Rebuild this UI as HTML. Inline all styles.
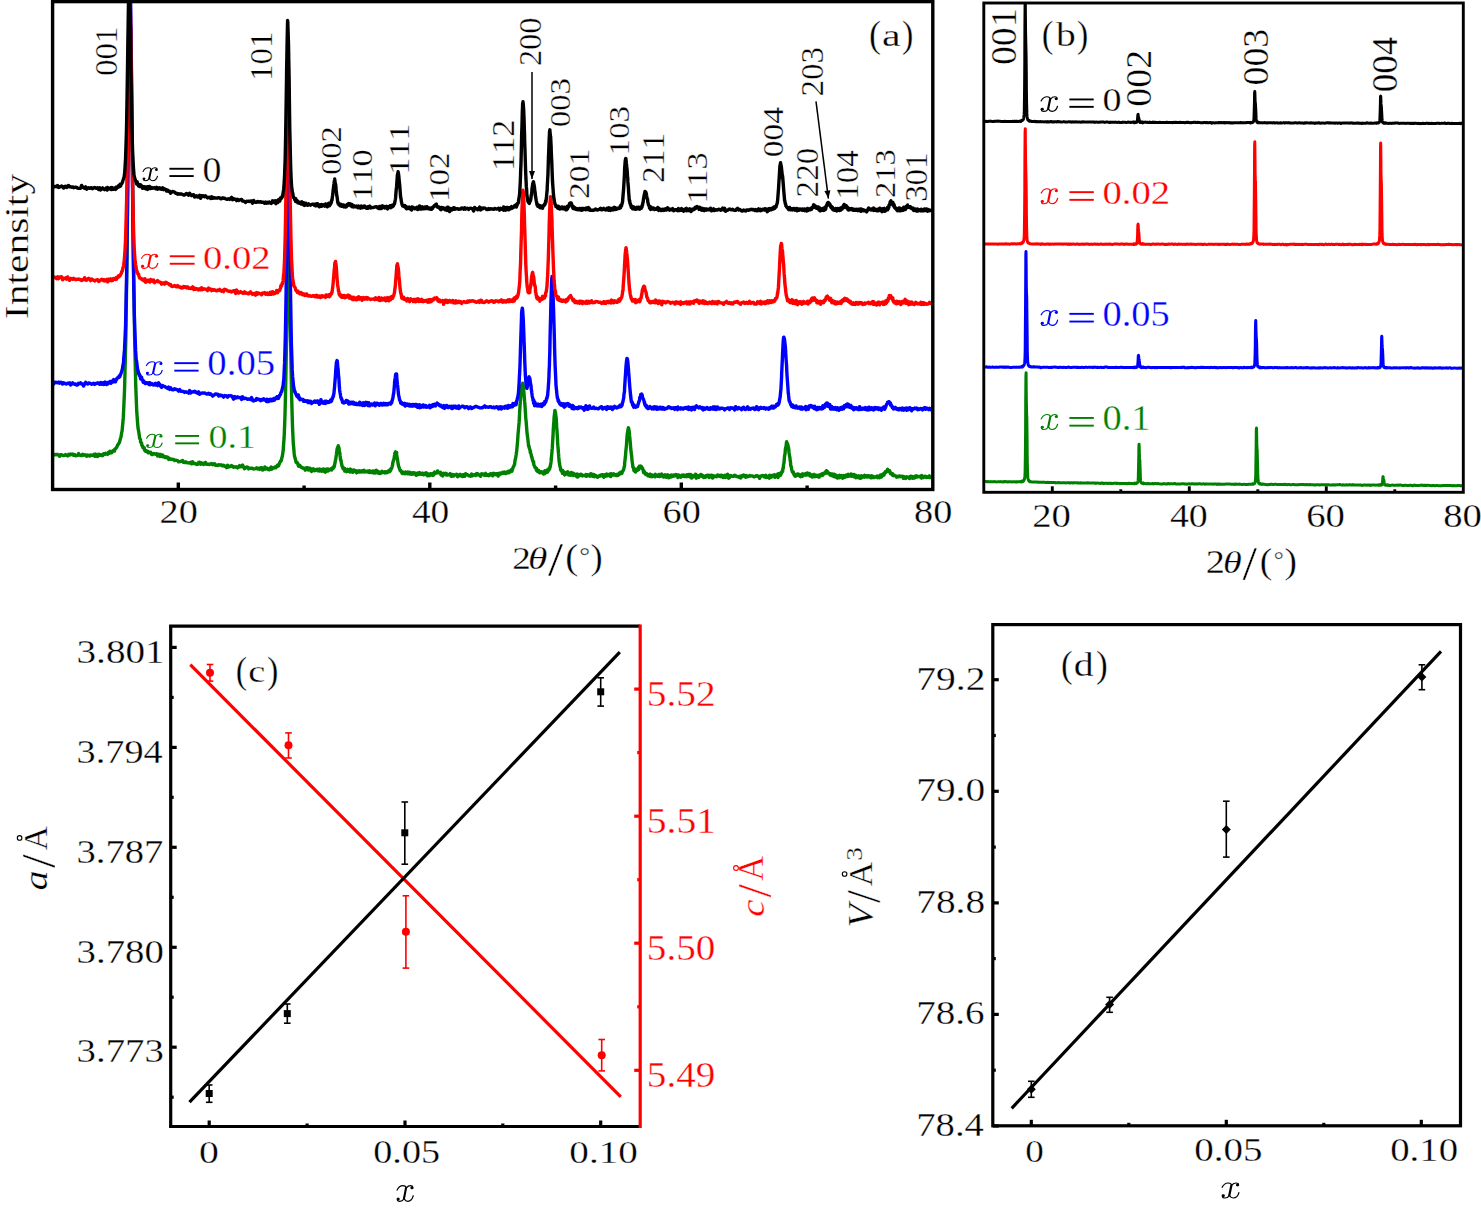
<!DOCTYPE html><html><head><meta charset="utf-8"><style>html,body{margin:0;padding:0;background:#fff;}svg{display:block;font-family:"Liberation Serif",serif;font-kerning:none;}</style></head><body>
<svg width="1481" height="1210" viewBox="0 0 1481 1210">
<rect width="1481" height="1210" fill="#fff"/>
<defs><clipPath id="ca"><rect x="52.6" y="1.6" width="880.2" height="487.9"/></clipPath>
<clipPath id="cb"><rect x="983.8" y="3.0" width="479.5" height="489.3"/></clipPath></defs>
<g clip-path="url(#ca)" fill="none" stroke-width="3.4" stroke-linejoin="round">
<path stroke="#008000" d="M52.6 455L53.6 455.2L54.6 454.8L55.6 454.4L56.6 454.7L57.6 454.4L58.6 455.2L59.6 456.2L60.6 454.8L61.6 454.7L62.6 455.6L63.6 455.5L64.6 455.4L65.6 454.6L66.6 455.3L67.6 455.9L68.6 454.4L69.6 455L70.6 454L71.6 454.5L72.6 454.1L73.6 455.3L74.6 454.5L75.6 455.7L76.6 455.6L77.6 455.4L78.6 453.6L79.6 455.1L80.6 455.5L81.6 455.6L82.6 454.4L83.6 455.2L84.6 454.8L85.6 454.9L86.6 456.3L87.6 454.9L88.6 455.5L89.6 456.1L90.6 455L91.6 455.3L92.6 455.5L93.6 455.4L93.8 454.4L94.6 455.4L95.1 456.3L95.6 454.1L96.3 455.9L96.6 455.3L97.5 454.7L97.6 456.6L98.6 455.6L98.8 454.1L99.6 455L100 455.3L100.6 454.7L101.2 455.3L101.6 454.7L102.4 455.1L102.6 455.7L103.6 453.9L103.7 454.6L104.6 453.9L104.9 454.3L105.6 453.2L106.1 453.5L106.6 453.7L107.3 454.3L107.6 454.4L108.6 452.2L108.6 452.6L109.6 453.3L109.8 451.3L110.6 452.1L111 452.1L111.6 452.8L112.3 452L112.6 451L113.5 450.4L113.6 450.4L114.6 450.9L114.7 449.3L115.6 448.5L115.9 448.5L116.6 447.3L117.2 446.4L117.6 445L118.4 444.3L118.6 443.6L119.6 442.3L119.6 441.8L120.6 438L120.9 437.5L121.6 432.9L122.1 430.8L122.6 425.5L123.3 417.4L123.6 411.3L124.5 391L124.6 387.5L125.6 347.2L125.8 340.1L126.6 285.9L127 256.3L127.6 204.1L128.2 143.4L128.6 107.8L129.4 43.8L129.6 35.9L130.6 25.8L130.7 28.1L131.6 86.9L131.9 113.1L132.6 178.2L133.1 227.5L133.6 267.6L134.4 320.3L134.6 335.9L135.6 379.7L135.6 381.7L136.6 408.3L136.8 412.2L137.6 423.1L138 427.9L138.6 430.9L139.3 435.4L139.6 438.1L140.5 439.6L140.6 442.2L141.6 443L141.7 445.2L142.6 445.8L142.9 447.6L143.6 448.1L144.2 447.7L144.6 450.3L145.4 451.3L145.6 450.3L146.6 451L146.6 451.1L147.6 451.1L147.9 452.8L148.6 452L149.1 452.6L149.6 452.2L150.3 452.6L150.6 452.2L151.5 454.4L151.6 453.4L152.6 454.5L152.8 453.8L153.6 453.4L154 453.8L154.6 453.8L155.2 454.3L155.6 454.1L156.5 454.3L156.6 453.6L157.6 454.2L157.7 456.1L158.6 454.6L158.9 454.4L159.6 455.6L160.1 456.6L160.6 454.5L161.4 455.7L161.6 455.5L162.6 455L162.6 456.8L163.6 456.6L163.8 456.7L164.6 456.4L165 457.5L165.6 456.9L166.3 457.5L166.6 456.9L167.6 457.1L168.6 459.4L169.6 458.4L170.6 459.3L171.6 459.3L172.6 459.3L173.6 459.5L174.6 460.6L175.6 460.1L176.6 460.4L177.6 460.7L178.6 461.8L179.6 461.6L180.6 461.5L181.6 461L182.6 460.5L183.6 462.4L184.6 462.5L185.6 461.8L186.6 462.5L187.6 462.8L188.6 462.9L189.6 463.1L190.6 462.2L191.6 463.8L192.6 461.8L193.6 463.5L194.6 463.3L195.6 463.7L196.6 464.6L197.6 464.4L198.6 462.5L199.6 462.2L200.6 464.2L201.6 462.9L202.6 463.8L203.6 464.5L204.6 462.8L205.6 462.5L206.6 464.4L207.6 464.3L208.6 464.2L209.6 464.5L210.6 463.9L211.6 463.5L212.6 464.7L213.6 464.1L214.6 463.7L215.6 465.4L216.6 465.1L217.6 465.6L218.6 464.6L219.6 465L220.6 464.8L221.6 465L222.6 465.9L223.6 465.2L224.6 466.2L225.6 466.3L226.6 467.6L227.6 465.2L228.6 467L229.6 466.3L230.6 466.5L231.6 465.5L232.6 466.3L233.6 467.3L234.6 466.8L235.6 467L236.6 466.8L237.6 468L238.6 467.2L239.6 465.6L240.6 466.8L241.6 466L242.6 465.1L243.6 467.2L244.6 468.7L245.6 467.8L246.6 467L247.6 467.2L248.6 468.9L249.6 468.2L250.6 468.2L251.6 468.2L252.6 468.3L253.6 469L254.6 468.9L255.6 468.7L256.6 467.8L257.6 469L258.6 468.2L259.6 469.5L260.6 467.8L261.1 468.7L261.6 468.8L262 467.8L262.6 470.1L262.9 469.9L263.6 468.5L263.8 469.4L264.6 469.2L264.8 466.9L265.6 469.1L265.7 468.8L266.6 468.9L266.6 468.1L267.5 468.6L267.6 468.6L268.4 469.6L268.6 468.9L269.4 468.5L269.6 469.7L270.3 468L270.6 468.1L271.2 466.9L271.6 469.3L272.1 468.8L272.6 468.6L273.1 468.3L273.6 467.7L274 467.7L274.6 467.1L274.9 467L275.6 466.9L275.8 467.9L276.6 466.7L276.7 466.1L277.6 465.1L277.7 465L278.6 465.9L278.6 465L279.5 463.6L279.6 463.1L280.4 461.2L280.6 461.6L281.3 460.5L281.6 458.8L282.3 456.3L282.6 454.4L283.2 450.3L283.6 444.4L284.1 437.7L284.6 426.1L285 414.7L285.6 390.2L285.9 374.3L286.6 336.4L286.9 318.5L287.6 274.3L287.8 266.3L288.6 249L288.7 249L289.6 281.8L289.6 284.2L290.5 338.6L290.6 342.1L291.5 388.7L291.6 395.8L292.4 422.8L292.6 428.5L293.3 444L293.6 446.3L294.2 453.7L294.6 456.5L295.1 458.2L295.6 460L296.1 462.4L296.6 462L297 462.4L297.6 462.8L297.9 464.3L298.6 466.2L298.8 466L299.6 465.3L299.8 465.5L300.6 466.4L300.7 467L301.6 467.2L301.6 467.5L302.5 468L302.6 467.6L303.4 468.1L303.6 468.3L304.4 468.3L304.6 468.9L305.3 470.1L305.6 469.2L306.2 468.9L306.6 467.7L307.1 469.4L307.6 467.7L308 468.2L308.6 470L309 469.9L309.6 469.4L309.9 468.2L310.6 469.3L310.6 469.1L310.8 470.1L311.5 471.4L311.6 469.9L311.7 469.1L312.5 468.9L312.6 469.8L312.6 469.7L313.4 469L313.6 470L313.6 469L314.3 470.8L314.5 470.8L314.6 470.8L315.2 469.7L315.4 470.4L315.6 469.9L316.1 469.8L316.6 469.8L317.1 469.1L317.6 469.1L318 470.8L318.6 470.1L318.9 470.4L319.6 471L319.7 468.9L319.8 469.7L320.6 470.4L320.6 470.6L320.8 470L321.5 471.1L321.6 470.4L321.7 469.4L322.4 469.6L322.6 470.9L322.6 470.7L323.4 468.9L323.5 471.3L323.6 470.8L324.3 471.3L324.4 470L324.6 470.1L325.2 469.5L325.4 472.2L325.6 470.2L326.1 471.5L326.3 469.8L326.6 470.4L327 469L327.2 469.9L327.6 470.9L328 469.2L328.1 471L328.6 470.4L328.9 469.3L329 469.7L329.6 469.7L329.8 469.9L330 469.5L330.6 469.2L330.7 469.5L330.9 469L331.6 468.5L331.6 469.4L331.8 470L332.6 467.7L332.6 468.8L332.7 468.2L333.5 466.9L333.6 468.1L333.6 467L334.4 466.5L334.6 464.2L334.6 464.9L335.3 461.1L335.5 459.8L335.6 460.1L336.3 455.3L336.4 454.8L336.6 452.9L337.2 448.5L337.3 448.4L337.6 447.4L338.1 447.2L338.2 445.8L338.6 447.2L339 447.8L339.2 450.4L339.6 451.9L339.9 453.6L340.1 456L340.6 460.2L340.9 459.8L341 460.9L341.6 464L341.8 464.3L341.9 466L342.6 466.9L342.7 467.2L342.8 468.4L343.6 468.4L343.6 469.3L343.8 468.4L344.5 468.8L344.6 468.3L344.7 471.1L345.5 469.8L345.6 470.2L345.6 470L346.4 470.3L346.5 470.3L346.6 471.7L347.3 469.6L347.5 469.3L347.6 469.7L348.2 469.6L348.4 471.2L348.6 471.3L349.1 470.1L349.3 469.8L349.6 470.6L350.1 472L350.2 468.9L350.6 471.4L351 470.3L351.1 471.9L351.6 470.3L351.9 471L352.1 470.1L352.6 470.5L352.8 472.3L353 471.9L353.6 471L353.7 470.7L353.9 469.9L354.6 471.1L354.7 471.4L354.8 471.3L355.6 471.4L355.6 470.6L355.7 471.4L356.5 471.5L356.6 472.5L356.7 472.9L357.4 471.4L357.6 471L357.6 471.5L358.3 471.1L358.5 471L358.6 471.6L359.3 470.9L359.4 472.1L359.6 471.6L360.2 471.9L360.3 471.5L360.6 471.1L361.1 471L361.3 471.5L361.6 471.3L362 471.9L362.2 471.8L362.6 470.8L363 471.8L363.1 470.8L363.6 471.4L363.9 471.6L364 470.3L364.6 471.9L364.8 472L364.9 471.7L365.6 471.6L365.7 471.6L366.6 471.2L366.6 471.7L367.6 471.5L367.6 472L368.1 471.1L368.5 472.2L368.6 472.1L369 471.9L369.4 471.7L369.6 472.4L369.9 470.8L370.3 472.4L370.6 472.2L370.9 472.3L371.2 472.3L371.6 471.6L371.8 471.9L372.2 472.6L372.6 472.4L372.7 472.3L373.1 471L373.6 472.5L373.6 473L374 472.9L374.5 472.3L374.6 471L375.5 472.9L375.6 472.1L376.4 470.3L376.6 472.5L377.3 471.1L377.6 471.2L378.2 471.7L378.6 473.2L379.1 471.9L379.6 472.4L380.1 473.5L380.6 473.4L381 472.1L381.6 472L381.9 471.3L382.6 471.7L382.8 472.5L383.6 472.5L383.7 472.3L384.6 472.9L384.7 471.6L385.6 472.1L385.6 472.6L386.5 472.5L386.6 472.8L387.4 472.2L387.6 471.6L388.3 472L388.6 470.9L389.3 470.2L389.6 471.7L390.2 470.8L390.6 470.7L391.1 468.5L391.6 468.5L392 467.1L392.6 464.8L392.9 462.2L393.6 460.1L393.9 459.4L394.6 454.9L394.8 453.3L395.6 451.9L395.7 452.5L396.6 452.4L396.6 454.5L397.6 460.1L397.6 460.5L398.5 465.9L398.6 466.1L399.4 468.4L399.6 469L400.3 470.8L400.6 470.3L401.2 471.3L401.6 472.3L402.2 473.4L402.6 472L403.1 472.2L403.6 472.6L404 473.5L404.6 472.6L404.9 473.8L405.6 472.1L405.8 472.7L406.6 472.8L406.8 473.5L407.6 473.8L407.7 471.9L408.6 472.4L408.6 473.4L409.5 472.7L409.6 472.1L409.7 474L410.4 473.6L410.6 473.6L410.6 472.9L411.4 474.1L411.6 473.2L411.6 474.2L412.3 472.7L412.5 472.8L412.6 473.6L413.2 472.9L413.4 474L413.6 473.7L414.1 472.8L414.3 473.5L414.6 473.2L415 474.2L415.2 473.1L415.6 473.2L416 474.5L416.2 475.3L416.6 475.1L416.9 473.7L417.1 473.8L417.6 474.8L417.8 473.6L418 472.9L418.6 473.8L418.7 474L418.9 473.1L419.6 472.5L419.6 472.7L419.8 474.3L420.6 473.2L420.6 473.7L420.8 474L421.5 474.3L421.6 473.6L421.7 474.2L422.4 473.2L422.6 473.6L422.6 473.1L423.5 474.7L423.6 473.9L424.4 473.4L424.6 473.7L425.4 473.8L425.6 474.5L426.3 472.8L426.6 473.2L427.2 473.7L427.6 475.9L428.1 474.8L428.6 474L429 474.6L429.6 475.6L430 473.9L430.6 473.8L430.9 475L431.6 474.4L431.8 474.6L432.6 473.6L432.7 475.4L433.6 475.1L433.6 474.2L434.6 473.9L434.6 471.9L435.5 473.4L435.6 472.7L436.4 472.8L436.6 472.9L437.3 472L437.6 471L438.3 472.8L438.6 472.2L439.2 472.9L439.6 472.9L440.1 473.4L440.6 472.2L441 475L441.6 474.4L441.9 475.1L442.6 475.9L442.9 474.5L443.6 473.2L443.8 473.9L444.6 473.7L444.7 474.2L445.6 474.7L445.6 473.2L446.5 475L446.6 473.6L447.5 475L447.6 474.7L448.4 474.6L448.6 474.8L449.3 474.4L449.6 474.4L450.2 473.6L450.6 474.9L451.1 476.3L451.6 476.4L452.1 475.9L452.6 475.5L453 474.5L453.6 476.1L453.9 475L454.6 475L454.8 474.8L455.6 475.1L455.7 474.7L456.6 475L456.7 474.3L457.6 474.9L457.6 476.8L458.5 475.1L458.6 475L459.4 475.6L459.6 475.7L460.3 474.4L460.6 475.1L461.3 475.9L461.6 475.4L462.2 475.3L462.6 476.4L463.1 474.7L463.6 475.3L464 474.8L464.6 476.3L465.6 473.7L466.6 474.7L467.6 474.8L468.6 475.7L469.6 475.6L470.6 476.2L471.6 474L472.6 475.7L473.6 474.9L474.6 474.6L475.6 475.5L476.6 474.4L476.6 473.5L477.6 474.8L478.1 473.9L478.6 474.5L479.6 475.3L479.7 475.3L480.6 476.2L481.2 474.8L481.6 473.8L482.6 474.4L482.7 474.3L483.6 474L484.3 475.2L484.6 474.4L485.6 473.4L485.8 475.4L486.6 474.8L487.3 475.1L487.5 474.9L487.6 475.3L488.6 474.8L488.9 475.7L489 475.1L489.6 475L490.4 475L490.4 473.6L490.6 474.6L491.6 474.5L491.8 474.8L491.9 473.6L492.6 475.8L493.3 474.6L493.5 473.6L493.6 473.3L494.6 474.3L494.7 474.4L495 473.9L495.6 474.5L496.1 473.9L496.6 474.8L496.6 473.8L497.6 474.2L497.6 475L498.1 476.1L498.6 473.4L499 473.8L499.6 473.4L499.6 474.6L500.4 473.1L500.6 473.6L501.2 473.8L501.6 473.1L501.9 473L502.6 473.3L502.7 472.1L503.3 472.4L503.6 473.2L504.2 473.4L504.6 473.1L504.7 471.9L505.6 472.7L505.8 473.6L506.2 473.3L506.6 472.7L507.3 471.8L507.6 472.8L507.6 471.9L508.6 471.1L508.8 471.2L509 472.8L509.6 471.6L510.4 471.8L510.5 470.5L510.6 471.4L511.6 469.4L511.9 469.4L511.9 471.3L512.6 469.1L513.3 466.8L513.4 466.8L513.6 466.7L514.6 464.2L514.8 462.3L515 460.5L515.6 458.2L516.2 454.5L516.5 452L516.6 452.1L517.6 441.1L517.6 441.2L518 434.6L518.6 428.2L519.1 422.4L519.6 413.3L519.6 412.4L520.5 398.9L520.6 398.5L521.1 390.1L521.6 386.2L521.9 384.7L522.6 384L522.6 383.2L523.3 387.4L523.6 389.1L524.2 395.8L524.6 401.2L524.8 402.9L525.6 415.1L525.7 417.3L526.2 422.4L526.6 427.5L527.2 434.8L527.4 435L527.6 437.5L527.6 437L528.3 443.4L528.6 445.8L528.8 446.6L529.1 446.3L529.2 447.8L529.6 448.8L530.2 451L530.3 452.6L530.5 451.2L530.6 453.3L531.1 454.3L531.6 457.2L531.8 457.2L531.9 456.9L532 457.9L532.6 460.4L532.9 461L533.4 462.8L533.4 462.1L533.6 461.5L533.8 464.6L534.6 466.4L534.8 466.4L534.8 466.4L534.9 467.4L535.6 467.7L535.7 467.7L536.2 468.9L536.4 470.3L536.6 468.5L536.6 470.5L537.5 470.1L537.6 469.8L537.7 471.6L538 470.9L538.5 470.3L538.6 471.1L539.1 472.3L539.4 472.6L539.5 471.4L539.6 472.1L540.3 472.6L540.5 471.6L540.6 472.4L541 472.2L541.1 471.8L541.2 471.9L541.6 472.3L541.9 472.4L542 471.9L542.1 472L542.6 473.2L542.6 472.6L542.8 473.1L543.1 473.3L543.4 472.9L543.6 474.1L543.7 471.8L544 473L544.1 472.1L544.6 473.7L544.7 473.6L544.8 470.8L544.9 471.6L545.6 472.7L545.6 472.7L545.7 472.7L545.8 472L546.3 472.3L546.5 472.4L546.6 471.8L546.7 472.5L547.2 469.9L547.4 471.9L547.6 470.5L547.7 472L547.7 471.1L548.4 470L548.6 470.6L548.6 469.7L548.7 469.5L549.1 468.3L549.3 469.2L549.5 469L549.6 469.2L550.2 466.2L550.3 466.8L550.4 465.2L550.6 464.4L550.6 464.7L551.1 461.4L551.3 458.4L551.6 455.8L551.8 453.6L552 451.3L552 450L552.3 448.2L552.6 441.9L553 436.5L553.2 431.4L553.3 429.7L553.4 428L553.6 424.3L553.9 421.7L554.1 417.1L554.6 413.3L554.8 411.8L554.9 410.4L554.9 410.6L555 411L555.6 413.2L555.7 414.2L555.9 416.3L556.3 419.5L556.4 422.3L556.6 423.9L556.6 426.5L556.9 429.4L557.6 440.9L557.6 442L557.7 444.2L557.8 444L557.9 445.9L558.5 453.5L558.6 454.2L558.7 456.2L559.2 462.2L559.4 462.1L559.5 463.8L559.6 463.1L559.6 464.6L560.3 467.5L560.5 468.4L560.6 469L560.6 470L561 469.9L561.2 470.3L561.5 469.9L561.6 471.3L562 471.3L562.2 472.2L562.4 471.8L562.5 473.3L562.6 470.5L563.1 472.2L563.3 473.2L563.5 472.4L563.6 472.1L564 472.7L564.1 471.9L564.2 473.1L564.6 475L564.9 474.1L564.9 472.4L565.2 472.6L565.6 473.1L565.6 474.1L565.8 472.8L566.1 472.9L566.3 474.1L566.6 474.1L566.8 473.2L567 472.6L567.1 472.3L567.6 472.9L567.7 471.8L567.7 474L567.9 473L568.6 473.9L568.6 475L568.8 474.5L569.2 472.8L569.5 474.4L569.6 474.7L569.8 473.3L570.4 473.3L570.6 474L570.6 472.9L570.7 475.2L571.4 472.5L571.6 473.6L571.6 474.2L572 474.3L572.3 474.7L572.5 474.8L572.6 474.4L573.2 475.6L573.4 473.1L573.6 474.8L574.1 474.3L574.4 474.9L574.6 475L575.1 474.2L575.3 474.4L575.6 475.5L576 475.2L576.2 474.5L576.6 476.5L576.9 476.8L577.1 473.9L577.6 475.3L577.8 477L578 475.7L578.6 475.3L578.7 475L579 474.7L579.6 475L579.7 474.7L579.9 475.7L580.6 474.9L580.6 474.9L580.8 474.3L581.5 475.2L581.6 474.5L581.7 475.1L582.4 476L582.6 475.5L583.3 475.6L583.6 475.5L584.3 475.3L584.6 475.2L585.2 475.1L585.6 475.9L586.1 474.5L586.6 476.3L587 475.4L587.6 474.8L587.9 475L588.6 474.9L588.9 475.5L589.6 474.8L589.8 476.2L590.6 474.8L590.7 473.7L591.6 474.9L591.6 473.9L592.5 475.4L592.6 476.2L593.5 475.9L593.6 474.4L594.4 474.8L594.6 476.8L595.3 475.7L595.6 475.4L596.6 476.2L597.6 477.3L598.6 476.4L599.6 475.5L600.6 475.7L600.7 475.9L601.6 475L601.6 474.6L602.6 475.5L602.6 474.7L603.5 475.4L603.6 475.5L603.7 477.2L604.4 474.8L604.6 475.3L605 475.3L605.3 475.7L605.6 476.2L606.2 475L606.2 474.8L606.6 474.1L607.2 474.7L607.4 475.8L607.6 475.4L608.1 474.6L608.6 475.1L608.6 475.4L609 475.7L609.6 474.9L609.9 475.1L609.9 473.9L610.6 474.4L610.8 476.5L611.1 473.6L611.6 475L611.8 475.4L612.3 474.9L612.6 474.6L612.7 475.1L613.6 475.1L613.6 475L613.6 473.7L614.5 474.9L614.6 474.4L614.8 474.6L615.4 475.1L615.6 475.4L616 475.5L616.4 474.4L616.6 475.5L617.2 475.5L617.3 475.5L617.6 475.6L618.2 474.3L618.5 474.3L618.6 475L619.1 473.2L619.6 474.2L619.7 473.6L620 473.6L620.6 472.3L620.9 472.8L621 473.4L621.6 473.6L621.9 473.4L622.1 472.3L622.6 471.6L622.8 470.7L623.4 470.2L623.6 469L623.7 469.2L624.6 465.4L624.6 464.1L624.7 462.6L625.6 454.8L625.6 454L625.8 451.6L626.5 445L626.6 442.8L627.1 435.6L627.4 433.3L627.6 432.1L628.3 428L628.3 427.7L628.6 428.3L629.3 432.1L629.5 434.4L629.6 435.7L630.2 441.7L630.6 446.7L630.7 448.5L631.1 452.1L631.6 455.7L632 460.1L632 460.8L632.6 464.3L632.9 467.1L633.2 467.2L633.6 468.2L633.9 470.6L634.4 471L634.6 470.9L634.8 471.6L635.6 472L635.6 471.4L635.7 469.3L636.6 470.2L636.6 470.3L636.9 469.7L637.5 469.8L637.6 470.4L638.1 468.4L638.5 467.4L638.6 469.6L639.3 466.8L639.4 466.1L639.6 467L640.3 466.8L640.6 466L640.6 467.1L641.2 466.6L641.6 466.6L641.8 467.7L642.1 468.7L642.6 468.4L643 469.9L643.1 469.6L643.6 472.8L644 470.8L644.2 472.8L644.6 472.2L644.9 472.5L645.5 473.8L645.6 474.1L645.8 474.6L646.6 474.4L646.7 473.8L646.7 473.9L647.6 475.1L647.7 475.1L647.9 475.8L648.6 475.3L648.6 475.8L649.2 476.2L649.5 475.3L649.6 474.1L650.4 474.4L650.4 474.2L650.6 476.5L651.4 474.7L651.6 476.3L651.6 475.8L652.3 476.7L652.6 476.2L652.8 475.4L653.2 475.4L653.6 475.6L654.1 475.7L654.1 475.2L654.6 475.6L655 476.8L655.3 474.3L655.6 475.8L656.5 475L656.6 475.8L657.6 476.3L657.7 475.7L658.6 476.3L659 474.5L659.6 476.6L660.2 475.3L660.6 476.2L661.4 475.9L661.6 473.9L662.6 475.3L662.7 476L663.6 477L663.9 476.1L664.6 476.1L665.1 474.8L665.6 476.9L666.3 477.2L666.6 475.9L667.6 475.7L667.6 474.7L668.6 476.6L668.8 477.9L669.6 476.5L670 476.9L670.5 476.3L670.6 475.2L671.2 476.9L671.4 475L671.6 475.8L672.3 476.2L672.5 476.6L672.6 476.3L673.3 476.3L673.6 475.4L673.7 475L674.2 476L674.6 475.4L674.9 475L675.1 475L675.6 475.6L676 474.6L676.2 475L676.6 474.8L676.9 476.1L677.6 476.3L677.9 477.5L678.6 474.9L678.8 475.5L679.6 476.7L679.7 475.9L680.6 475.8L680.6 477.3L681.5 475.8L681.6 475.2L682.5 475.1L682.6 476.3L683.4 476.3L683.6 475L684.3 475.3L684.6 476.5L685.2 476.5L685.6 475.6L686.2 476.5L686.6 476.5L687.1 474.7L687.6 475.8L688 476.4L688.6 475.6L688.9 474.5L689.6 475.9L689.8 476.6L690.6 477.3L690.8 474.4L691.6 478.1L691.7 475.3L692.6 476.8L692.6 477L693.5 476.8L693.6 476.2L694.4 475.2L694.6 476.6L695.4 475.6L695.6 474.2L696.3 478.2L696.6 476.7L697.2 477.5L697.6 475.4L698.1 477.2L698.6 477.3L699 477.3L699.6 476.1L700 475.2L700.6 476L700.9 474.5L701.6 474.9L701.8 476.2L702.6 475.4L702.7 476L703.6 476.1L703.6 477.6L704.6 477.1L704.6 476.1L705.5 477.1L705.6 475.6L706.4 475.9L706.6 476.9L707.3 475.2L707.6 476L708.2 475.2L708.6 476.3L709.2 477.4L709.6 475.6L710.1 476.4L710.6 475.5L711 475.3L711.6 475.3L711.9 477.3L712.6 478L712.9 476.6L713.6 475.7L713.8 476.7L714.6 476L714.7 476.8L715.6 476.4L715.6 476.4L716.5 476.7L716.6 475.8L717.5 475.9L717.6 474.9L718.4 475.9L718.6 475.2L719.3 476.1L719.6 475.5L720.2 476.3L720.6 476.6L721.1 475.2L721.6 475.6L722.1 475.5L722.6 476.8L723 477.5L723.6 476.9L723.9 476L724.6 477.3L724.8 475.1L725.6 477.4L726.6 475.8L727.6 474.2L728.6 478.2L729.6 477.4L730.6 475.5L731.6 476.4L732.6 476.1L733.6 476.3L734.6 475.2L735.6 475.8L736.6 476.6L737.6 476.4L738.6 477.2L739.6 476.3L740.6 478L741.6 475.8L742.6 476.5L743.6 474.9L744.6 475.4L745.6 477.3L746.6 475.6L747.6 476.7L748.6 476.3L749.6 475.5L750.6 476L751.6 475.9L752.6 475.9L753.6 476.9L754.6 476.8L755.6 475.9L756.6 475.6L757.6 476.5L758.6 476.2L759.3 477L759.6 478.3L760.2 476.9L760.6 476.2L761.1 476.1L761.6 475.6L762 475.6L762.6 475.5L763 475.9L763.6 475.9L763.9 476.8L764.6 475.9L764.8 476.1L765.6 475.3L765.7 477.4L766.6 476.6L766.6 477.5L767.6 476.8L767.6 477.3L768.5 476L768.6 476.7L769.4 478.1L769.6 475.2L770.3 477L770.6 477.3L770.6 476.4L771.2 476.6L771.6 477L771.8 475.5L772.2 476.3L772.6 475.3L773 475.4L773.1 475.5L773.6 475.8L774 476L774.3 476.2L774.6 474.7L774.9 477.3L775.5 476.6L775.6 476.3L775.8 475.4L776.6 475.5L776.7 476L776.8 475.8L777.6 474.1L777.7 475.9L778 477.5L778.6 473.7L778.6 475.9L779.2 475.2L779.5 474.7L779.6 475.8L780.4 473.3L780.5 474.3L780.6 475.2L781.4 473.1L781.6 472.5L781.6 472.9L782.3 470.9L782.6 471.5L782.9 468.5L783.2 468.3L783.6 464.4L784.1 462.3L784.1 461.4L784.6 455.6L785.1 453.3L785.3 449.9L785.6 447.9L786 446.6L786.6 441.8L786.6 441.7L786.9 443.4L787.6 443.8L787.8 445.6L787.8 444.8L788.6 448L788.7 449.5L789 452.3L789.6 456.6L789.7 456.3L790.1 459.6L790.2 460.6L790.6 462.7L790.6 464.7L791.3 467.3L791.5 467.2L791.5 467.9L791.6 469.2L792.4 472L792.5 471.7L792.6 471.4L792.7 472.1L793.3 472L793.6 472.6L793.8 474.4L793.9 473.6L794.3 474.5L794.6 475.4L795 475.2L795.1 474.8L795.2 476.4L795.6 475.5L796.1 474.8L796.2 475.7L796.4 475.5L796.6 474.6L797 475.4L797.4 475.3L797.6 473.9L797.6 475.3L797.9 475.3L798.6 475.2L798.7 474.3L798.8 475.3L798.9 475.6L799.6 475.7L799.8 474.8L799.9 476.2L800.1 474.7L800.6 475.5L800.7 476.7L801.1 475.1L801.3 475.2L801.6 476.4L801.6 475.3L802.4 475.3L802.5 475.6L802.5 476.3L802.6 473.7L803.5 474.5L803.6 474.4L803.6 474.3L803.7 474.4L804.4 474.2L804.6 474.9L804.8 473.9L805 474.6L805.3 474.7L805.6 473.7L806 474.1L806.2 475.2L806.2 474.2L806.6 473.4L807.2 473.7L807.3 473L807.4 474L807.6 474.4L808.1 473.2L808.5 473.8L808.6 474.8L808.6 473.6L809 474.2L809.6 473.6L809.7 473.8L809.9 474.1L809.9 476.1L810.6 474.5L810.8 474.6L811 474.6L811.1 475L811.6 475.8L811.8 475.5L812.2 477.1L812.3 475.7L812.6 476.7L812.7 475.9L812.8 476.2L813.4 474.8L813.6 475.8L813.6 475.8L813.6 475.7L814.1 474.4L814.6 476.7L814.6 475.8L814.8 475.7L815.3 475.9L815.6 475.9L815.9 476.4L816 475.2L816.5 475.5L816.6 476.4L817.1 476.3L817.2 475.9L817.6 475.7L817.8 475.5L818.3 476.1L818.5 477L818.6 475.3L819 477.2L819.5 476.7L819.6 475.7L819.7 476.6L820.2 474.8L820.6 474.6L820.8 474.9L820.9 475.5L821.4 475.4L821.6 475.2L822 475.4L822.2 473.7L822.6 475.4L822.7 473.9L823.2 474.1L823.4 474.2L823.6 473.4L823.9 473L824.5 472.8L824.6 473.4L824.6 473.9L825.1 473.4L825.6 471.8L825.7 471.9L825.8 471.7L826.3 472.5L826.6 470.6L826.9 473L827.1 471.7L827.6 471.6L827.6 472.5L828.1 473.2L828.3 472.8L828.6 473.5L828.8 473L829.4 474.2L829.5 474.3L829.6 473.4L830 474.9L830.6 474.4L830.6 474.4L830.7 473.7L831.3 474.6L831.6 475.6L831.8 474.2L832 475.8L832.5 475.8L832.6 475.8L833 474.1L833.2 475.7L833.6 476.4L833.7 475.4L834.3 476.2L834.4 474.3L834.6 476.7L834.9 475.7L835.5 476.9L835.6 474.9L835.7 476.8L836.2 476.2L836.6 477L836.7 475.7L836.9 475.9L837.4 478.1L837.6 475.8L838 475.9L838.1 476.2L838.6 475.7L838.6 477.3L839.2 477.7L839.3 475.9L839.6 475.2L839.8 477.3L840.4 477.3L840.6 477.1L840.6 477.3L841.1 475.8L841.6 476.3L841.6 475.4L841.8 475.4L841.9 477.2L842.3 476L842.6 478.2L842.9 476.5L843 476L843.4 477L843.5 477.8L843.6 476.8L844.1 475.5L844.6 476.6L844.8 477.3L845 475.9L845.3 475.6L845.6 476.9L846 476.2L846.5 475.1L846.6 475.7L846.6 475.4L847.2 476L847.6 475.8L847.8 476.5L848 476.1L848.4 474.3L848.6 475.8L849 476.1L849.6 475.7L849.6 476.1L849.7 475L850.2 474.7L850.6 476.1L850.9 474.7L851.1 473.9L851.5 476.3L851.6 475.1L852.1 475.5L852.6 474.8L852.6 474.8L852.7 475L853.4 475.7L853.6 476.4L853.9 474.4L854.2 476.8L854.6 475.4L854.6 475.5L855.1 476.9L855.6 476.4L855.7 475.3L855.8 477.8L856.4 475.9L856.6 476.7L857 476.7L857.2 477.6L857.6 476.2L857.6 477.3L858.3 476L858.6 477.5L858.8 476L858.8 476.4L859.5 478.1L859.6 476.9L860.1 476.7L860.3 478.3L860.6 476.9L860.7 476L861.3 477.2L861.6 475.8L861.8 477.5L861.9 477.6L862.5 476.2L862.6 476.2L863.2 476.8L863.4 476.7L863.6 475.9L864.4 477.1L864.6 475.1L864.9 476.4L865.6 476.4L865.6 476.5L866.4 476.9L866.6 475.8L866.9 477.1L867.6 476.5L868 476.2L868.1 475.7L868.6 475.8L869.3 476.9L869.5 475.9L869.6 476.7L870.5 477.5L870.6 477.4L871 477.8L871.6 476.4L871.8 475.8L872.6 477.4L872.6 476.9L873 477.5L873.6 476.6L874.1 477.5L874.2 477.2L874.6 477.1L875.4 476.9L875.6 476.9L875.6 476.7L876.6 476.7L876.7 477.2L877.2 476.1L877.6 477.7L877.9 476.3L878.6 477.1L878.7 476.3L879.1 476.1L879.6 477.7L880.3 475.8L880.4 475L880.6 475.4L881.6 475.3L881.6 477.1L881.8 475.6L882.6 475.6L882.8 474L883.3 474.7L883.6 474.7L884 475.1L884.6 472.7L884.9 473.4L885.3 472.8L885.6 471.5L886.4 471.6L886.6 471.3L887.6 469.3L887.9 471.5L888.6 471.6L889.5 471.3L889.6 470.7L890.6 473.6L891 473L891.6 474.1L892.5 475.2L892.6 473.8L893.6 475.6L894.1 475.1L894.6 475.5L895.6 475.9L895.6 475.9L896.6 477.1L897.1 476.4L897.6 476.3L898.6 476.3L898.7 476.8L899.6 475.9L900.2 476.3L900.6 476.6L901.6 476.3L901.7 476.6L902.6 476.3L903.3 478.3L903.6 477.8L904.6 477.1L904.8 476.8L905.6 478.5L906.3 477.1L906.6 476.8L907.6 477.1L907.9 477.1L908.6 477.9L909.4 476.9L909.6 478.5L910.6 476.2L910.9 477.4L911.6 476.2L912.5 478.3L912.6 476.7L913.6 476.9L914 477.6L914.6 477.9L915.5 476.1L915.6 476.7L916.6 475.9L917.1 477.1L917.6 476.9L918.6 476.7L918.6 476.5L919.6 476.7L920.1 476.4L920.6 477.4L921.6 478.1L921.7 475.5L922.6 476.9L923.2 476.7L923.6 477.4L924.6 476.3L924.8 476.9L925.6 476.2L926.3 477.5L926.6 477.1L927.6 476.9L927.8 477.3L928.6 476.8L929.4 475.9L929.6 477.5L930.6 477.3L930.9 476.9L931.6 477.8L932.4 478L932.6 476.2L932.8 476.5"/>
<path stroke="#0000ff" d="M52.6 384.2L53.6 384.1L54.6 382.5L55.6 382.2L56.6 382.6L57.6 382.8L58.6 382L59.6 383.2L60.6 382.3L61.6 382.4L62.6 384L63.6 382.8L64.6 383.3L65.6 383.9L66.6 384L67.6 383.2L68.6 383.5L69.6 382.9L70.6 384.9L71.6 384.1L72.6 382.8L73.6 383.6L74.6 384.2L75.6 384L76.6 385.1L77.6 384.8L78.6 383.3L79.6 383.7L80.6 382.8L81.6 384L82.6 383.9L83.6 385.9L84.6 383.9L85.6 382.3L86.6 383.4L87.6 384L88.6 382.9L89.6 383.2L90.6 383.6L91.6 384.2L92.6 383.8L93.6 383.2L94.6 384.5L95.6 383.5L96.6 383.5L97.6 382.8L98.6 383.2L99.6 384.2L100.6 382.5L101.3 383.6L101.6 384.2L102.2 383.3L102.6 383.8L103.2 382.7L103.6 384.5L104.2 384.3L104.6 383.6L105.1 382L105.6 382.5L106.1 384L106.6 384.5L107.1 383.3L107.6 384L108.1 382.5L108.6 382.7L109 382.8L109.6 383L110 381.4L110.6 383.1L111 383.3L111.6 381.2L112 381L112.6 382L112.9 381.1L113.6 379.6L113.9 381.8L114.6 381L114.9 380.3L115.6 381.8L115.8 380.2L116.6 378.9L116.8 379.4L117.6 377.7L117.8 377.7L118.6 377.6L118.8 376.7L119.6 375.5L119.7 376.9L120.6 374.5L120.7 374.2L121.6 371.5L121.7 371.3L122.6 368.3L122.6 367L123.6 362.2L123.6 359.9L124.6 348.7L124.6 347.7L125.6 325.1L125.6 324.3L126.5 280.9L126.6 274.9L127.5 203.6L127.6 194L128.5 100.8L128.6 86.6L129.4 8.3L129.6 -2.5L130.4 -9.2L130.6 -1L131.4 64.8L131.6 87L132.4 169.5L132.6 195.9L133.3 256.5L133.6 277L134.3 313.7L134.6 324.3L135.3 342.5L135.6 350.4L136.2 359.7L136.6 361.1L137.2 366.1L137.6 369.2L138.2 371.3L138.6 374L139.2 373.8L139.6 375.8L140.1 375.6L140.6 379L141.1 377.8L141.6 377.4L142.1 379.6L142.6 380.2L143.1 382.2L143.6 380.9L144 381.5L144.6 382.4L145 383.4L145.6 382.5L146 383.5L146.6 383.3L146.9 382.8L147.6 383.3L147.9 383.4L148.6 382.9L148.9 384.5L149.6 382.7L149.9 384.7L150.6 384.6L150.8 383.9L151.6 383.5L151.8 383.9L152.6 384.5L152.8 384.7L153.6 384.5L153.7 385L154.6 383.9L154.7 384.5L155.6 383.3L155.7 385L156.6 384.7L156.7 384.3L157.6 385.6L157.6 385.3L158.6 382.8L158.6 385L159.6 384L160.6 386.2L161.6 387.5L162.6 385.5L163.6 386.3L164.6 386.4L165.6 387.2L166.6 387.7L167.6 388.5L168.6 387.1L169.6 389.4L170.6 387.8L171.6 389L172.6 389.9L173.6 389.8L174.6 388.8L175.6 389.2L176.6 389.6L177.6 390.1L178.6 391.1L179.6 389.5L180.6 391L181.6 391.3L182.6 391.4L183.6 391.5L184.6 392.4L185.6 391.8L186.6 392.2L187.6 392.1L188.6 393.1L189.6 390.5L190.6 393L191.6 392L192.6 392.1L193.6 391.7L194.6 391.2L195.6 392.4L196.6 392.3L197.6 393.3L198.6 391.9L199.6 394.3L200.6 393.5L201.6 393.2L202.6 393L203.6 393.1L204.6 392.9L205.6 393.5L206.6 394L207.6 394L208.6 393.2L209.6 394.2L210.6 393.8L211.6 394.7L212.6 396.1L213.6 395.3L214.6 394.7L215.6 393.9L216.6 394.2L217.6 394.1L218.6 396L219.6 395L220.6 395.7L221.6 395.3L222.6 396L223.6 397.1L224.6 395.6L225.6 396L226.6 395.8L227.6 397.2L228.6 395.8L229.6 395.9L230.6 395.8L231.6 395.9L232.6 397.4L233.6 399.1L234.6 396.5L235.6 398.1L236.6 397.7L237.6 396.8L238.6 397.5L239.6 397.7L240.6 397.4L241.6 399.5L242.6 396.8L243.6 398.6L244.6 398.6L245.6 398.1L246.6 398.7L247.6 399.4L248.6 398.9L249.6 399.2L250.6 399.5L251.6 397.6L252.6 400.3L253.6 401L254.6 400.1L255.6 400.3L256.6 398.5L257.6 399.6L258.6 399.2L259.6 399.4L260.6 400.6L261.6 399.4L262.6 400L263.6 398.7L264.6 400L265.4 400.3L265.6 399.7L266.1 399.7L266.6 401.6L266.9 399.3L267.6 399.4L267.7 399.5L268.4 401L268.6 401.6L269.2 400.3L269.6 399.4L270 399.6L270.6 400.6L270.7 399.2L271.5 400.8L271.6 400.8L272.3 399.6L272.6 400L273 400L273.6 400.4L273.8 398.4L274.6 399.9L274.6 398.7L275.3 398.2L275.6 398.7L276.1 398.2L276.6 397.4L276.9 396.8L277.6 396.8L277.6 398.6L278.4 398.4L278.6 397.2L279.2 397L279.6 395.2L279.9 395.1L280.6 394.3L280.7 393.1L281.5 391.4L281.6 391.9L282.2 389.5L282.6 387.3L283 386.1L283.6 380.6L283.8 379.5L284.5 364.7L284.6 362.9L285.3 337.9L285.6 322.5L286.1 291.8L286.6 250.1L286.8 230.2L287.6 170L287.6 170L288.4 146.8L288.6 152.6L289.1 181.4L289.6 218.2L289.9 244L290.6 297.9L290.7 304L291.4 344.7L291.6 349.8L292.2 369.4L292.6 376.4L293 380.3L293.6 386.7L293.7 386.5L294.5 391.5L294.6 390.8L295.3 392.4L295.6 393.5L296 394.1L296.6 395.7L296.8 396L297.6 396.9L297.6 396.5L298.3 394.9L298.6 398L299.1 396.9L299.6 398.8L299.9 399.7L300.6 399.4L300.7 398.9L301.4 399.5L301.6 399.6L302.2 399.5L302.6 399.6L303 399.5L303.6 401.3L303.7 400.4L304.5 401.3L304.6 400.4L305.3 400.8L305.6 400.7L306 401.3L306.6 401.7L306.8 401.3L307.6 400.7L307.6 400.6L308.3 402.6L308.6 401.1L309.1 401.2L309.6 402.6L309.9 402.3L310.6 402L310.6 401.3L311.6 403.5L312.6 402.1L313.6 402.3L314 401.8L314.6 400.9L314.8 401L315.6 402.3L315.6 402.3L316.3 401.9L316.6 401.2L317.1 401L317.6 401.9L317.9 401L318.6 402.8L318.6 403L319.4 404.3L319.6 402.9L320.2 401.8L320.6 401.6L320.9 399.6L321.6 401.8L321.7 402.1L322.5 403L322.6 402.7L323.2 402.7L323.6 402.4L324 402.7L324.2 403.3L324.6 401.4L324.8 401.9L325 401.2L325.5 403.4L325.6 403.2L325.7 402.7L326.3 401.2L326.5 402.3L326.6 401.9L327.1 402.1L327.3 401.9L327.6 402.4L327.8 401.7L328 402.6L328.6 402L328.6 401.6L328.8 401.7L329.4 401.3L329.6 402.2L329.6 401.4L330.1 401.6L330.3 401L330.6 400.1L330.9 401.7L331.1 400.1L331.6 401L331.7 400.7L331.9 398.9L332.4 398.5L332.6 398.5L332.6 398.1L333.2 396.1L333.4 396.5L333.6 394.8L334 392.8L334.2 390.4L334.6 386.8L334.7 384.4L334.9 382.3L335.5 375L335.6 373.2L335.7 371.2L336.3 363.7L336.5 362.7L336.6 362L337 360.6L337.2 360.8L337.6 364.2L337.8 367.7L338 368.2L338.6 376.3L338.6 376.7L338.8 377L339.3 386.1L339.5 387.8L339.6 389.9L340.1 393L340.3 394L340.6 396L340.9 397.6L341.1 397.8L341.6 399.5L341.6 398.6L341.9 399.9L342.4 401.4L342.6 402.5L342.6 401.5L343.2 401.6L343.4 402.4L343.6 402.4L343.9 403L344.2 402.7L344.6 401.9L344.7 402.2L344.9 402.1L345.5 402.2L345.6 402.2L345.7 401.4L346.2 400.4L346.5 401.5L346.6 400.5L347 402.1L347.2 402.1L347.6 400.9L347.8 402.7L348 402.9L348.5 402.6L348.6 403.8L348.8 404L349.3 401.9L349.5 403.6L349.6 403.2L350.1 403.3L350.3 403.8L350.6 402.6L350.8 402.7L351.1 402.6L351.6 402.7L351.6 403.2L351.8 402.2L352.4 402.6L352.6 403.8L352.6 403.4L353.1 403.7L353.4 402.1L353.6 402.9L353.9 403.1L354.1 403.6L354.6 403.1L354.7 404.3L354.9 403.5L355.5 403.6L355.6 403.6L355.7 404.2L356.2 403.3L356.4 404.5L356.6 404L357 403.8L357.2 403.7L357.6 404.1L357.8 404.5L358 404.5L358.5 404.1L358.6 404.4L358.7 403.9L359.3 404.7L359.5 403.8L359.6 402.3L360.3 404.8L360.6 403.9L361 403L361.6 403.7L361.8 403.2L362.6 405.5L362.6 404.3L363.3 402.8L363.6 404.4L364.1 403.7L364.6 405.4L364.9 403.2L365.6 402.3L365.6 404.1L366.4 403.8L366.6 403.7L367.2 402.5L367.6 404.4L367.9 405.4L368.6 402.7L368.7 405L369.5 403.7L369.6 405.9L370.6 404.5L371.6 404L372.6 405L373 404.6L373.6 403.8L373.8 404.8L374.5 403.9L374.6 402.9L375.3 405.8L375.6 404L376.1 403.8L376.6 404.5L376.8 403.1L377.6 403.3L377.6 403.9L378.4 403.9L378.6 404.4L379.1 405.2L379.6 404L379.9 404.7L380.6 404.8L380.7 403.5L381.4 404.5L381.6 403.6L382.2 405.1L382.6 404.6L383 404.3L383.6 403.3L383.7 404.4L384.5 403.7L384.6 404.8L385.3 404.1L385.6 403.6L386 404.8L386.6 404.6L386.8 403.6L387.6 404.8L387.6 403.7L388.3 403.6L388.6 403.9L389.1 403.1L389.6 403.1L389.9 403.2L390.6 404.1L390.6 404L391.4 401.9L391.6 403L392.2 400.4L392.6 399.1L392.9 397.9L393.6 392.9L393.7 393.6L394.5 384.5L394.6 382.1L395.2 378L395.6 374.6L396 373.9L396.6 374L396.8 378.1L397.5 385L397.6 385.5L398.3 392.4L398.6 395.3L399.1 397.1L399.6 400.3L399.8 399.9L400.6 402L400.6 403.1L401.4 403.5L401.6 402.4L402.1 404L402.6 403.8L402.9 403.5L403.6 404.7L403.7 404L404.4 403.4L404.6 403.7L405.2 406L405.6 403.6L406 405L406.6 405.4L406.8 405.4L407.5 404.1L407.6 404.8L408.3 405.2L408.6 405.7L409.1 404.7L409.6 404.3L409.8 406L410.6 406.1L410.6 405.6L411.4 404.9L411.6 405.7L412.1 405.5L412.6 406.1L412.9 404.5L413.4 405.6L413.6 405.4L413.7 404.7L414.1 405.7L414.4 405.6L414.6 405.2L414.9 405.9L415.2 404.5L415.6 405.6L415.7 405.9L416 405.8L416.4 406.5L416.6 404.8L416.7 404.5L417.2 405.9L417.5 406L417.6 407.3L418 406.2L418.3 405.1L418.6 406.3L418.7 405.1L419.5 404.7L419.6 407.7L420.3 406.1L420.6 406.4L421 406.3L421.6 407.2L421.8 406.1L422.6 406.8L422.6 405.1L423.3 404.9L423.6 407L424.1 407.1L424.6 406.4L424.9 406.2L425.6 406.1L425.6 405.5L426.4 407.2L426.6 406.5L427.2 406.4L427.6 406.4L427.9 406.9L428.6 406.5L428.7 406.7L429.5 405.2L429.6 406.5L430.2 407.7L430.6 405.7L431 406L431.6 406.7L431.8 406.7L432.5 406.4L432.6 404.7L433.3 406L433.6 404.5L434.1 404.4L434.6 405L434.8 404.1L435.6 404.2L435.6 406L436.4 403.9L436.6 403.9L437.1 403L437.6 403.6L437.9 403.6L438.6 404.7L438.7 404.3L439.4 405.3L439.6 405.7L440.2 405.4L440.6 405.2L441 405.3L441.6 406.8L441.7 406.5L442.5 407.3L442.6 407.4L443.3 406.4L443.6 407.2L444 405.6L444.6 408.4L444.8 407.6L445.6 406.6L445.6 405.9L446.3 407.1L446.6 405.4L447.1 406.3L447.6 407.4L447.9 406.9L448.6 406.5L448.6 407.6L449.4 406.2L449.6 407.2L450.2 406.6L450.6 406.4L451 407.4L451.6 406.3L451.7 408.5L452.5 406.6L452.6 408.6L453.3 406.3L453.6 407.6L454 406.2L454.6 406.1L454.8 407.3L455.6 407.7L455.6 406.2L456.3 408.1L456.6 406.6L457.1 407.3L457.6 407.5L457.9 407.7L458.6 405.9L458.6 408.5L459.6 407.8L460.6 407L461.6 406.6L462.6 406.1L463.6 406.4L464.6 407.8L465.6 407.1L466.6 406.6L467.6 407L468.6 408.6L469.6 407.2L470.6 407L471.6 408.5L472.6 407.8L473.6 407.5L474.6 407L475.6 406.3L476.6 406.6L477.6 407.1L478.6 407.3L479.6 407.8L480.6 407.9L481.6 407.7L482.6 407.7L483.6 406.8L484.6 405.9L485.6 407.2L486.6 406.8L487.6 407.1L488.6 407.3L489.6 406.6L490.6 406.7L491.6 407.5L492.6 407.6L493.6 407L494.6 407.9L495.6 407.3L496.6 406.7L497.6 407.5L498.6 408.9L499.2 406.9L499.6 408.3L500 408.4L500.6 408.5L500.8 406.8L501.5 408.9L501.6 407.4L502.3 407.1L502.6 407.1L503.1 407.7L503.6 407.3L503.8 407.1L504.6 408.1L504.6 406.6L505.4 406.3L505.6 407.7L506.1 407.5L506.4 407.8L506.6 406.2L506.9 407.7L507.2 407.3L507.6 408.2L507.7 405.9L507.9 407L508.4 406.5L508.6 405.5L508.7 406.1L509.2 407.4L509.5 406.2L509.6 406L510 407.1L510.2 407.1L510.6 407L510.7 405.7L511 406.1L511.5 406.8L511.6 405.5L511.8 405.4L512.3 406.4L512.5 406.8L512.6 404.8L513 403.5L513.3 404.2L513.6 404.4L513.8 404.9L514.1 405.3L514.6 404.3L514.6 403.9L514.8 404.3L515.4 403L515.6 403.4L515.6 402.9L516.1 404.7L516.4 402.9L516.6 401.2L516.9 400.4L517.1 400L517.6 397.3L517.7 397.7L517.9 396.2L518.4 393.4L518.6 390.5L518.7 389.3L519.2 381.3L519.4 376.3L519.6 373.8L520 364.7L520.2 358.1L520.6 344.5L520.7 341.7L521 332.4L521.5 317.4L521.6 313.3L521.8 311L522.3 308.1L522.5 309.5L522.6 309.3L523 315.7L523.3 320.2L523.6 328.1L523.8 333.2L524.1 342.1L524.6 356.2L524.6 356.9L524.8 362.5L525.3 374.1L525.6 378.3L525.6 377.6L526.1 385.3L526.4 386L526.6 386.8L526.9 388.4L527.1 387.8L527.6 385.4L527.6 385.7L527.9 383.1L528.4 380.4L528.6 378.1L528.7 380.4L529 376.8L529.2 378.5L529.4 377.4L529.6 377.6L529.8 378.8L529.9 379.6L530.2 381.1L530.6 384.4L530.6 383.6L530.7 384.6L531 385.6L531.3 389.7L531.5 390.3L531.6 390.9L531.7 392.2L532.1 395L532.2 396L532.5 397.7L532.6 397.6L532.9 398.8L533 400.4L533.3 399.6L533.6 401.4L533.6 403.2L533.8 400.3L534 402.4L534.4 404L534.5 402.4L534.6 405.7L534.8 402L535.2 405.4L535.3 405.6L535.6 405.3L535.6 404.4L535.9 405L536.1 404.1L536.3 405.5L536.6 404.2L536.7 404.8L536.8 405.8L537.1 404.3L537.5 404.9L537.6 405.3L537.6 404.2L537.9 406.1L538.2 405.5L538.4 404.1L538.6 405.2L538.6 404.7L539 404.8L539.1 405.3L539.4 404.7L539.6 406L539.8 404.7L539.9 406L540.2 405.2L540.5 405.8L540.6 404.7L540.7 404.7L540.9 404.2L541.3 405.4L541.4 405.6L541.6 406.5L541.7 405.8L542.1 404.9L542.2 404.5L542.5 404.8L542.6 404.5L542.9 405.5L543 405L543.2 403.5L543.6 403.4L543.6 404.9L543.7 404L544 403.4L544.4 404.2L544.4 403L544.5 402.9L544.6 402.7L544.8 401.4L545.1 403.1L545.2 401.5L545.5 401.4L545.6 401.2L545.9 401.7L545.9 401.1L546.3 400.3L546.6 398.2L546.7 399.1L546.7 398L547.1 397.9L547.4 395.8L547.5 395.5L547.6 396L547.8 392.9L548.2 388.9L548.2 388.5L548.6 382.5L548.6 383.3L549 375.7L549 373.8L549.4 365.4L549.6 357.8L549.8 352.9L549.8 352.4L550.1 336.2L550.5 320.1L550.5 322.2L550.6 317.6L550.9 303.3L551.3 290.7L551.3 290L551.6 280.9L551.7 279.2L552.1 276.5L552.1 277.9L552.6 282.8L552.8 287.1L552.8 287.6L553.6 311.3L553.6 309.5L553.6 311.1L554.4 339.6L554.4 339.5L554.6 348.7L555.1 365.4L555.1 365.4L555.6 375.9L555.9 382.1L555.9 384.1L556.6 391.1L556.7 391.1L556.7 392.6L557.4 398.1L557.4 398.1L557.6 397.7L558.2 401.3L558.2 399.9L558.6 400.6L559 401.7L559 402.1L559.6 403.6L559.7 403.7L559.7 403.3L560.5 404.7L560.5 404.1L560.6 404.8L561.3 403.6L561.3 403.4L561.6 405.4L562 404L562 404.8L562.6 405.2L562.8 405L562.8 405L563.6 406.6L563.6 403.6L563.6 406.2L564.3 407.2L564.3 405.5L564.6 405.4L565.1 405.7L565.1 406.6L565.6 404L565.9 404.8L565.9 404.6L566.6 404.7L566.6 404.3L566.6 404.7L567.4 403.8L567.4 404.1L567.6 403.6L568.2 403.9L568.2 404.3L568.6 404.6L568.9 404.1L568.9 406.2L569.6 405.5L569.7 404.6L569.7 406.5L570.5 405.7L570.5 406.7L570.6 406.4L571.2 406.9L571.2 406.9L571.6 406.4L572 407L572 408.5L572.6 405.5L572.8 407.2L572.8 407.5L573.5 406.5L573.5 406.2L573.6 408.9L574.3 407.1L574.3 408.9L574.6 407.8L575.1 407.5L575.6 407.8L575.8 407.9L576.6 408.4L576.6 407.8L577.4 407.7L577.6 407.7L578.1 408.6L578.6 408.2L578.9 406.9L579.6 407.2L579.7 407.9L580.4 407.2L580.6 407.4L581.2 407L581.6 407.5L582 408L582.6 408.5L582.7 407.7L583.5 409.3L583.6 407.7L584.3 410.2L584.6 408.5L585 408.2L585.6 407.4L585.8 405.7L586.6 407.7L586.6 407.9L587.3 409.3L587.6 406.8L588.1 409.3L588.6 407.6L588.9 408.4L589.6 405.9L589.6 408L590.6 407.6L591.6 408.4L592.6 407.9L593.6 407L594.6 408.6L595.6 408.4L596.6 408.3L597.6 408.7L598.6 408.7L599.6 407.9L600.6 406.9L601.6 406.8L602.6 408.9L603.6 408.4L604 407.9L604.6 407.5L604.7 407.9L605.5 407.9L605.6 407.6L606.3 407.3L606.6 409.5L607.1 408L607.6 407.4L607.8 406.8L608.6 407.2L608.6 408.3L609.4 408.3L609.6 407.6L610.1 407.8L610.6 407.5L610.9 406.9L611.6 408.7L611.7 408L612.4 409.5L612.6 407.1L613.2 407.5L613.6 408.2L614 407.3L614.6 406.4L614.7 406.7L615.5 407.4L615.6 407.6L616.3 407.2L616.6 408L617 407.9L617.6 407.3L617.8 407L618.3 406.7L618.6 407.2L618.6 407.4L619.1 406.6L619.3 406.8L619.6 406.1L619.9 405.2L620.1 405.4L620.6 406.4L620.6 406.2L620.9 406.8L621.4 405.2L621.6 405.5L621.6 405.9L622.2 404.7L622.4 403L622.6 402.7L622.9 401.8L623.2 399.9L623.6 398.4L623.7 398.2L623.9 395L624.5 391.3L624.6 387.8L624.7 386.5L625.2 378.5L625.5 374.2L625.6 372.8L626 366.4L626.2 364.4L626.6 360.3L626.8 359.4L627 358.4L627.5 359.2L627.6 360.6L627.8 361.3L628.3 367.6L628.5 369.7L628.6 371.8L629.1 377.3L629.3 380.8L629.6 384.4L629.8 387.2L630.1 390.4L630.6 395.8L630.6 394.6L630.8 397.3L631.4 402.1L631.6 401.2L631.6 401.1L632.1 402.5L632.4 402.5L632.6 405L632.9 404.6L633.1 405.1L633.6 406.6L633.7 407.2L633.9 404.8L634.4 406.5L634.6 406.3L634.7 406.1L635.2 406.3L635.4 406L635.6 407.2L636 406.5L636.2 406.3L636.6 406.9L636.7 406.5L637 406.1L637.5 405.6L637.6 406.5L637.7 405.4L638.3 404L638.5 402.8L638.6 403L639 401.1L639.3 401.1L639.6 399.9L639.8 397.3L640 397.8L640.6 396.4L640.6 395.9L640.8 394.5L641.3 395.7L641.6 394.3L641.6 394L642.1 394.9L642.3 396.2L642.6 397.6L642.9 398.6L643.1 398.7L643.6 399.4L643.6 399.9L643.9 400.6L644.4 402.9L644.6 402.3L644.6 403.8L645.2 405.5L645.4 405.3L645.6 406.1L645.9 405.5L646.2 405.3L646.6 406.3L646.7 407.7L646.9 407.8L647.5 406.9L647.6 408.2L647.7 407.1L648.2 408.6L648.5 407.8L648.6 407.2L649 408.2L649.2 407L649.6 407L649.8 406.6L650.5 407.9L650.6 407.7L651.3 407.8L651.6 407.5L652.1 409L652.6 407.6L652.8 407.4L653.6 408.9L653.6 409L654.4 408.2L654.6 406.7L655.1 407.6L655.6 408.5L655.9 408.1L656.6 409.2L656.7 407L657.4 408.6L657.6 407.6L658.2 409.1L658.6 408L659 408.9L659.6 407.6L659.7 407.1L660.5 407.3L660.6 407.7L661.3 407.4L661.6 409.1L662.1 409.2L662.6 408.4L662.8 407.4L663.6 408.1L663.6 407.7L664.6 409.3L665.6 408.4L666.6 408.6L667.6 407.9L668.6 406.7L669.6 407.7L670.6 407.4L671.6 408.5L672.6 408.3L673.6 407.7L674 408L674.6 409.4L674.8 407.6L675.6 407.6L675.6 408.1L676.3 407.8L676.6 408L677.1 408.7L677.6 409.6L677.9 407L678.6 408.3L678.6 408.3L679.4 408.2L679.6 408.2L680.2 408L680.6 409.1L680.9 408L681.6 408.2L681.7 408.3L682.5 408.4L682.6 408.2L683.2 409.1L683.6 408.3L684 408.4L684.6 408.3L684.8 407.6L685.5 407.7L685.6 407.5L686.3 408.5L686.6 407.8L687.1 407.5L687.6 408.5L687.8 408.7L688.6 407L688.6 409.6L689.4 408.3L689.6 408.2L690.1 409.1L690.6 408.3L690.9 407.8L691.6 409.9L691.7 407.4L692.4 408.1L692.6 408.8L693.2 407.3L693.6 407.9L694 408.2L694.6 409.5L694.7 406.9L695.5 407.2L695.6 407.6L696.3 406.9L696.6 405.8L697 407L697.6 406.8L697.8 407.1L698.6 407.9L698.6 407.8L699.3 407.7L699.6 407.7L700.1 406.9L700.6 407.8L700.9 408.1L701.6 407.8L701.6 408.2L702.4 407.6L702.6 409.4L703.2 409.9L703.6 408L703.9 408.6L704.6 408.1L704.7 409.3L705.5 408.7L705.6 408.4L706.2 408.2L706.6 408.5L707 407.6L707.6 408.9L707.8 407.8L708.5 408.8L708.6 408.5L709.3 409.2L709.6 408.4L710.1 409.2L710.6 407.7L710.8 408.8L711.6 408.2L711.6 408.5L712.4 408.4L712.6 409.1L713.2 406.9L713.6 408.6L713.9 407.3L714.6 409.3L714.7 406.9L715.5 407.7L715.6 407.2L716.2 409.6L716.6 407.4L717 408.5L717.6 408L717.8 407.1L718.5 408.2L718.6 408.9L719.3 408.3L719.6 409.1L720.6 408.1L721.6 408.4L722.6 408.1L723.6 408.7L724.6 409.9L725.6 408.7L726.6 408.6L727.6 408L728.6 407.9L729.6 409.5L730.6 407.6L731.6 407.8L732.6 408.4L733.6 408.1L734.6 409.9L735.6 406.7L736.6 408.7L737.6 409L738.6 407.6L739.6 408L740.6 408.8L741.6 409.7L742.6 407.7L743.6 407.2L744.6 409.2L745.6 409.6L746.6 408.2L747.6 406.8L748.6 409.5L749.6 408.3L750.6 409.2L751.6 408.4L752.6 408.1L753.6 408L754.6 409.5L755.6 409.4L756.6 406.7L757.6 407.6L758.6 409.7L759.6 408L760.6 407.3L760.9 408.3L761.6 408.2L761.7 408.2L762.4 407.9L762.6 408L763.2 407.9L763.6 408.4L764 407.6L764.6 407.9L764.7 408L765.5 409.1L765.6 408.4L766.3 408L766.6 408.5L767 408.3L767.6 408.8L767.8 408.4L768.6 409.3L768.6 408.9L769.3 407.8L769.6 407.5L770.1 408.5L770.6 408.1L770.9 407.6L771.6 406.5L771.7 406.2L772.4 407.7L772.6 408L773.2 407.9L773.6 406.2L774 407.9L774.6 406.5L774.7 407.1L775.5 406.9L775.6 405.9L776.3 405.7L776.6 404.4L777 404.9L777.6 403.7L777.8 405.2L778.6 403.7L778.6 404.2L779.3 401.7L779.6 399.7L780.1 397.4L780.6 392.1L780.9 389.6L781.6 376.7L781.6 375.2L782.4 358.2L782.6 353.3L783.2 341.4L783.6 337.3L783.9 337.2L784.6 340L784.7 340.9L785.5 348.3L785.6 351.7L786.2 360.8L786.6 365.9L786.8 371.5L787 375L787.6 383.4L787.6 384L787.8 385.8L788.3 393.9L788.5 393.9L788.6 395.4L789.1 400.7L789.3 400.2L789.6 401.9L789.9 402.4L790.1 402.2L790.6 404.2L790.6 404.6L790.8 403.8L791.4 405.6L791.6 406.4L791.6 406.3L792.2 404.8L792.4 405.3L792.6 405L793 407.2L793.1 407L793.6 407.2L793.7 406.1L793.9 406L794.5 407.1L794.6 407.1L794.7 406.5L795.3 407.4L795.4 407.8L795.6 407.5L796 406.6L796.2 405.9L796.6 407.3L796.8 407.7L797 407.4L797.6 407.4L797.6 407.2L797.7 408.2L798.3 407.7L798.5 407.9L798.6 407.1L799.1 407.4L799.3 408L799.6 407.2L799.9 407L800 407.7L800.6 408.9L800.6 408.1L800.8 409.1L801.4 407.9L801.6 407.8L801.6 407L802.2 407.6L802.3 409.2L802.6 408.3L802.9 408.7L803.1 408.6L803.6 408.1L803.7 408L803.7 408.2L803.9 408.6L804.4 408.5L804.5 408.5L804.6 408.2L804.6 407.5L805.2 407.9L805.2 407.4L805.4 408.8L805.6 406.5L806 407.8L806 409.8L806.2 407.7L806.6 407L806.7 407.8L806.8 408.8L807.5 407.3L807.5 407.9L807.6 407.5L808.3 406.7L808.3 409.3L808.6 406.8L809 406.1L809.1 406.2L809.6 406.7L809.8 406.7L809.8 407L810.6 406.6L810.6 405.5L810.6 406.9L811.3 406.6L811.4 406.6L811.6 405.8L812.1 406.6L812.1 406.5L812.6 407.3L812.9 406.4L812.9 407.5L813.6 407.9L813.6 407L813.7 407.3L814.4 407.4L814.4 408.7L814.6 406.2L815.2 407.9L815.2 407L815.6 407.9L815.9 408.9L816 407.8L816.6 408.4L816.7 407.7L816.7 409.8L817.5 409L817.5 409.2L817.6 407.4L818.2 407.5L818.3 409.2L818.6 408.2L819 408.2L819 408.6L819.6 407.4L819.8 408.9L819.8 408.3L820.5 408.7L820.6 407.8L820.6 408.7L821.3 407.7L821.3 409L821.6 409L822.1 408.8L822.1 408.5L822.6 408.4L822.8 405.8L822.9 408.5L823.6 407.1L823.6 407.4L823.6 407.1L824 405.9L824.4 406.1L824.4 407L824.6 407.3L824.8 405.5L825.1 404.7L825.2 406.5L825.6 404.1L825.6 406.3L825.9 404.4L825.9 403.7L826.3 404.8L826.6 405.3L826.7 403L826.7 405.2L827.1 404L827.4 405.5L827.5 404.1L827.6 403.3L827.9 405.1L828.2 405.6L828.2 406.5L828.6 406.5L828.6 405.8L829 405.4L829 405.2L829.4 405.8L829.6 405.6L829.7 406.1L829.8 404.5L830.2 406.9L830.5 407.1L830.5 409.1L830.6 407.8L830.9 407.1L831.3 408.1L831.3 406.8L831.6 407.4L831.7 406.5L832.1 409.1L832.1 408.5L832.5 407.3L832.6 408.2L832.8 409L833.2 408.7L833.6 408.6L833.6 407.7L834 407.9L834.4 408.5L834.6 409.1L834.8 407.8L835.1 407.6L835.5 409.3L835.6 407.8L835.9 409.3L836.3 408.7L836.6 409.2L836.7 409.8L837.1 409L837.4 409.1L837.6 407.8L837.8 408L838.2 409L838.6 409.7L838.6 409.6L839 410.3L839.4 408.7L839.6 408.7L839.7 409.3L840.1 408.5L840.5 408.4L840.6 407.7L840.9 409.2L841.3 407.6L841.6 408.8L841.7 407.3L842 409.2L842.4 407.5L842.6 408.9L842.8 407L843.2 407.8L843.6 408.8L843.6 407.3L844 407.7L844.3 407.1L844.6 405.4L844.7 407.3L845.1 407L845.5 405.3L845.6 406.5L845.9 405.1L846.3 404.6L846.6 405.1L846.6 404.6L847 406.8L847.4 404L847.6 405.8L847.8 406.1L848.2 404.1L848.6 404.5L848.6 406.2L848.9 405.6L849.4 406.5L849.6 407.3L850.1 406.6L850.6 406.4L850.9 405.4L851.6 408.1L851.7 407.2L852.4 408.5L852.6 408.5L853.2 407.4L853.6 409.8L854 409.3L854.6 409.2L854.7 407.7L855.5 408.3L855.6 408.2L856.3 408.3L856.6 407.8L857 409L857.6 408.8L857.8 408.9L858.6 408.3L858.6 409.7L859.3 408.8L859.6 406.6L860.1 408.2L860.6 408.7L860.9 409.4L861.6 408.5L861.6 408.5L862.4 408.2L862.6 409.2L863.2 408.4L863.6 408.3L863.9 408.2L864.6 409.2L864.7 408.3L865.3 407.5L865.5 409.2L865.6 408.2L866 409L866.2 409L866.6 409.7L866.8 409.5L867 408.3L867.6 408.6L867.6 407.8L867.8 410L868.3 409.1L868.5 409.8L868.6 408.5L869.1 407.2L869.3 409.9L869.6 408.8L869.9 408.9L870.6 408.8L870.6 409.2L871.4 409.2L871.6 407.6L872.2 409.6L872.6 408.4L872.9 408.4L873.6 410L873.7 409.4L874.5 408.5L874.6 407.4L875.3 408.9L875.6 409.1L876 408.7L876.6 407.8L876.8 408.1L877.6 407.8L877.6 408.9L878.3 409.3L878.6 409.5L879.1 408.1L879.6 408.8L879.9 409.1L880.6 408.2L880.6 408.5L881.4 410.2L881.6 408.7L882.2 409.2L882.6 408.1L882.9 408.4L883.6 406.9L883.7 408.2L884.5 408.7L884.6 409.3L885.2 408L885.6 407.1L886 405.9L886.6 404.2L886.8 404.2L887.5 403.3L887.6 402.2L888.3 403.2L888.6 401.9L889.1 401.7L889.6 402.8L889.8 402.5L890.6 403.4L890.6 405.3L891.4 405.2L891.6 405.9L892.1 407.3L892.6 408L892.9 407L893.6 408.9L893.7 408.2L894.4 408.3L894.6 408.7L895.2 407.4L895.6 407.9L896 408.5L896.6 409.1L896.7 408.4L897.5 408.6L897.6 409.4L898.3 409.8L898.6 409.3L899 409.7L899.6 408.5L899.8 408.5L900.6 409L900.6 408.6L901.3 408.4L901.6 410L902.1 408.7L902.6 408.1L902.9 409.2L903.6 410.2L903.6 408.9L904.4 409.8L904.6 408.5L905.2 408.5L905.6 408.3L905.9 408.8L906.6 410.2L906.7 408L907.5 410.1L907.6 408.1L908.2 408.7L908.6 409.5L909 409.4L909.6 409.1L909.8 407.7L910.5 409.2L910.6 408.1L911.6 410.8L912.6 408.7L913.6 409.1L914.6 408.1L915.6 408.6L916.6 408L917.6 409.7L918.6 408.7L919.6 409.4L920.6 408.4L921.6 408.6L922.6 409.9L923.6 408.2L924.6 407.6L925.6 409.3L926.6 408.1L927.6 408.6L928.6 409.6L929.6 408.4L930.6 409.6L931.6 408.5L932.6 410.1L932.8 410"/>
<path stroke="#ff0000" d="M52.6 277.1L53.6 277.4L54.6 277L55.6 277.8L56.6 278.6L57.6 276.7L58.6 278.6L59.6 277L60.6 277.4L61.6 276.7L62.6 279.7L63.6 278.3L64.6 278.5L65.6 277.8L66.6 279.2L67.6 276.9L68.6 278.6L69.6 280.3L70.6 278.4L71.6 278.8L72.6 279.3L73.6 278.3L74.6 279L75.6 279.7L76.6 279.2L77.6 279.4L78.6 278.9L79.6 279.5L80.6 279.4L81.6 280.5L82.6 280L83.6 279.3L84.6 277.7L85.6 280.1L86.6 280.2L87.6 279L88.6 278.3L89.6 279L90.6 280.6L91.6 279.1L92.6 279.6L93.6 280.2L94.6 281L95.6 280.1L96.6 280L97.6 279.7L98.6 281.4L99.6 281L100.6 280.2L101.6 279.2L102.6 279.7L103.6 280.7L103.9 279.7L104.6 280.9L104.8 280.5L105.6 280.4L105.6 280.7L106.5 280.6L106.6 279.5L107.4 279.9L107.6 281.9L108.3 279.2L108.6 279.7L109.1 280.8L109.6 279.9L110 279.4L110.6 278.9L110.9 280.3L111.6 280.5L111.7 280.8L112.6 279.6L112.6 280.4L113.5 278.6L113.6 279.5L114.3 278.7L114.6 279.2L115.2 279.4L115.6 279.5L116.1 277.8L116.6 279.2L116.9 277.7L117.6 276.9L117.8 277.4L118.6 275.9L118.7 276.9L119.6 276.2L119.6 275.8L120.4 275.3L120.6 274.4L121.3 273.4L121.6 271.7L122.2 271.4L122.6 269.4L123 268.1L123.6 265.6L123.9 263.9L124.6 256.1L124.8 254L125.6 238.7L125.6 238.1L126.5 204.6L126.6 200.3L127.4 149.2L127.6 130.8L128.3 72.5L128.6 40.6L129.1 2.5L129.6 -14.5L130 -10.9L130.6 22L130.9 42.8L131.6 109.4L131.7 121.2L132.6 185.9L132.6 186.1L133.5 227.8L133.6 231.7L134.3 249.6L134.6 255L135.2 262.1L135.6 264.7L136.1 267.4L136.6 271.7L136.9 270.7L137.6 272.9L137.8 273.8L138.6 274.3L138.7 275.4L139.6 278L139.6 277.4L140.4 278.2L140.6 278.3L141.3 278.6L141.6 279.4L142.2 279L142.6 279.1L143 279.7L143.6 280.6L143.9 280.2L144.6 280.8L144.8 278.8L145.6 281.4L145.6 282.3L146.5 281.7L146.6 280.5L147.4 280.2L147.6 281.1L148.2 280.2L148.6 281.5L149.1 280.6L149.6 281.8L150 282.1L150.6 279.5L150.9 281.3L151.6 280.6L151.7 280L152.6 280.6L152.6 280.9L153.5 281.9L153.6 280L154.3 281.9L154.6 282.7L155.2 281.6L155.6 281.6L156.6 281.3L157.6 280.5L158.6 281.9L159.6 282L160.6 282.4L161.6 284.1L162.6 282.9L163.6 283L164.6 284.1L165.6 282.3L166.6 282.7L167.6 283.6L168.6 283.7L169.6 285L170.6 284.6L171.6 286.4L172.6 286.5L173.6 286.1L174.6 285.5L175.6 286.4L176.6 286.8L177.6 285.5L178.6 286.8L179.6 287.2L180.6 286.9L181.6 288.1L182.6 287.9L183.6 286.5L184.6 287.3L185.6 286.7L186.6 287.9L187.6 286.9L188.6 288.3L189.6 288L190.6 288.6L191.6 287.8L192.6 286.9L193.6 289.4L194.6 288.1L195.6 289.3L196.6 288.7L197.6 289L198.6 289.9L199.6 288.9L200.6 289.8L201.6 287.7L202.6 289.6L203.6 288.8L204.6 289L205.6 289.2L206.6 289.5L207.6 290.6L208.6 288.1L209.6 289.6L210.6 289.1L211.6 290.6L212.6 289.5L213.6 290.2L214.6 289.7L215.6 290.6L216.6 290.9L217.6 290L218.6 290.4L219.6 289.4L220.6 290.7L221.6 291.2L222.6 290.3L223.6 291.6L224.6 289.3L225.6 289.6L226.6 290L227.6 290.8L228.6 291.2L229.6 291.2L230.6 291.3L231.6 292L232.6 291.2L233.6 290.7L234.6 290.8L235.6 293.4L236.6 290.1L237.6 291.8L238.6 293.1L239.6 292.5L240.6 291.6L241.6 292.3L242.6 293L243.6 293.3L244.6 291.8L245.6 293.2L246.6 292.9L247.6 293.6L248.6 293.9L249.6 292.6L250.6 291.9L251.6 293.3L252.6 294.5L253.6 293.7L254.6 293.4L255.6 295.1L256.6 292.6L257.6 294.1L258.6 293.1L259.6 293.6L260.6 293.7L261.6 294.8L262.6 293L263.6 293.4L264.6 292.6L265.6 294.2L266.6 293.5L266.6 294.1L267.3 293L267.6 293.5L268 294.5L268.6 293.6L268.8 294.2L269.5 294.1L269.6 293.4L270.2 292.4L270.6 294.3L270.9 293.7L271.6 294.2L271.6 291.9L272.3 292.1L272.6 291.7L273.1 292.6L273.6 293.9L273.8 293.5L274.5 292.9L274.6 293L275.2 293.3L275.6 292.4L275.9 292.8L276.6 292.3L276.6 290.5L277.4 291.5L277.6 292.7L278.1 291.1L278.6 290.8L278.8 290.3L279.5 289.7L279.6 290.8L280.2 289L280.6 287.8L280.9 285.6L281.6 286.1L281.7 284.9L282.4 282.7L282.6 283.7L283.1 281L283.6 274.7L283.8 274.5L284.5 261.2L284.6 258L285.2 236.3L285.6 215.1L285.9 192.4L286.6 139.5L286.7 134.1L287.4 78.8L287.6 65.6L288.1 56.9L288.6 73.7L288.8 87.8L289.5 145.2L289.6 152L290.2 200.6L290.6 221.8L291 240L291.6 261.5L291.7 262.6L292.4 275.5L292.6 278.8L293.1 281L293.6 284L293.8 285.9L294.5 286.7L294.6 286.7L295.3 288L295.6 289.7L296 290.4L296.6 290.7L296.7 291L297.4 292.6L297.6 292.5L298.1 291.2L298.6 292.6L298.8 292.8L299.6 293.7L299.6 293L300.3 293L300.6 293.3L301 292.5L301.6 294L301.7 293.6L302.4 294.7L302.6 293.6L303.1 294.2L303.6 293.9L303.9 293.9L304.6 295.4L304.6 294.5L305.3 295.3L305.6 294.2L306 295.2L306.6 293.9L306.7 294.9L307.4 295L307.6 295.8L308.1 295.6L308.6 295.4L308.9 296.1L309.6 295.7L310.6 296.1L311.6 296.4L312.6 295.8L313.6 295.8L313.9 296.2L314.6 295.7L314.6 296.3L315.3 296.9L315.6 296.8L316 295.9L316.6 295.2L316.8 296.2L317.5 296.1L317.6 297.1L318.2 296L318.6 296.1L318.9 296.9L319.6 296L319.6 296.2L320.3 297.6L320.6 297.5L321.1 296.8L321.6 296.6L321.8 295.7L322.5 296.8L322.6 296.4L323.2 296.6L323.6 296L323.9 296.4L324.6 296.2L324.6 296.6L325.4 297.4L325.6 296.6L326.1 295.1L326.3 295.6L326.6 295.1L326.8 295.6L327.1 296.6L327.5 296.4L327.6 295.7L327.8 296.3L328.2 295.4L328.5 294.9L328.6 294.8L328.9 295.2L329.2 296.8L329.6 294.5L329.6 296.4L329.9 296.3L330.4 294.9L330.6 294.7L330.6 294.2L331.1 294L331.4 294L331.6 292.8L331.8 292.9L332.1 291.9L332.5 288.8L332.6 288.1L332.8 286.4L333.2 282.6L333.5 278.4L333.6 278.4L333.9 274L334.2 269.7L334.6 267.6L334.7 264.7L334.9 262.7L335.4 262.5L335.6 261.4L335.7 262.5L336.1 265.1L336.4 268.4L336.6 271.8L336.8 274.7L337.1 278.7L337.5 283.4L337.6 284.5L337.8 285.9L338.2 288.5L338.5 291.4L338.6 290.6L339 292L339.2 294.5L339.6 294.9L339.7 294.6L339.9 295.5L340.4 296.1L340.6 294.6L340.7 295.6L341.1 295.1L341.4 296.3L341.6 295.8L341.8 297.4L342.1 296.9L342.5 296L342.6 296.6L342.8 295.8L343.3 296.9L343.5 297.3L343.6 297.1L344 295.5L344.2 296.7L344.6 297.3L344.7 297.2L345 297.8L345.4 295.9L345.6 297.2L345.7 296.3L346.1 296.8L346.4 296.8L346.6 296.9L346.8 295.9L347.1 296.4L347.6 295.3L347.6 295.1L347.8 296.6L348.3 296.2L348.5 295.2L348.6 295.8L349 296.7L349.3 298L349.6 297.8L349.7 297.7L350 295.9L350.4 297.4L350.6 297.9L350.7 297.8L351.1 298L351.4 297.6L351.6 299.1L351.8 298.9L352.1 297.8L352.6 297.2L352.6 299.5L352.8 297.5L353.3 298.9L353.6 299.5L353.6 297.3L354 298.3L354.3 297.8L354.6 298.5L354.7 298.4L355 299.6L355.4 298.6L355.6 298.2L355.7 299L356.1 298L356.4 298L356.6 299.9L357.1 297.7L357.6 297.9L357.9 298.3L358.6 297.6L358.6 296.8L359.3 299.2L359.6 297.8L360 298L360.6 298.2L360.7 297.7L361.4 297.7L361.6 298.6L362.1 300.3L362.6 299.1L362.9 299.1L363.6 297.5L363.6 298.6L364.3 297.7L364.6 299.2L365 298.5L365.6 298.7L365.7 298.6L366.4 298.3L366.6 297.6L367.2 299.2L367.6 297.7L367.9 297.9L368.6 298.6L368.6 298.3L369.6 299L370.6 299.6L371.6 299.1L372.6 299.1L373.6 299L374.6 299.7L375.6 297.7L376 299.3L376.6 298.4L376.7 298.2L377.4 299.1L377.6 298.8L378.2 299.6L378.6 300L378.9 297.4L379.6 299.1L379.6 300.6L380.3 299.8L380.6 300.3L381 299.3L381.6 298.1L381.7 298.4L382.5 299.7L382.6 299.9L383.2 298.7L383.6 299L383.9 299.4L384.6 297.9L384.6 298.9L385.3 300.4L385.6 300.8L386 299.1L386.6 300.5L386.8 298.7L387.5 298.5L387.6 297.4L388.2 299.8L388.6 298.7L388.9 300.7L389.6 299.1L389.6 299L390.3 297.3L390.6 299.7L391 298.2L391.6 298.1L391.8 296.5L392.5 298.3L392.6 298.2L393.2 296.2L393.6 295.8L393.9 295L394.6 291.9L394.6 291.1L395.3 286.1L395.6 281.8L396.1 275.7L396.6 269.2L396.8 265.8L397.5 263.8L397.6 265.2L398.2 268L398.6 271.1L398.9 275.9L399.6 282.1L399.6 283.8L400.4 290.9L400.6 292.6L401.1 293.9L401.6 296.9L401.8 298.1L402.5 297.5L402.6 298.5L403.2 297.3L403.6 297.2L403.9 299.3L404.6 299.1L404.7 299.3L405.4 298.9L405.6 299.2L406.1 300.1L406.6 300.9L406.8 299.5L407.5 298.5L407.6 300.7L408.2 300.3L408.6 300.4L409 300.1L409.6 301.7L409.7 300L410.4 300.4L410.6 298.7L411.1 299.7L411.6 299.6L411.8 300.1L412.5 300.5L412.6 299.7L413.2 301.6L413.6 299.5L414 300L414.2 300.5L414.6 299.4L414.7 300.8L415 300.8L415.4 300.2L415.6 301.8L415.7 300.4L416.1 300.6L416.4 299.7L416.6 299.2L416.8 300L417.1 300.2L417.5 300.1L417.6 301L417.8 298.7L418.3 299.6L418.5 299.1L418.6 301.5L419.2 300.1L419.6 300.2L420 299.7L420.6 301.3L420.7 300.3L421.4 300.8L421.6 299.1L422.1 301.5L422.6 301L422.8 301.1L423.5 301.6L423.6 300.5L424.3 300.6L424.6 301.3L425 301.1L425.6 300.6L425.7 300.8L426.4 300.4L426.6 301.3L427.1 301.5L427.6 300.8L427.8 302.2L428.6 299.7L428.6 300.6L429.3 302.1L429.6 300.5L430 299.6L430.6 301.8L430.7 301.2L431.4 299.8L431.6 301.3L432.1 299.8L432.6 299.4L432.9 300.2L433.6 299.5L433.6 299L434.3 298.9L434.6 298.1L435 298.6L435.6 298.3L435.7 298.9L436.4 298.2L436.6 297.7L437.2 298.2L437.6 299.4L437.9 301L438.6 301L438.6 299.9L439.3 301.5L439.6 300L440 301.7L440.6 300.8L440.7 301.7L441.4 301.6L441.6 301L442.2 301.5L442.6 300.4L442.9 301.2L443.6 302.1L443.6 304.4L444.3 301.9L444.6 301.4L445 300.6L445.6 302.2L445.7 300.1L446.5 300.8L446.6 301.7L447.2 300.5L447.6 302.6L447.9 302.3L448.6 301.1L448.6 301.1L449.3 300.5L449.6 300.5L450 301.9L450.6 302L450.8 301.8L451.5 301.8L451.6 301.2L452.2 301.9L452.6 300.5L452.9 301.6L453.6 302.8L453.6 302.6L454.3 301.3L454.6 301.4L455.1 302.7L455.6 303L455.8 300.6L456.5 301.4L456.6 301.9L457.6 302.7L458.6 301.2L459.6 302.3L460.6 301.6L461.6 303.6L462.6 302.2L463.6 301.7L464.6 301.6L465.6 302.6L466.6 302.4L467.6 301L468.6 302L469.6 300.8L470.6 301.3L471.6 300.9L472.6 300.8L473.6 301.3L474.6 301.1L475.6 302.2L476.6 302.4L477.6 301.7L478.6 301L479.6 302.4L480.6 300.3L481.6 300.4L482.6 302.4L483.6 302.3L484.6 302.5L485.6 301.6L486.6 300.8L487.6 301.4L488.6 302.2L489.6 301.2L490.6 301.2L491.6 300.7L492.6 300.9L493.6 302.4L494.6 302.1L495.6 300.8L496.6 300.9L497.6 301.2L498.6 302L499.6 300.7L500.6 301.4L501.5 299.9L501.6 300.6L502.2 301.8L502.6 302.1L502.9 300.6L503.6 300.8L503.7 302L504.4 301.1L504.6 300.9L505.1 301.7L505.6 301.4L505.8 302.1L506.5 301.8L506.6 300.8L507.2 301L507.6 301.1L507.9 300L508.6 300.2L508.7 301.7L509.4 299.7L509.6 301.6L510.1 301L510.6 300.5L510.8 301L511.2 300.9L511.5 301.3L511.6 300.1L511.9 300.2L512.2 300L512.6 301.5L512.6 300.8L513 299.3L513.3 299.6L513.6 299.2L513.7 299.7L514 299.7L514.4 301L514.6 297.8L514.8 299.9L515.1 299.2L515.5 298L515.6 298.3L515.8 297.9L516.2 297.9L516.5 298.2L516.6 296.2L516.9 297.9L517.3 296L517.6 296.7L517.6 295.8L518 295.5L518.3 293.5L518.6 292.7L518.7 291.4L519.1 288L519.4 285.6L519.6 283.1L519.8 281.5L520.1 271.9L520.5 264.1L520.6 262L520.8 252.9L521.2 240.3L521.6 228.6L521.6 226.1L521.9 211.7L522.3 201.8L522.6 194L522.6 193L523 190.2L523.4 192.4L523.6 195.4L523.7 197.6L524.1 207.8L524.4 218L524.6 225.5L524.8 230.5L525.1 241L525.5 254.5L525.6 257.7L525.8 264.5L526.2 272.7L526.6 278.1L526.6 280.4L526.9 283.2L527.3 287.5L527.6 289L527.7 288.6L528 292.1L528.4 290.1L528.6 291.7L528.7 292.8L529 292.1L529.1 292.9L529.4 291.7L529.6 291L529.8 292.5L529.8 290.5L530.1 289L530.5 286.3L530.5 286.3L530.6 286.7L530.9 284.6L531.2 281.4L531.2 280.5L531.6 278.5L531.6 276.6L531.9 275.3L532 275L532.3 272.9L532.6 273.1L532.6 272.5L532.7 272.4L533 274.9L533.3 275.5L533.4 276L533.6 276.4L533.7 277.9L534.1 280.2L534.1 280.9L534.4 284.6L534.6 284L534.8 285.8L534.8 286L535.2 286.1L535.5 289.9L535.5 291.3L535.6 292.2L535.9 292.8L536.2 295.5L536.2 295.8L536.6 295.7L536.6 297.1L536.9 298.2L537 297.3L537.3 296.8L537.6 299.1L537.6 297.9L537.7 297.8L538 298.5L538.3 298.2L538.4 299.4L538.6 299.3L538.7 299.7L539.1 299.3L539.1 298.3L539.5 298.8L539.6 299.6L539.8 298.7L539.8 301.2L540.2 298.8L540.5 298.6L540.5 299.9L540.6 299.6L540.9 298.9L541.2 298.7L541.3 299.2L541.6 299.4L541.6 299.4L541.9 298.5L542 299L542.3 299.2L542.6 299L542.6 296.1L542.7 297.7L543 297.6L543.4 297.8L543.4 298L543.6 298.4L543.8 298.1L544.1 297.2L544.1 297.2L544.6 297.9L544.8 295.8L544.8 296.4L545.5 295.9L545.6 294.8L545.6 292.9L546.2 292L546.3 291.2L546.6 289.1L546.9 286.7L547 285.8L547.6 275.9L547.7 275.6L547.7 274.3L548.4 256.6L548.4 255.2L548.5 251.7L548.6 248.8L549.1 230.9L549.1 229.5L549.2 224.7L549.6 212L549.8 207.7L549.9 205.3L550 202.9L550.5 196.6L550.6 196.7L550.6 196.8L550.7 197.1L551.2 203.5L551.3 205.7L551.4 206.8L551.6 212.9L552 220.6L552 222.6L552.1 227.6L552.6 242.7L552.7 244.6L552.7 246.9L552.8 249.2L553.4 265.8L553.4 265.2L553.5 269.1L553.6 270.2L554.1 280.5L554.3 283.1L554.6 285.9L554.8 289.9L555 289.5L555.5 291.8L555.6 291.8L555.7 295.2L556.3 295.8L556.4 295.7L556.6 296L557 296.4L557.1 298.5L557.6 298L557.7 299.5L557.8 298.2L558.4 297.1L558.6 299.6L558.6 298.7L559.1 299.2L559.3 300.6L559.6 299.4L559.8 300.6L560 299.8L560.5 299.5L560.6 300.5L560.7 299.7L561.3 301.2L561.4 301.1L561.6 300.4L562 300.9L562.1 300.9L562.6 300.4L562.7 301.3L562.9 300.5L563.4 301.2L563.6 300.1L563.6 300.9L564.1 301.1L564.3 300.3L564.6 300.6L564.8 300.5L565 301.4L565.6 300.3L565.6 301.2L565.7 302L566.3 300.9L566.4 299.4L566.6 300.6L567 301L567.1 299.9L567.6 300.4L567.7 299.9L567.9 299.6L568.4 298.1L568.6 297.7L568.6 297.8L569.1 297.1L569.3 297.3L569.6 296.9L569.9 296.2L570 296.5L570.6 297L570.6 295.5L570.7 296.2L571.3 296.9L571.4 297.6L571.6 297.7L572.2 298.7L572.6 298.9L572.9 300.5L573.6 300.9L573.6 299.5L574.3 301.2L574.6 300.5L575 302.7L575.6 301.2L575.7 301.3L576.5 301.8L576.6 301.6L577.2 301.7L577.6 303L577.9 302L578.6 302.5L578.6 302.7L579.3 301.2L579.6 303.2L580 302.4L580.6 302.7L580.8 301.3L581.5 302.6L581.6 302.3L582.2 301.6L582.6 303.7L582.9 302.4L583.6 301.8L583.6 302.2L584.3 302.7L584.6 302.9L585.1 302.5L585.6 303L585.8 303.2L586.5 301.2L586.6 301.7L587.2 301.4L587.6 302.2L587.9 303.2L588.6 302.6L588.6 301.3L589.3 301.9L589.6 302.9L590.1 301.7L590.6 302.1L590.8 302.4L591.6 300.8L592.6 302.7L593.6 302.4L594.6 302.6L595.6 301.4L596.6 301.6L597.6 301.7L598.6 302.3L599.6 302.2L600.6 302.2L601.6 303.5L602.6 303.1L603.6 301.6L604.5 301.6L604.6 303.4L605.2 301.9L605.6 303.1L605.9 303.3L606.6 301.7L606.6 301.9L607.3 302.1L607.6 301.4L608.1 301.3L608.6 301.7L608.8 302.7L609.5 301.7L609.6 301.8L610.2 301.6L610.6 300.9L610.9 303L611.6 300.1L611.6 301.4L612.4 302.3L612.6 300.8L613.1 302.2L613.6 302.7L613.8 301.1L614.5 301.8L614.6 300.8L615.2 301.9L615.6 301.6L615.9 301.6L616.6 302.3L616.7 301.7L617.4 302.1L617.6 301.5L618.1 300L618.6 300.9L618.8 301L619.5 299.1L619.6 301.2L620.2 299.7L620.6 299.6L621 298.1L621.6 297.5L621.7 297.5L622.3 294.2L622.4 294.2L622.6 291.2L623.1 289.9L623.1 287.5L623.6 280.5L623.8 278.8L623.8 278.2L624.5 267.1L624.5 265.1L624.6 264.8L625.2 253.2L625.3 254.9L625.6 250L625.9 249.8L626 247.6L626.6 251.7L626.6 250.8L626.7 252.4L627.4 259.7L627.4 258.7L627.6 261.8L628.1 268.9L628.1 269.4L628.6 277.5L628.8 279.9L628.8 280.2L629.5 289L629.5 289.8L629.6 288.8L630.2 293.8L630.3 294.4L630.6 295.8L630.9 296.6L631 297.9L631.6 299.3L631.7 299.3L631.7 298.7L632.4 301.1L632.4 301L632.6 299.5L633.1 300L633.1 301.1L633.6 299.8L633.8 300.8L633.8 300.5L634.5 300.2L634.6 300.6L634.6 299.6L635.2 300.5L635.3 299.4L635.6 302.7L635.9 302.1L636 301.9L636.6 301.3L636.7 301.8L636.7 302L637.4 301.8L637.4 301.7L637.6 300.4L638.1 301.3L638.1 300.6L638.6 300L638.8 300L638.9 301.1L639.5 301.2L639.6 299.3L639.6 301.7L640.2 300.6L640.3 299.2L640.6 298.5L641 297.8L641 298.4L641.6 295.1L641.7 294.2L641.7 295.1L642.4 289.6L642.4 291L642.6 290.9L643.1 287.7L643.2 287.9L643.6 286.6L643.8 286.6L643.9 286.2L644.5 286.6L644.6 287.1L644.6 287.3L645.3 290.4L645.3 290.9L645.6 291.2L646 292L646 292.3L646.6 295.3L646.7 296.9L646.7 296.3L647.4 298.3L647.6 298.2L648.1 300.6L648.6 300.8L648.8 300.8L649.6 301.4L649.6 302.6L650.3 301.5L650.6 302.9L651 302.7L651.6 301.9L651.7 302.5L652.4 301.9L652.6 301.4L653.1 301.9L653.6 301.4L653.8 302.5L654.6 302.2L654.6 302.6L655.3 302.8L655.6 299.9L656 302.5L656.6 300.9L656.7 302.4L657.4 301.6L657.6 302.4L658.1 303.4L658.6 301.1L658.9 302.5L659.6 302.3L659.6 301L660.3 302.9L660.6 302.4L661 302L661.6 301.9L661.7 304.8L662.4 302.1L662.6 301.1L663.2 301.7L663.6 302.2L663.9 302.2L664.6 302.4L664.6 301.7L665.6 302.9L666.6 302.1L667.6 301.5L668.6 301.9L669.6 302.2L670.6 303.2L671.6 302.9L672.6 302.3L673.6 302.6L674.6 302.7L674.9 304.1L675.6 302.1L675.6 302.9L676.3 303.1L676.6 301.9L677 302.7L677.6 302.7L677.8 302.2L678.5 303L678.6 303.4L679.2 303.4L679.6 302.4L679.9 302.7L680.6 304.4L680.6 301.8L681.3 302.8L681.6 303.3L682.1 302.7L682.6 303.1L682.8 302.7L683.5 303.2L683.6 303.6L684.2 302.4L684.6 302.8L684.9 302.6L685.6 302.3L685.6 302.6L686.4 301.8L686.6 303.2L687.1 303.9L687.6 303.9L687.8 303.6L688.5 301.9L688.6 303.7L689.2 302.1L689.6 302.6L689.9 304L690.6 301.8L690.7 303.2L691.4 302.8L691.6 302.4L692.1 301.9L692.6 302.8L692.8 302.1L693.5 303.1L693.6 303.2L694.2 301L694.6 301.5L695 301.5L695.6 300.5L695.7 300.6L696.4 301.3L696.6 301.1L697.1 300.1L697.6 301.1L697.8 301.9L698.5 300.9L698.6 301.1L699.2 303.3L699.6 303.2L700 301.1L700.6 301.4L700.7 302.7L701.4 301.7L701.6 302.4L702.1 302.3L702.6 303L702.8 300.7L703.5 301L703.6 301.7L704.3 303.4L704.6 302.5L705 301.4L705.6 303L705.7 303.2L706.4 302.5L706.6 302.4L707.1 303L707.6 303.6L707.8 302.8L708.6 303.1L708.6 302.7L709.3 302.4L709.6 302L710 302.9L710.6 302.5L710.7 302.5L711.4 303.4L711.6 303.1L712.1 303.4L712.6 301.5L712.9 303.1L713.6 302.3L713.6 302.1L714.3 302.1L714.6 303.6L715 303.4L715.6 302.2L715.7 301.9L716.4 302.7L716.6 302.4L717.2 304L717.6 301.6L718.6 301.4L719.6 302.6L720.6 302.8L721.6 302.9L722.6 303.3L723.6 304.3L724.6 302.5L725.6 302.4L726.6 301.4L727.6 303L728.6 303.4L729.6 302.6L730.6 303.7L731.6 302.8L732.6 303.9L733.6 303L734.6 302L735.6 302.3L736.6 301.6L737.6 301.5L738.6 303L739.6 303.4L740.6 304.3L741.6 302.7L742.6 302.6L743.6 302L744.6 303.5L745.6 303.1L746.6 302.3L747.6 303.3L748.6 303.2L749.6 301.4L750.6 303.3L751.6 302.9L752.6 302.5L753.6 302.4L754.6 304.1L755.6 303.9L756.6 304.1L757.6 301.8L758.6 302.2L759.6 303.4L759.8 301.8L760.5 302.1L760.6 301.3L761.2 304L761.6 303.4L761.9 303L762.6 302.8L762.6 302.3L763.4 302.3L763.6 303L764.1 302L764.6 303.4L764.8 302.1L765.5 301.8L765.6 303.5L766.2 302.3L766.6 302.8L766.9 302.1L767.6 300.7L767.7 302.7L768.4 301.3L768.6 303.1L769.1 301L769.6 300.7L769.8 302.3L770.5 302.3L770.6 302.1L771.2 301L771.6 302.5L772 300.6L772.6 301.2L772.7 300.9L773.4 301L773.6 301.8L774.1 300.4L774.6 301L774.8 301L775.5 298.5L775.6 298.9L776.2 298.5L776.6 297.6L777 297.2L777.6 292.5L777.7 293.9L778.4 287.2L778.6 283.9L779.1 274.6L779.6 265.8L779.8 260.5L780.5 247.7L780.6 246.5L781.3 243.4L781.6 244.1L782 248.7L782.6 251.9L782.7 253.8L783.4 262.9L783.6 264L784.1 273.4L784.6 278.9L784.8 283L785.6 289.8L785.6 290.5L786.3 295.4L786.6 296.7L787 297.7L787.6 300.9L787.7 299.4L788.4 299.5L788.6 301.1L789.1 301.4L789.6 302L789.9 302.5L790.6 300.8L790.6 302.3L791.3 302.5L791.6 301.8L791.6 302L792 299.6L792.3 301.5L792.6 303.3L792.7 300.7L793 301.7L793.4 302.3L793.6 302.6L793.7 303.4L794.2 300.9L794.5 302.3L794.6 302.9L794.9 301.3L795.2 302.3L795.6 303.8L795.6 303.4L795.9 302.8L796.3 300.5L796.6 302.4L796.6 302.8L797 302.3L797.3 302.5L797.6 304.8L797.7 302.4L798 301.8L798.4 302.8L798.6 302.3L798.8 302.4L799.2 302.5L799.5 303.2L799.6 302.8L799.9 301.7L800.2 302.5L800.6 303L800.6 302.3L800.9 303.5L801.3 303.3L801.6 301.9L801.6 302.9L802 304.2L802.3 303.9L802.6 302.7L803 303.4L803.6 302.2L803.8 301.6L804.5 303.1L804.6 302.9L805.2 303.1L805.6 302.7L805.9 302.9L806.1 302.3L806.6 303L806.6 303.3L806.8 302.6L807.3 303.3L807.5 301.3L807.6 302L808.1 303.7L808.2 303.9L808.6 302.7L808.8 302.4L808.9 301.5L809.5 302.5L809.6 302.7L809.6 301L810.2 302.2L810.3 302L810.6 301.7L810.9 300.1L811.1 301.2L811.6 298.8L811.6 301L811.8 299.8L812.4 298.1L812.5 299.8L812.6 299.6L813.1 298.2L813.2 300.3L813.6 298.1L813.8 299.3L813.9 300L814.5 297.8L814.6 300.3L814.6 299.5L815.2 300L815.4 299.3L815.6 300.6L815.9 299.8L816.1 300.1L816.6 301L816.7 300.5L816.8 302.7L817.4 300.9L817.5 301.5L817.6 301.8L818.1 302.3L818.2 302.9L818.6 303.1L818.8 302.3L818.9 302.2L819.5 302.6L819.6 303.2L819.7 303.1L820.2 302.2L820.4 301.1L820.6 304.2L821 303.3L821.1 302.8L821.6 302.8L821.7 302.2L821.8 301.8L822.4 302.2L822.5 302.3L822.6 302L823.1 301.2L823.2 302.1L823.6 302.6L823.8 301.6L823.9 302L824 300.4L824.5 301.2L824.6 301.2L824.6 300.3L824.7 299.9L825.2 300.5L825.3 299.5L825.4 300.3L825.6 299.2L826 299.1L826.1 298.2L826.1 297.2L826.6 297.2L826.7 296.9L826.8 297.5L826.8 296.5L827.4 296.1L827.5 297.1L827.5 297.3L827.6 297L828.1 297.7L828.2 297.3L828.3 297.6L828.6 298.1L828.8 297.9L828.9 297.8L829 297.9L829.5 300.2L829.6 298.4L829.6 298.3L829.7 298.2L830.3 299.3L830.4 299.6L830.4 298.7L830.6 298.4L831 300.6L831.1 299.4L831.1 300.8L831.6 301.4L831.7 302.2L831.8 302.7L831.8 301.8L832.4 301.6L832.5 301.2L832.5 301.5L832.6 302.2L833.1 300.8L833.2 302.5L833.3 302.4L833.6 303L833.8 302.3L833.9 302.7L834 302.1L834.6 302.4L834.6 301.4L834.7 302.8L835.4 303.9L835.4 302.9L835.6 303.1L836.1 302.1L836.1 303.9L836.6 302.3L836.8 303.4L836.8 302.9L837.5 302.1L837.6 303.6L837.6 302.9L838.2 303L838.3 303.2L838.6 302.8L838.9 302.5L839 303.2L839.6 302.5L839.7 302.8L839.7 302.3L840.4 301.6L840.4 302.2L840.6 302.3L841.1 302.6L841.1 303.5L841.6 301.2L841.8 302.5L841.9 300.7L842.5 301.1L842.6 301.4L842.6 300.1L843.2 299.6L843.3 301.1L843.6 300.6L844 299.9L844 299.3L844.6 300.6L844.7 298.8L844.7 298.3L845.4 299.9L845.4 299.1L845.6 298.5L846.1 300L846.2 299.2L846.6 299.9L846.8 299.8L846.9 298.9L847.5 300.8L847.6 300.2L847.6 299.4L848.3 300.1L848.3 301.5L848.6 300.8L849 301.5L849.6 302.5L849.7 302.2L850.4 301.3L850.6 303.1L851.1 303.4L851.6 303.5L851.8 304.1L852.6 303.2L852.6 303.5L853.3 304.2L853.6 302.8L854 304.3L854.6 304.4L854.7 303.6L855.4 304.5L855.6 303.7L856.1 302.4L856.6 304L856.8 303.4L857.6 303.4L857.6 303.2L858.3 304.2L858.6 303.6L859 302.6L859.6 303.5L859.7 303.7L860.4 302.6L860.6 302.8L861.1 302.9L861.6 302.7L861.9 303.4L862.6 303.9L862.6 304.6L863.3 304.1L863.6 304L864 304L864.6 304.2L864.7 302.9L865.4 303.7L865.6 303.4L866.2 303.1L866.6 302.9L867.6 302.8L868.4 303L868.6 302.3L869.1 303.6L869.6 303.2L869.9 303.3L870.6 303.5L870.6 303.8L871.3 302.8L871.6 303.1L872 302L872.6 301.5L872.7 301.8L873.4 304.4L873.6 301.8L874.1 303.6L874.6 304.3L874.9 302.9L875.6 304.4L875.6 304.6L876.3 303.9L876.6 305L877 303.7L877.6 302.6L877.7 303.6L878.4 302.8L878.6 302.2L879.2 302.2L879.6 304.9L879.9 302.8L880.6 303.1L880.6 302.6L881.3 303.2L881.6 302.9L882 302.8L882.6 302.2L882.7 302L882.9 302.5L883.5 303.2L883.6 304.5L883.6 303.8L884.2 304.3L884.3 303.3L884.6 302.8L884.9 301.8L885 302.8L885.6 301L885.6 302.4L885.7 303.7L886.3 302.4L886.5 302.9L886.6 301.6L887 300.3L887.2 300.7L887.6 300L887.8 300.8L887.9 301.1L888.5 297.6L888.6 297.5L888.6 297.7L889.2 296.3L889.3 295.4L889.6 296.2L889.9 296.4L890 296.5L890.6 295.9L890.6 296.7L890.8 295.7L891.3 298.4L891.5 297L891.6 297.7L892.1 298L892.2 298L892.6 298.1L892.8 297.8L892.9 300.7L893.5 300.5L893.6 300.7L893.6 302.1L894.2 301.3L894.3 301.9L894.6 301.8L894.9 303L895.1 302.6L895.6 302.8L895.6 302.4L895.8 302.8L896.3 303.7L896.5 301.3L896.6 302.8L897.1 302.6L897.2 302.7L897.6 301.5L897.8 303.6L897.9 302.4L898.5 302.9L898.6 302.7L898.6 301.8L899.2 302.7L899.4 301.7L899.6 302.3L899.9 302.8L900.1 303L900.6 303L900.6 302.8L900.8 304.5L901.4 303.1L901.5 301.8L901.6 302.2L902.1 301.9L902.2 302.2L902.6 301.6L902.8 301.3L902.9 303.1L903.5 301.5L903.6 301.2L903.6 301.2L904.2 301.2L904.4 302.4L904.6 301.7L904.9 302.3L905.1 299.2L905.6 302L905.7 302.5L905.8 303.3L906.4 302L906.5 300.7L906.6 302.4L907.1 301.7L907.2 300.9L907.6 301.9L907.8 303.2L907.9 303.4L908.5 303.3L908.6 302L908.7 304.7L909.2 302.1L909.4 303L909.6 302L910 304.1L910.1 303.5L910.6 303.9L910.7 303.3L910.8 303.2L911.5 303.4L911.6 301.9L912.2 304.1L912.6 304L913 303.1L913.6 303.4L913.7 303.6L914.4 304.6L914.6 303.7L915.1 303.4L915.6 303L915.8 302.3L916.5 303L916.6 303.5L917.3 303.2L917.6 303.5L918 304L918.6 303.8L918.7 303.6L919.4 303.9L919.6 303.6L920.1 303.4L920.6 303.8L920.8 302.1L921.5 304.4L921.6 302.5L922.3 304.1L922.6 303.5L923 304.3L923.6 303.5L923.7 302.8L924.4 304.3L924.6 303.6L925.1 303.6L925.6 303.5L926.6 304.2L927.6 304.1L928.6 303.7L929.6 302.3L930.6 303.2L931.6 303.6L932.6 304.9L932.8 303.8"/>
<path stroke="#000" d="M52.6 186.3L53.6 187.3L54.6 186.4L55.6 186.5L56.6 186.7L57.6 185.5L58.6 187.4L59.6 187.1L60.6 186.6L61.6 186L62.6 187.1L63.6 188L64.6 186.5L65.6 186.3L66.6 187.4L67.6 186L68.6 185.5L69.6 186.9L70.6 186.8L71.6 187.2L72.6 187L73.6 187.7L74.6 187.3L75.6 187.1L76.6 187.3L77.6 188.1L78.6 188.4L79.6 188.4L80.6 188.3L81.6 185.4L82.6 187.2L83.6 187.7L84.6 188.2L85.6 186.8L86.6 189.2L87.6 188.4L88.6 187.7L89.6 188.3L90.6 188L91.6 187.7L92.6 188.7L93.6 188L94.6 187.4L95.6 188L96.6 188.4L97.6 187.7L98.6 189.5L99.6 187.8L100.6 189.9L101.6 189.3L102.6 187.9L103.6 188.8L104.6 189.6L105.6 188.5L106.4 187.8L106.6 188.7L107.2 190.1L107.6 187.5L108 189.1L108.6 188.6L108.7 188.5L109.5 188.3L109.6 188.3L110.3 189.3L110.6 189L111 187.8L111.6 189.6L111.8 187.5L112.6 188.9L112.6 188.5L113.3 189.2L113.6 188.5L114.1 189L114.6 188.1L114.9 188.8L115.6 188.1L115.6 189.5L116.4 187.1L116.6 188.5L117.2 187.7L117.6 187.4L117.9 186.7L118.6 187L118.7 185.5L119.5 185.1L119.6 186.5L120.2 184.2L120.6 186.1L121 184.3L121.6 183.9L121.8 183.5L122.5 182.2L122.6 181.5L123.3 179.5L123.6 178.5L124.1 177.1L124.6 173.3L124.8 171.1L125.6 158L125.6 157.5L126.4 132.5L126.6 123.8L127.1 94.2L127.6 61.3L127.9 39.9L128.6 -6.6L128.7 -10.9L129.4 -21.7L129.6 -17.6L130.2 13.8L130.6 43.6L131 70.6L131.6 111.3L131.7 117.5L132.5 148.4L132.6 150.7L133.3 165.4L133.6 169.8L134 174.5L134.6 177.8L134.8 178.2L135.6 180.8L135.6 180.8L136.3 182.4L136.6 184L137.1 181.7L137.6 184L137.9 184.7L138.6 186L138.6 184.3L139.4 185.9L139.6 186.4L140.2 185.7L140.6 184.8L140.9 186.1L141.6 185.8L141.7 187.2L142.5 186.4L142.6 188.4L143.2 187.3L143.6 186.7L144 187L144.6 186.7L144.8 187.8L145.5 188.8L145.6 187.5L146.3 188.4L146.6 187L147.1 188L147.6 189.5L147.8 186.7L148.6 188.7L148.6 188.7L149.4 186.4L149.6 186.8L150.2 187.1L150.6 188.6L150.9 187.5L151.6 187.7L151.7 188.4L152.6 187.9L153.6 188L154.6 187.6L155.6 188.7L156.6 187.4L157.6 189.3L158.6 188L159.6 187.8L160.6 189.1L161.6 189.2L162.6 187.7L163.6 189.6L164.6 188.8L165.6 189.5L166.6 191L167.6 190.1L168.6 191.4L169.6 191.2L170.6 193.2L171.6 192L172.6 191.5L173.6 191.8L174.6 192.2L175.6 193.2L176.6 193.3L177.6 194.2L178.6 193.8L179.6 193.9L180.6 194.2L181.6 194L182.6 194.5L183.6 195L184.6 195.1L185.6 194.2L186.6 193.4L187.6 194.3L188.6 195.2L189.6 193.2L190.6 194.9L191.6 195.7L192.6 195L193.6 194.7L194.6 197L195.6 196.8L196.6 195.7L197.6 197L198.6 197.1L199.6 195.3L200.6 198.3L201.6 195.7L202.6 196.3L203.6 195.8L204.6 196.8L205.6 195.9L206.6 196.9L207.6 197.9L208.6 197.3L209.6 197.1L210.6 198.5L211.6 196.8L212.6 198.3L213.6 197.5L214.6 198L215.6 197.9L216.6 198.1L217.6 198.1L218.6 197.6L219.6 197.9L220.6 198.8L221.6 198.5L222.6 197.8L223.6 198.2L224.6 198.3L225.6 198.9L226.6 199.2L227.6 199.2L228.6 198.8L229.6 199.4L230.6 198.5L231.6 197.4L232.6 199.7L233.6 198.6L234.6 199.2L235.6 199.1L236.6 200.6L237.6 199.3L238.6 200.5L239.6 200L240.6 199.6L241.6 199.4L242.6 201.1L243.6 201.1L244.6 201.5L245.6 202.4L246.6 201.3L247.6 201.4L248.6 201.2L249.6 201.5L250.6 201.2L251.6 200.9L252.6 203.2L253.6 200.4L254.6 202.1L255.6 202.3L256.6 202.2L257.6 201.4L258.6 202.1L259.6 202L260.6 201.6L261.6 202.4L262.6 202.3L263.6 202.2L264.6 203.2L265.6 202L266.6 203.1L267.6 202.3L267.9 203.1L268.5 202.8L268.6 202.9L269.2 202L269.6 202.1L269.9 202.1L270.5 202.8L270.6 203.2L271.2 203.4L271.6 202.2L271.9 202.6L272.5 201.3L272.6 200.8L273.2 201.8L273.6 201.9L273.9 201.2L274.5 200.9L274.6 202.6L275.2 201.5L275.6 200.8L275.9 203.7L276.5 201.9L276.6 201.5L277.2 202.1L277.6 200.8L277.8 202.5L278.5 199.8L278.6 199.9L279.2 200.4L279.6 199.6L279.8 201L280.5 198L280.6 198.6L281.2 198.5L281.6 198L281.8 197.8L282.5 195.6L282.6 196.6L283.2 192.2L283.6 189.7L283.8 188.1L284.5 177.2L284.6 174.9L285.2 157.8L285.6 137.7L285.8 124.7L286.5 80.3L286.6 71.6L287.2 37.2L287.6 20.4L287.8 22.2L288.5 43.6L288.6 49.8L289.2 85.8L289.6 115.8L289.8 130.1L290.5 160.3L290.6 164.7L291.1 177.9L291.6 186.5L291.8 187.5L292.5 193.2L292.6 192.5L293.1 195.4L293.6 197.6L293.8 197.3L294.5 198.6L294.6 199.7L295.1 199.8L295.6 201.4L295.8 198.8L296.5 201.7L296.6 201.7L297.1 200.6L297.6 201L297.8 202.8L298.5 201.6L298.6 202L299.1 203.2L299.6 202.6L299.8 203.3L300.5 202.5L300.6 203.4L301.1 204.1L301.6 203.7L301.8 201.8L302.4 204.1L302.6 203.7L303.1 203.1L303.6 204.9L303.8 202.6L304.4 205.4L304.6 203.5L305.1 205.2L305.6 204.1L305.8 203.2L306.4 204.3L306.6 204.5L307.1 204.7L307.6 205.2L308.6 203.8L309.6 204.9L310.6 205.2L311.6 204.5L312.6 204.1L313.6 204.1L314.6 205.5L314.8 205.5L315.4 204.3L315.6 204L316.1 205.9L316.6 203.8L316.8 205.1L317.4 204.4L317.6 203.7L318.1 205.2L318.6 204.9L318.8 206.2L319.4 206.8L319.6 205L320.1 205.9L320.6 205.9L320.8 204.8L321.4 204.5L321.6 206.4L322.1 204.9L322.6 205.2L322.8 205L323.4 205.1L323.6 204.8L324.1 205.8L324.6 206.1L324.7 204.9L325.4 204.1L325.6 205.2L326.1 204L326.6 204.6L326.7 206L327.4 206.8L327.6 205.3L328.1 204.1L328.6 205.4L328.7 203.1L329.4 204.1L329.4 205.7L329.6 205L330 203.2L330.1 203L330.6 204.3L330.7 203.5L330.7 203.1L331.4 202.6L331.4 201.7L331.6 200.1L332 200.3L332.1 199L332.6 195.3L332.7 194.4L332.7 195.2L333.3 188.7L333.4 189.3L333.6 186.6L334 183.9L334.1 182.5L334.6 180L334.7 179L334.7 179.6L335.3 183.4L335.4 185.4L335.6 183.9L336 187.8L336.1 189.2L336.6 194.4L336.7 194.2L336.7 195.1L337.3 198.1L337.4 199.3L337.6 201.3L338 203.4L338 202.1L338.6 203.4L338.7 204L338.7 204.6L339.3 204.9L339.4 204L339.6 205L340 205.7L340 204.4L340.6 204.2L340.7 205.6L340.7 205.5L341.3 206.2L341.4 205.5L341.6 205L342 205.3L342 204.8L342.6 205L342.7 205.3L342.7 205.4L343.3 206.6L343.4 204.9L343.6 205.8L344 205.4L344 207L344.6 206.1L344.7 205.6L344.7 206.5L345.3 206L345.4 205.5L345.6 207L346 206.4L346 207.1L346.6 206.5L346.6 206.2L346.7 205.7L347.3 204.4L347.4 205.7L347.6 205.1L348 205.2L348 204.6L348.6 203.6L348.6 203.4L348.7 204.6L349.3 204.9L349.4 203.7L349.6 204.3L350 205.2L350 203.6L350.6 204.5L350.6 204L350.7 205.7L351.3 205.6L351.3 205.1L351.6 204.4L352 205.8L352 206.7L352.6 206L352.6 205.9L352.7 206.7L353.3 205.4L353.3 206.4L353.6 206.9L354 205.9L354 205.9L354.6 206.7L354.6 206.5L355.3 206.4L355.6 206.8L356 206.8L356.6 206L356.6 206.2L357.3 207L357.6 207.5L358 207.7L358.6 206.1L358.6 207.6L359.3 207.4L359.6 206.8L359.9 207.2L360.6 207.5L360.6 208.2L361.3 206.1L361.6 207.3L361.9 206.8L362.6 206.8L362.6 207.8L363.3 207.5L363.6 206.2L363.9 206.8L364.6 207.2L364.6 205.9L365.3 207.6L365.6 207L365.9 207.1L366.6 207.3L366.6 208.4L367.3 207.1L367.6 206.8L367.9 208.4L368.6 206.7L368.6 206.7L369.6 206.1L370.6 208L371.6 207.4L372.6 207.6L373.6 207.4L374.6 207.2L375.6 206.7L376.6 206.7L377.6 207.7L378.1 207.4L378.6 208.6L378.8 206.8L379.5 207L379.6 206.6L380.1 208.4L380.6 206.5L380.8 208L381.5 208.5L381.6 207.3L382.1 207.9L382.6 205.8L382.8 207.1L383.5 206.2L383.6 207.5L384.1 207.4L384.6 206.8L384.8 208.1L385.5 207.7L385.6 207L386.1 207L386.6 206.3L386.8 207.2L387.5 208.9L387.6 206.8L388.1 207.6L388.6 206.8L388.8 207.8L389.5 207.5L389.6 207L390.1 205.7L390.6 206.6L390.8 207.8L391.4 206.6L391.6 207.2L392.1 206.2L392.6 204.9L392.8 206.5L393.4 205.9L393.6 205L394.1 204.4L394.6 203.6L394.8 202.3L395.4 199.2L395.6 197.5L396.1 190.9L396.6 186.2L396.8 183.6L397.4 174.9L397.6 174.3L398.1 171.7L398.6 174.4L398.8 176L399.4 182.8L399.6 183.8L400.1 190.6L400.6 197.2L400.8 197.6L401.4 201.4L401.6 202.7L402.1 204.7L402.6 205.6L402.8 206.1L403.4 205.6L403.6 206.2L404.1 206.5L404.6 206.9L404.7 205.4L405.4 207L405.6 206.2L406.1 208.4L406.6 208.6L406.7 208.7L407.4 208.2L407.6 207.2L408.1 208.4L408.6 207.6L408.7 208.2L409.4 207.1L409.6 207.4L410.1 208.2L410.6 209.2L410.7 207.9L411.4 209.6L411.6 210L412.1 207L412.6 208L412.7 207.3L413.4 207.9L413.6 207.6L414.1 208L414.6 208.8L414.7 208.8L415.4 208.3L415.6 208.1L415.7 208.2L416.1 208.2L416.4 208.6L416.6 208.2L416.7 208.5L417.1 207.2L417.4 208.8L417.6 209.5L417.7 208.3L418.4 207.2L418.6 209.2L419.1 208L419.6 206L419.7 208.1L420.4 208.7L420.6 208.5L421.1 209.2L421.6 208.7L421.7 208.4L422.4 206.8L422.6 207.5L423.1 208.4L423.6 208.8L423.7 207.6L424.4 207.9L424.6 208.7L425.1 206.9L425.6 206.9L425.7 208.2L426.4 208.5L426.6 208L427 206.7L427.6 208.4L427.7 207.4L428.4 208.8L428.6 208.3L429 208.5L429.6 208.8L429.7 207.9L430.4 208.9L430.6 209.2L431 208.6L431.6 209.2L431.7 207.7L432.4 208.7L432.6 208.1L433 206.9L433.6 207L433.7 206.5L434.4 205.6L434.6 205.8L435 205.9L435.6 204.6L435.7 204.9L436.4 204L436.6 205.4L437 206.7L437.6 207.2L437.7 207.1L438.4 207.1L438.6 207L439 207.9L439.6 207.2L439.7 207.3L440.3 209.1L440.6 207.7L441 209.8L441.6 207.5L441.7 208.9L442.3 207.7L442.6 208.7L443 207.8L443.6 208.7L443.7 208.5L444.3 208.3L444.6 209L445 209.8L445.6 208.3L445.7 209.4L446.3 208.8L446.6 208.7L447 210.4L447.6 207.1L447.7 208.2L448.3 207.4L448.6 208.5L449 208.6L449.6 211.6L449.7 209L450.3 210.1L450.6 209.8L451 208.5L451.6 209.2L451.7 210.1L452.3 209L452.6 209L453 209.2L453.6 207.7L453.6 208.3L454.3 209.1L454.6 209.3L455 208.2L455.6 208.6L456.6 208.8L457.6 208.8L458.6 209.4L459.6 209L460.6 209L461.6 207.9L462.6 208.1L463.6 209.2L464.6 207.7L465.6 209.1L466.6 208.4L467.6 208.3L468.6 209.4L469.6 208.4L470.6 208.3L471.6 208.4L472.6 209L473.6 211L474.6 207.4L475.6 208.9L476.6 208.8L477.6 209.7L478.6 208.7L479.6 207.1L480.6 209.9L481.6 208.1L482.6 208.9L483.6 207.9L484.6 208.1L485.6 208.6L486.6 209.6L487.6 209.6L488.6 208.5L489.6 209.3L490.6 208.6L491.6 209L492.6 209L493.6 209.4L494.6 208.4L495.6 208.8L496.6 209L497.6 208.9L498.6 208.2L499.6 210.1L500.6 208.4L501.6 209.3L502.6 208.9L503 209.6L503.6 207L503.7 210.2L504.3 208.5L504.6 207.7L505 208.7L505.6 210.2L505.7 208.9L506.3 207.6L506.6 208.1L507 209.5L507.6 207.4L507.7 208.3L508.3 208.1L508.6 209.9L509 208L509.6 209.2L509.7 207.7L510.3 207.5L510.6 208.8L511 208.4L511.6 206.6L511.7 208.3L512.3 208.1L512.6 207.1L513 207.6L513.3 207.6L513.6 206.9L513.7 206.8L514 206.6L514.3 206.8L514.6 205.8L514.7 206.8L515 205.5L515.3 206.4L515.6 206.1L515.6 205.4L516 206.5L516.3 207L516.6 206.3L516.6 204.2L517 205.7L517.3 204.5L517.6 203.7L517.6 203.3L518 202.9L518.3 203L518.6 201.3L518.6 200.4L519 198.4L519.3 196.1L519.6 193.8L519.6 194.3L520 187.3L520.3 181.6L520.6 173.9L520.6 172.6L521 163.1L521.3 150.9L521.6 137.3L521.6 136.4L522 124.5L522.3 112.4L522.6 105.4L522.6 104.1L523 101.7L523.3 104.4L523.6 108.5L523.6 108.5L524 117.3L524.3 127.7L524.6 136.8L524.6 139.2L525 150.5L525.3 160.7L525.6 170.5L525.6 170.9L526 179.7L526.3 186.2L526.6 189.5L526.6 189.7L526.9 195.2L527.3 197.2L527.6 199.3L527.6 199.3L528 201.6L528.3 200.4L528.6 202.7L528.6 201.3L528.9 202.8L529.3 203.4L529.6 201.2L529.6 202.5L529.9 201.6L529.9 201.6L530.3 201L530.6 199.1L530.6 199.1L530.6 200.2L530.9 198.7L531.2 195.6L531.3 194.7L531.6 194.9L531.6 194L531.9 190.7L531.9 189.4L532.3 186.8L532.6 185L532.6 183.9L532.6 185.8L532.9 183.1L533.2 182.8L533.3 181.7L533.6 182.3L533.6 182.4L533.9 184.4L533.9 184.1L534.3 186L534.6 188.5L534.6 188.7L534.6 189.6L534.9 190.9L535.2 192.9L535.3 193.9L535.6 197.6L535.6 196.1L535.9 198.7L535.9 198.6L536.3 201.1L536.6 202.5L536.6 201.8L536.6 202.2L536.9 204.3L537.2 205.3L537.3 205.2L537.6 205.8L537.6 205L537.9 205.4L537.9 206.4L538.3 205.1L538.6 206.2L538.6 204.9L538.6 206L538.9 205.9L539.2 205.7L539.3 207L539.6 206.1L539.6 206.4L539.9 206.5L539.9 206.1L540.2 207.8L540.6 206.4L540.6 206.9L540.6 205.8L540.9 206.4L541.2 206.5L541.2 206.5L541.6 206.2L541.6 206.7L541.9 207.7L541.9 206.5L542.2 206.4L542.6 206.1L542.6 208.2L542.6 207.5L543.2 206.4L543.2 206.5L543.6 205.2L543.9 205.4L543.9 205.7L544.5 204.9L544.6 204.2L544.6 204.2L545.2 204L545.2 203.8L545.6 201L545.9 201.5L545.9 202.3L546.5 196.6L546.6 197L546.6 195.5L547.2 189.5L547.2 187.6L547.6 180.5L547.9 174.9L547.9 176.2L548.5 155.9L548.6 154.7L548.6 154.9L549.2 138.4L549.2 138.9L549.6 131.2L549.9 129.8L549.9 130.8L550.5 136.6L550.5 136.7L550.6 137.5L550.6 136.2L551.2 148L551.2 148.7L551.2 149.8L551.6 158.6L551.9 164.6L551.9 164.3L551.9 166.2L552.5 181.1L552.5 182.6L552.6 180.8L552.6 183L553.2 190.7L553.2 191.3L553.6 195.8L553.9 198.2L553.9 197.9L554.5 201.9L554.5 202.3L554.6 202.3L555.2 204.9L555.2 204.3L555.6 205.2L555.9 206.6L555.9 205.8L556.5 206.4L556.5 206.3L556.6 206.4L557.2 207.2L557.2 206.2L557.6 207.9L557.8 208.3L557.9 208L558.5 207.1L558.5 206.3L558.6 207.2L559.2 207.8L559.2 208.3L559.6 207.7L559.8 207.7L559.9 209L560.5 207.6L560.5 208.9L560.6 208.8L561.2 207.2L561.2 208.4L561.6 207.9L561.8 207.6L561.8 206.9L562.5 207.2L562.5 208.7L562.6 208.1L563.2 208.6L563.2 207.7L563.6 208.2L563.8 208.3L563.8 207.3L564.5 207.3L564.5 208.8L564.6 208.6L565.2 207.8L565.2 208.4L565.6 209L565.8 209.8L565.8 207.8L566.5 208.8L566.5 209.9L566.6 208.3L567.2 209.1L567.2 206.1L567.6 208.7L567.8 207.4L567.8 206L568.5 206.9L568.5 207.1L568.6 207L569.2 205.8L569.2 204.9L569.6 203.4L569.8 203.2L570.5 202.9L570.6 203.3L571.2 203L571.6 204L571.8 205L572.5 205.8L572.6 207.5L573.1 208.4L573.6 206.6L573.8 207.3L574.5 207.4L574.6 207.5L575.1 209.1L575.6 208.1L575.8 208.1L576.5 208.7L576.6 209.5L577.1 208.8L577.6 208.8L577.8 209.7L578.5 209.5L578.6 209.5L579.1 209.8L579.6 208.4L579.8 209.3L580.5 208.7L580.6 210L581.1 209.8L581.6 208.5L581.8 210.2L582.5 208.4L582.6 210.1L583.1 209.4L583.6 208.6L583.8 208.5L584.5 209.1L584.6 209.3L585.1 208.8L585.6 209.7L585.8 208.3L586.4 209.3L586.6 209.3L587.1 207.9L587.6 209.6L587.8 208.4L588.4 207.5L588.6 208.9L589.1 209.2L589.6 210L589.8 209L590.6 210.4L591.6 210.4L592.6 210.2L593.6 210.3L594.6 209.6L595.6 209L596.6 209.9L597.6 210.1L598.6 209.6L599.6 209.2L600.6 208.2L601.6 209.9L602.6 209.6L603.6 208.4L604.6 209.4L605.6 209.9L605.7 209.2L606.4 209.9L606.6 209.9L607.1 208.2L607.6 209.1L607.7 209.6L608.4 209.9L608.6 210.3L609.1 207.8L609.6 209.2L609.7 209.8L610.4 210.1L610.6 210.4L611.1 208.5L611.6 208.9L611.7 208.4L612.4 209.7L612.6 208.1L613.1 209.9L613.6 209.7L613.7 209.4L614.4 207.3L614.6 208.4L615.1 209.4L615.6 207.8L615.7 208.6L616.4 208.6L616.6 209.3L617 208.8L617.6 208.6L617.7 208.1L618.4 208.2L618.6 208L619 208.4L619.6 207.5L619.7 208.3L620.4 205.7L620.6 207.7L621 206.1L621.6 205.8L621.7 204.8L622.4 202.5L622.6 201.4L623 196L623.6 189L623.7 187.3L624.4 175.4L624.6 169.5L625 163.5L625.2 161.1L625.6 158.7L625.7 159.1L625.9 158.6L626.4 163.7L626.6 164.9L626.6 166.3L627 168.8L627.2 171.2L627.6 177.5L627.7 177.3L627.9 181.9L628.4 187.9L628.6 190.9L628.6 191.9L629 196.3L629.2 199.6L629.6 201.4L629.7 200.5L629.9 203.3L630.3 203.5L630.6 205.1L630.6 204.3L631 205.4L631.2 207.4L631.6 206.4L631.7 206.5L631.9 206.7L632.3 207.2L632.5 208.7L632.6 206.7L633 206.9L633.2 208.3L633.6 206.9L633.7 207.8L633.9 209L634.3 208.3L634.5 208L634.6 207.8L635 207.7L635.2 208L635.6 208.6L635.7 209.4L635.9 209.2L636.3 208.1L636.5 208L636.6 209.1L637 207.3L637.2 208.3L637.6 208.4L637.7 207.8L637.9 207.9L638.3 208.8L638.5 207.3L638.6 207.9L639 208L639.2 208.5L639.6 207.4L639.7 209.2L639.9 208.1L640.3 208L640.5 207.8L640.6 207.6L641 207.1L641.2 208.4L641.6 207.2L641.6 206.9L641.9 207.3L642.3 204.9L642.5 205.2L642.6 204.4L643 202L643.2 202.1L643.6 197.9L643.6 199.1L643.9 196.6L644.3 194.6L644.5 194.2L644.6 193.3L645 191.4L645.2 191.7L645.6 192L645.8 192.1L646.5 194.5L646.6 195.7L647.2 198.8L647.6 199.3L647.8 201.8L648.5 205L648.6 205.1L649.2 205.8L649.6 208.1L649.8 206.8L650.5 208.8L650.6 209.5L651.2 207.1L651.6 209L651.8 209.1L652.5 209.1L652.6 208.4L653.2 208.9L653.6 208.1L653.8 209.3L654.5 209.6L654.6 208.8L655.2 208.6L655.6 209L655.8 209.3L656.5 209.4L656.6 209.3L657.2 209.5L657.6 208.5L657.8 207.4L658.5 209.9L658.6 210.5L659.1 208.4L659.6 209L659.8 209.7L660.5 210.2L660.6 210L661.1 210.5L661.6 209.5L661.8 209.8L662.5 209.9L662.6 209.2L663.1 210.5L663.6 210L663.8 210.3L664.5 209.3L664.6 210.3L665.6 208.8L666.6 209.9L667.6 207.7L668.6 208.9L669.6 210.2L670.6 209.3L671.6 209.8L672.6 208.5L673.6 210.8L674.6 210.1L675.6 209.7L676.6 210L677 209.9L677.6 210.7L677.7 209.9L678.4 208.6L678.6 209.5L679 210.6L679.6 210.1L679.7 209.4L680.4 210.2L680.6 209.8L681 210.2L681.6 208.5L681.7 209.1L682.4 210.2L682.6 209.6L683 210L683.6 211.2L683.7 209.5L684.4 209.9L684.6 209.3L685 209.3L685.6 209.7L685.7 208.7L686.3 208.2L686.6 210.7L687 209.6L687.6 210.5L687.7 209.8L688.3 209.8L688.6 210.2L689 210.2L689.6 208.8L689.7 210.6L690.3 209L690.6 209.8L691 211.5L691.6 209.7L691.7 210.9L692.3 209.3L692.6 210L693 209.6L693.6 209.7L693.7 208.7L694.3 208.4L694.6 209.2L695 207.5L695.6 207.4L695.7 208.5L696.3 206.9L696.6 206.6L697 206.4L697.6 207.5L697.7 207.1L698.3 207.8L698.6 207.7L699 209.4L699.6 208.2L699.6 207.1L700.3 209.1L700.6 209.2L701 209.4L701.6 208.3L701.6 210.3L702.3 209.6L702.6 209.6L703 208.5L703.6 210.1L703.6 209.7L704.3 210.7L704.6 209.4L705 208.8L705.6 209.9L705.6 209.1L706.3 210.1L706.6 209L707 209.7L707.6 209.6L707.6 209.8L708.3 209.4L708.6 209.2L709 209.8L709.6 209.4L709.6 209.9L710.3 209.6L710.6 208.2L711 209.8L711.6 210.8L711.6 210.1L712.3 210.3L712.6 210.2L712.9 209.5L713.6 208.9L713.6 210.4L714.3 210.6L714.6 210.3L714.9 210.2L715.6 210.1L715.6 209.8L716.3 210.1L716.6 209.9L717.6 210.1L718.6 209.2L719.6 209.4L720.6 210.3L721.6 209.6L722.6 208.1L723.6 210L724.6 208.2L725.6 211.3L726.6 210.4L727.6 210.4L728.6 209.4L729.6 209L730.6 209.7L731.6 209.9L732.6 209.3L733.6 210L734.6 210.4L735.6 210.3L736.6 209.1L737.6 208.3L738.6 209.9L739.6 209.4L740.6 210.2L741.6 211L742.6 211L743.6 210.1L744.6 210.6L745.6 211L746.6 209.9L747.6 210L748.6 210.4L749.6 209.8L750.6 209.5L751.6 209.3L752.6 209.8L753.6 209.4L754.6 210.4L755.6 209.5L756.6 210.8L757.6 210.6L758.6 208.9L759.6 210.5L760.6 209.4L760.7 210.7L761.3 210.1L761.6 209.7L762 210.2L762.6 209.3L762.7 209.9L763.3 209.9L763.6 209.5L764 209.9L764.6 208.9L764.6 210L765.3 208.7L765.6 210L766 209.9L766.6 210L766.6 209.1L767.3 211.7L767.6 209.3L768 209.5L768.6 208.8L768.6 210.4L769.3 209L769.6 210L770 208.6L770.6 209.4L770.6 208.9L771.3 209.7L771.6 208.8L772 208.3L772.6 209.1L772.6 207.9L773.3 207.9L773.6 209L774 206.9L774.6 208.5L774.6 207.6L775.3 206.8L775.6 207.3L776 207L776.6 204.8L776.6 205L777.3 202.8L777.6 200.6L777.9 196.8L778.6 187.7L778.6 187.4L779.3 175.9L779.6 171.1L779.9 166.1L780.6 162.7L780.6 163.5L781.3 166.4L781.6 169.1L781.9 171.8L782.6 178.6L782.6 175.8L783.3 184.7L783.6 188.8L783.9 192.4L784.6 200.5L784.6 199.7L785.3 203.6L785.6 203.9L785.9 205.9L786.6 206.6L786.6 206.9L787.3 207.8L787.6 207.6L787.9 208.6L788.6 209.6L788.6 209.2L789.3 208.8L789.6 207.4L789.9 209.6L790.6 209.8L790.6 208.9L791.2 208.8L791.6 209.7L791.9 208.7L792.6 209.9L792.6 208.6L793.2 208.7L793.6 209.4L793.9 208.4L794.4 209.5L794.6 209.9L794.6 208.6L795 210.2L795.2 209.1L795.6 209.9L795.7 209.7L795.9 209.2L796.4 209.2L796.6 208.4L796.6 209.1L797 209.1L797.2 210.8L797.6 210.3L797.7 208.7L797.9 210.2L798.3 209.8L798.6 209.4L798.6 210L799 210.2L799.2 209.3L799.6 209.5L799.7 209.8L799.9 209L800.3 209.8L800.6 209.6L801 209.2L801.6 209.1L801.7 209.9L802.3 210.3L802.6 210L803 209.1L803.6 210.3L803.7 209.9L804.3 210.2L804.6 210.6L805 209.1L805.6 209.6L805.7 209.3L806.3 209.1L806.6 211.1L807 210.4L807.6 208.4L807.7 210L808.3 209.3L808.3 210.5L808.6 209.7L809 209.5L809 209.7L809.6 209.8L809.6 209.6L809.7 209.4L810.3 209.3L810.3 209.8L810.6 208.5L811 209.2L811 209.1L811.6 208.4L811.6 209.2L811.6 207.8L812.3 207.7L812.3 207.3L812.6 207.9L813 206.6L813 206.9L813.6 206.2L813.6 204.8L813.6 206.3L814.3 205.2L814.3 205.5L814.6 205.7L815 206.6L815 206.6L815.6 207.8L815.6 206.7L815.6 206.2L816.3 206.6L816.3 207.4L816.6 208.3L817 207.7L817 207.1L817.6 208.3L817.6 208.3L817.6 208.2L818.3 208.2L818.3 207L818.6 208.6L819 209.9L819 209.3L819.6 207.8L819.6 209.4L819.6 208.1L820.3 210.9L820.3 209.6L820.6 208.6L820.9 210.1L821 209L821.6 209.9L821.6 209.5L821.6 208.7L822.3 210L822.3 208.6L822.6 210.4L822.9 209.5L822.9 208.7L823.6 208.1L823.6 210.5L823.6 210.4L824.3 208.3L824.3 210.3L824.5 209.1L824.6 208.8L824.9 208.7L824.9 208.5L825.2 209.5L825.6 208.1L825.6 206.7L825.6 209.4L825.9 208.1L826.3 205.9L826.3 206.4L826.5 205.4L826.6 205.9L826.9 205.3L826.9 205.1L827.2 203.9L827.6 202.9L827.6 204.1L827.6 203.4L827.9 204.7L828.3 202.5L828.3 203.6L828.5 203.3L828.6 202.8L828.9 204.7L828.9 203.8L829.2 203.5L829.6 204.3L829.6 205.3L829.6 203.7L829.9 205.8L830.3 205.6L830.3 205L830.5 206.4L830.6 206.8L830.9 206.4L830.9 206.1L831.2 207.7L831.6 208.1L831.6 206.5L831.6 207L831.8 207.4L832.3 207.8L832.3 207L832.5 209L832.6 208.5L832.9 208.8L832.9 209.8L833.2 208.6L833.6 209.1L833.6 209.4L833.6 208.9L833.8 209.2L834.2 209.9L834.5 209.4L834.6 210.4L834.9 209L835.2 209.7L835.6 208.6L835.6 209.5L835.8 209.1L836.2 210.6L836.5 210.1L836.6 210L836.9 210.9L837.2 210.7L837.6 210.1L837.6 209.2L837.8 208.6L838.2 209.6L838.5 209.4L838.6 209.2L838.9 209.4L839.2 208.4L839.6 210.6L839.6 208.8L839.8 209.1L840.2 209.9L840.5 208.3L840.6 210L840.9 210L841.2 209L841.6 208.2L841.6 208.6L841.8 207.4L842.2 209.2L842.5 207.9L842.6 207.2L842.9 206.6L843.2 207.3L843.6 207.3L843.6 205.3L843.8 205.5L844.2 204.4L844.5 206.2L844.6 205.9L844.9 207.5L845.1 206L845.6 206.1L845.6 206L845.8 207.2L846.2 205.7L846.5 207.5L846.6 207.2L846.9 206.9L847.1 206.8L847.5 208.6L847.6 209.2L847.8 207.8L848.5 209.1L848.6 210.1L849.1 208.8L849.6 209.2L849.8 208.6L850.5 209.5L850.6 209.6L851.1 209.4L851.6 209.2L851.8 208.6L852.5 208.8L852.6 209.1L853.1 210.3L853.6 209.5L853.8 209.2L854.5 210.3L854.6 210.3L855.1 209.3L855.6 209.4L855.8 210.3L856.5 210.1L856.6 209.3L857.1 210.1L857.6 209.9L857.8 210.7L858.4 209.3L858.6 210.5L859.1 210.2L859.6 209.2L859.8 210.7L860.4 210.6L860.6 209L861.1 211.3L861.6 209.1L861.8 209.3L862.4 209.7L862.6 210.5L863.1 210.3L863.6 209.9L863.8 210.9L864.6 210.2L865.6 210.9L866.6 211.9L867.6 210.1L868.6 208.1L869.6 209.6L870.6 209.1L870.9 210L871.6 210L871.6 209L872.3 209.1L872.6 209.7L872.9 209.8L873.6 208L873.6 210.6L874.3 209.9L874.6 209.9L874.9 210.1L875.6 209.2L875.6 209.9L876.3 210.6L876.6 210.7L876.9 210.2L877.6 209.7L877.6 209.3L878.2 210.8L878.6 210.3L878.9 209.6L879.6 208.3L879.6 209.2L880.2 208.4L880.6 210.7L880.9 210L881.6 209.3L881.6 209.6L882.2 211.7L882.6 210.7L882.9 208.8L883.6 209.6L883.6 208.8L884.2 208.4L884.6 209.8L884.9 211.4L885.6 210.7L885.6 209.5L886.2 209.1L886.6 209.4L886.9 209.9L887.6 207.5L887.6 207.2L887.7 209.9L888.2 207.8L888.3 208.6L888.6 207L888.9 207.2L889 205.3L889.6 204.4L889.6 205L889.7 204.5L890.2 201.9L890.3 202.7L890.6 201.3L890.9 200.8L891 202.3L891.5 203.8L891.6 203.5L891.6 202L892.2 204.4L892.3 204.4L892.6 203.8L892.9 202.5L893 205.2L893.5 205.7L893.6 205.5L893.6 203.9L894.2 205.1L894.3 207.1L894.6 207.5L894.9 207.8L895 207.4L895.5 208.6L895.6 208L895.6 208.2L896.2 208.3L896.3 209.2L896.6 208.9L896.9 210L897 209.8L897.5 208.8L897.6 210.8L897.6 208.6L898.2 209.9L898.3 210.4L898.6 210.5L898.9 208L899 210.4L899.5 210.5L899.6 210.7L899.6 208L900.2 209.1L900.3 209.6L900.6 209.3L900.9 210.7L901 209.2L901.5 210.6L901.6 210.1L901.6 208.6L902.2 208.9L902.3 209.3L902.6 209.7L902.9 210.3L903 209.4L903.5 210.1L903.6 208.3L903.6 207.2L904.2 209L904.3 209.5L904.6 208.7L904.8 208L904.9 209L905.5 209.5L905.6 207.8L905.6 207.3L906.2 206.4L906.3 208.3L906.6 206.3L906.8 206.5L906.9 206.8L907.5 206.5L907.6 205L907.6 206.4L908.2 206.8L908.3 206.6L908.6 207.3L908.8 206.3L908.9 206.7L909.5 206.6L909.6 207.6L909.6 206.6L910.2 207.6L910.3 206.6L910.6 207.5L910.9 207.7L911.6 208.5L911.6 208.7L912.3 208.9L912.6 209.1L912.9 207.9L913.6 210.4L913.6 209.1L914.3 209.5L914.6 209.1L914.9 210.5L915.6 209.1L915.6 210.2L916.3 210.7L916.6 211.1L916.9 210.7L917.6 210.3L917.6 209L918.2 210.9L918.6 210.8L918.9 210.5L919.6 210.5L919.6 210L920.2 209.5L920.6 210.7L920.9 210.9L921.6 209.2L921.6 210.6L922.2 210.1L922.6 210.6L922.9 210.1L923.6 210.8L923.6 210.7L924.2 210.6L924.6 208.9L924.9 210.6L925.6 210L925.6 209.1L926.2 210.5L926.6 208.9L926.9 210.6L927.6 211.2L928.6 209.6L929.6 210.7L930.6 210.3L931.6 210.5L932.6 209L932.8 210.4"/>
</g>
<g clip-path="url(#cb)" fill="none" stroke-width="3.0" stroke-linejoin="round">
<path stroke="#008000" d="M983.8 481.5L984.8 481.6L985.8 481.5L986.8 481.7L987.8 481.6L988.8 481.7L989.8 481.8L990.8 481.6L991.8 481.8L992.8 481.7L993.8 481.7L994.8 481.6L995.8 481.8L996.8 481.9L997.8 481.7L998.8 481.8L999.8 481.8L1000.8 481.6L1001.8 481.8L1002.8 482L1003.8 481.7L1004.8 481.5L1005.8 481.8L1006.8 481.7L1007.8 482.1L1008.8 481.8L1009.8 481.8L1010.8 481.8L1011.8 481.9L1012.8 481.8L1013.8 481.7L1014.8 481.9L1015.8 481.8L1016.8 482.1L1017.8 481.7L1018.8 481.8L1019.8 481.7L1020.8 481.5L1021.1 481.9L1021.2 481.4L1021.4 481.9L1021.6 481.4L1021.7 481.6L1021.8 481.9L1021.9 481.3L1022.1 481.3L1022.2 481.7L1022.4 481.5L1022.6 481.3L1022.7 481.3L1022.8 481.1L1022.9 481.3L1023.1 481.4L1023.2 481L1023.4 480.9L1023.6 480.9L1023.7 480.9L1023.8 480.4L1023.9 480.4L1024.1 480L1024.2 479.6L1024.4 479.2L1024.6 478.6L1024.7 477.5L1024.8 477L1024.9 476.1L1025.1 472.9L1025.2 466L1025.4 451.8L1025.6 429L1025.7 400.3L1025.8 391.2L1025.9 376.5L1026.1 372.8L1026.2 387.9L1026.4 404.1L1026.6 412.5L1026.7 415.6L1026.8 417.5L1026.9 423.8L1027.1 438.8L1027.2 453.9L1027.4 465.7L1027.6 472.8L1027.8 476.6L1027.8 476.8L1027.9 478.3L1028.1 479L1028.3 479.6L1028.4 480L1028.6 480.3L1028.8 480.5L1028.8 480.3L1028.9 480.9L1029.1 481L1029.3 480.9L1029.4 481.2L1029.6 481.6L1029.8 481.4L1029.8 481.4L1029.9 481.7L1030.1 481.4L1030.3 481.6L1030.4 481.6L1030.6 481.6L1030.8 481.8L1030.8 481.8L1030.9 481.7L1031.8 481.9L1032.8 482L1033.8 482L1034.8 482.1L1035.8 482.1L1036.8 482.1L1037.8 482.2L1038.8 482.1L1039.8 482.3L1040.8 482.3L1041.8 482.2L1042.8 482.2L1043.8 482.3L1044.8 482.3L1045.8 482.4L1046.8 482.4L1047.8 482.3L1048.8 482.6L1049.8 482.6L1050.8 482.5L1051.8 482.6L1052.8 482.5L1053.8 482.5L1054.8 482.5L1055.8 482.9L1056.8 482.7L1057.8 482.7L1058.8 482.5L1059.8 482.7L1060.8 482.9L1061.8 482.7L1062.8 482.8L1063.8 482.8L1064.8 482.8L1065.8 482.9L1066.8 482.7L1067.8 482.8L1068.8 482.6L1069.8 483.1L1070.8 482.8L1071.8 482.8L1072.8 483L1073.8 482.7L1074.8 482.8L1075.8 482.7L1076.8 482.9L1077.8 482.8L1078.8 483L1079.8 482.9L1080.8 482.8L1081.8 482.9L1082.8 482.9L1083.8 482.9L1084.8 483.1L1085.8 483.1L1086.8 483L1087.8 482.8L1088.8 483.1L1089.8 482.9L1090.8 483.1L1091.8 483.1L1092.8 483L1093.8 483L1094.8 483L1095.8 483.4L1096.8 483.1L1097.8 483.1L1098.8 483.3L1099.8 483.3L1100.8 483.4L1101.8 483L1102.8 483.1L1103.8 483.7L1104.8 483.3L1105.8 483.2L1106.8 483.3L1107.8 483.5L1108.8 483.2L1109.8 483.4L1110.8 483.3L1111.8 483.5L1112.8 483.4L1113.8 483.3L1114.8 483.3L1115.8 483.1L1116.8 483.6L1117.8 483.2L1118.8 483.4L1119.8 483.7L1120.8 483.4L1121.8 483.6L1122.8 483.5L1123.8 483.6L1124.8 483.5L1125.8 483.4L1126.8 483.7L1127.8 483.5L1128.8 483.3L1129.8 483.5L1130.8 483.6L1131.8 483.4L1132.8 483.6L1133.8 483.6L1134.1 483.8L1134.3 483.4L1134.4 483.5L1134.6 483.2L1134.8 483.4L1134.8 483.4L1134.9 483.5L1135.1 483.4L1135.3 483.4L1135.4 483.3L1135.6 483.3L1135.8 483.4L1135.8 483.4L1135.9 483.4L1136.1 483.4L1136.3 483.4L1136.4 482.9L1136.6 483.1L1136.8 483L1136.8 483L1136.9 483.1L1137.1 483L1137.3 482.7L1137.4 482.6L1137.6 482.6L1137.8 482L1137.8 481.9L1137.9 481.6L1138.1 480.4L1138.3 478L1138.4 472.8L1138.6 464.7L1138.8 454.2L1138.8 452.4L1138.9 445.8L1139.1 444.2L1139.3 449.9L1139.4 455.9L1139.6 458.7L1139.8 459.9L1139.8 460.4L1139.9 462.8L1140.1 468.2L1140.3 473.9L1140.4 477.8L1140.6 480.4L1140.8 481.6L1140.8 481.7L1140.9 482.2L1141.1 482.5L1141.3 482.9L1141.4 482.6L1141.6 482.9L1141.8 483.2L1141.8 483L1141.9 483.1L1142.1 483.1L1142.3 483.3L1142.4 483.4L1142.6 483.5L1142.8 483.4L1142.8 483.3L1142.9 483.4L1143.1 483.5L1143.3 483.6L1143.5 483.1L1143.6 483.5L1143.8 483.2L1143.8 483.6L1144 483.6L1144.8 483.6L1145.8 483.7L1146.8 483.7L1147.8 483.5L1148.8 483.7L1149.8 483.8L1150.8 483.7L1151.8 483.7L1152.8 483.5L1153.8 483.9L1154.8 483.6L1155.8 483.6L1156.8 483.7L1157.8 483.6L1158.8 483.7L1159.8 483.9L1160.8 483.9L1161.8 484L1162.8 484L1163.8 483.6L1164.8 483.8L1165.8 484L1166.8 484.1L1167.8 483.6L1168.8 483.6L1169.8 483.9L1170.8 483.8L1171.8 483.7L1172.8 483.9L1173.8 483.7L1174.8 483.5L1175.8 483.9L1176.8 483.9L1177.8 484L1178.8 484L1179.8 483.9L1180.8 483.9L1181.8 483.8L1182.8 483.7L1183.8 483.8L1184.8 484.1L1185.8 484L1186.8 484.2L1187.8 483.9L1188.8 483.7L1189.8 484.1L1190.8 484.1L1191.8 483.8L1192.8 483.7L1193.8 484L1194.8 484.1L1195.8 483.8L1196.8 483.9L1197.8 483.9L1198.8 483.8L1199.8 483.8L1200.8 484L1201.8 484L1202.8 483.9L1203.8 483.7L1204.8 484.3L1205.8 483.9L1206.8 484L1207.8 483.9L1208.8 484.1L1209.8 483.9L1210.8 484.1L1211.8 484.1L1212.8 484.2L1213.8 483.9L1214.8 484L1215.8 484.1L1216.8 484.4L1217.8 483.9L1218.8 484.2L1219.8 484L1220.8 484.2L1221.8 484.2L1222.8 484.2L1223.8 484.2L1224.8 484.2L1225.8 484.1L1226.8 484.1L1227.8 483.9L1228.8 484.1L1229.8 484.1L1230.8 484.2L1231.8 484.3L1232.8 484.3L1233.8 484.3L1234.8 484.4L1235.8 483.9L1236.8 484.3L1237.8 484.2L1238.8 484.2L1239.8 484.1L1240.8 484.3L1241.8 484.4L1242.8 484.4L1243.8 484.2L1244.8 484.4L1245.8 484.4L1246.8 484.5L1247.8 484.4L1248.8 484.3L1249.8 484.2L1250.8 484.2L1251.5 484.2L1251.7 484.1L1251.8 484.3L1251.8 484L1252 484L1252.2 484.2L1252.3 484L1252.5 484L1252.7 483.8L1252.8 484.1L1252.8 484L1253 484L1253.2 484L1253.3 484L1253.5 483.8L1253.7 484.1L1253.8 483.7L1253.8 483.9L1254 483.9L1254.2 483.5L1254.3 483.5L1254.5 483.2L1254.7 483.3L1254.8 482.9L1254.8 482.8L1255 482.8L1255.2 482.3L1255.3 481.2L1255.5 479.8L1255.7 476L1255.8 471.5L1255.8 469L1256 456.9L1256.2 442.2L1256.3 429.9L1256.5 428.1L1256.7 435.8L1256.8 442.2L1256.8 444.3L1257 448.3L1257.2 450.2L1257.3 454.6L1257.5 462.1L1257.7 469.8L1257.8 474.3L1257.9 475.9L1258 479.5L1258.2 481.1L1258.4 482.4L1258.5 482.7L1258.7 483.1L1258.8 482.9L1258.9 483.3L1259 483.6L1259.2 483.3L1259.4 483.9L1259.5 483.8L1259.7 483.7L1259.8 483.6L1259.9 484.1L1260 484L1260.2 484.1L1260.4 484L1260.5 483.9L1260.7 484.2L1260.8 484L1260.9 484.2L1261 483.9L1261.2 484L1261.4 484L1261.8 484.4L1262.8 484L1263.8 484.2L1264.8 484.4L1265.8 484.4L1266.8 484.7L1267.8 484.7L1268.8 484.5L1269.8 484.5L1270.8 484.2L1271.8 484.3L1272.8 484.4L1273.8 484.4L1274.8 484.3L1275.8 484.3L1276.8 484.4L1277.8 484.6L1278.8 484.6L1279.8 484.5L1280.8 484.5L1281.8 484.6L1282.8 484.4L1283.8 484.5L1284.8 484.3L1285.8 484.6L1286.8 484.7L1287.8 484.6L1288.8 484.6L1289.8 484.6L1290.8 484.9L1291.8 484.6L1292.8 484.4L1293.8 484.5L1294.8 484.7L1295.8 484.8L1296.8 484.7L1297.8 484.8L1298.8 484.7L1299.8 484.4L1300.8 484.6L1301.8 484.4L1302.8 484.6L1303.8 484.5L1304.8 484.7L1305.8 484.7L1306.8 484.4L1307.8 484.8L1308.8 484.8L1309.8 484.5L1310.8 484.7L1311.8 484.8L1312.8 484.7L1313.8 484.9L1314.8 484.8L1315.8 484.9L1316.8 484.8L1317.8 484.7L1318.8 484.8L1319.8 484.9L1320.8 484.8L1321.8 484.7L1322.8 484.7L1323.8 484.7L1324.8 484.7L1325.8 484.8L1326.8 484.8L1327.8 484.8L1328.8 484.8L1329.8 484.9L1330.8 485.1L1331.8 485L1332.8 484.8L1333.8 484.9L1334.8 484.8L1335.8 484.9L1336.8 484.8L1337.8 484.8L1338.8 484.7L1339.8 484.5L1340.8 484.9L1341.8 485.1L1342.8 484.8L1343.8 485L1344.8 484.9L1345.8 485L1346.8 484.8L1347.8 484.9L1348.8 484.9L1349.8 484.6L1350.8 485L1351.8 485L1352.8 484.6L1353.8 485.1L1354.8 485L1355.8 485L1356.8 485.1L1357.8 485L1358.8 484.9L1359.8 485L1360.8 485L1361.8 485.4L1362.8 485.3L1363.8 485L1364.8 485L1365.8 485.1L1366.8 485.2L1367.8 485L1368.8 484.9L1369.8 485.4L1370.8 485.3L1371.8 484.9L1372.8 484.9L1373.8 485L1374.8 485.1L1375.8 485.2L1376.8 485.1L1377.8 484.9L1378.1 485.2L1378.3 485.2L1378.4 485.1L1378.6 485L1378.8 485.2L1378.8 485.1L1378.9 485L1379.1 485.1L1379.3 484.9L1379.4 485.2L1379.6 485.2L1379.8 485L1379.8 485.1L1379.9 485.3L1380.1 484.8L1380.3 485.1L1380.4 485.3L1380.6 484.8L1380.8 485L1380.8 484.8L1380.9 485L1381.1 484.7L1381.3 484.7L1381.4 484.9L1381.6 484.9L1381.8 484.9L1381.8 484.9L1381.9 484.9L1382.1 484.6L1382.3 484L1382.4 482.7L1382.6 481L1382.8 479.2L1382.8 478.6L1382.9 477L1383.1 476.7L1383.3 477.9L1383.4 479L1383.6 480L1383.8 479.9L1383.8 480L1383.9 480.9L1384.1 481.5L1384.3 483L1384.4 483.6L1384.6 484.4L1384.8 484.7L1384.8 484.7L1384.9 484.9L1385.1 484.8L1385.3 485L1385.4 484.9L1385.6 485L1385.8 484.9L1385.8 485.2L1385.9 484.9L1386.1 485.2L1386.3 485.1L1386.4 485.1L1386.6 485.3L1386.8 485.2L1386.8 484.9L1386.9 485.2L1387.1 484.7L1387.3 485.2L1387.4 485.1L1387.6 485L1387.8 485.2L1387.8 485.1L1387.9 485.5L1388.8 485.1L1389.8 485.5L1390.8 485.4L1391.8 485.1L1392.8 485.1L1393.8 485.4L1394.8 485.2L1395.8 485.3L1396.8 485.2L1397.8 485.1L1398.8 485.2L1399.8 485.1L1400.8 485.1L1401.8 485.3L1402.8 485.6L1403.8 485.6L1404.8 485.3L1405.8 485.3L1406.8 485.4L1407.8 485.5L1408.8 485.4L1409.8 485.3L1410.8 485.3L1411.8 485.5L1412.8 485.8L1413.8 485.3L1414.8 485.1L1415.8 485.5L1416.8 485.4L1417.8 485.4L1418.8 485.6L1419.8 485.4L1420.8 485.2L1421.8 485.1L1422.8 485.4L1423.8 485.3L1424.8 485.5L1425.8 485.3L1426.8 485.4L1427.8 485.2L1428.8 485.4L1429.8 485.4L1430.8 485.6L1431.8 485.7L1432.8 485.5L1433.8 485.4L1434.8 485.8L1435.8 485.6L1436.8 485.6L1437.8 485.6L1438.8 485.8L1439.8 485.7L1440.8 485.7L1441.8 485.7L1442.8 485.4L1443.8 485.5L1444.8 485.6L1445.8 485.6L1446.8 485.6L1447.8 485.6L1448.8 485.6L1449.8 485.5L1450.8 485.4L1451.8 485.7L1452.8 485.7L1453.8 485.5L1454.8 485.7L1455.8 485.7L1456.8 485.7L1457.8 485.4L1458.8 485.5L1459.8 485.6L1460.8 485.9L1461.8 485.6L1462.8 485.6L1463.3 485.5"/>
<path stroke="#0000ff" d="M983.8 367.1L984.8 367.2L985.8 366.9L986.8 366.8L987.8 367.3L988.8 367.2L989.8 367.1L990.8 367.3L991.8 367.3L992.8 366.9L993.8 367.2L994.8 367.4L995.8 367.1L996.8 367.2L997.8 367.3L998.8 367.2L999.8 367L1000.8 367.1L1001.8 367L1002.8 367.3L1003.8 367L1004.8 367.4L1005.8 367L1006.8 367.2L1007.8 367L1008.8 367.2L1009.8 367.4L1010.8 367.4L1011.8 367.4L1012.8 367.2L1013.8 367.2L1014.8 367.2L1015.8 367.3L1016.8 367.1L1017.8 367.3L1018.8 367.1L1019.8 367.2L1020.8 367L1021 367L1021.2 366.8L1021.3 366.8L1021.5 366.6L1021.7 366.7L1021.8 366.7L1021.8 366.9L1022 366.5L1022.2 367.1L1022.3 366.6L1022.5 366.7L1022.7 366.6L1022.8 366L1022.8 366.3L1023 366.5L1023.2 365.8L1023.3 366.1L1023.5 365.7L1023.7 365.6L1023.8 365.5L1023.8 365.2L1024 365.2L1024.2 364.7L1024.3 364.2L1024.5 363.7L1024.7 363.2L1024.8 361.5L1024.8 361L1025 357.5L1025.2 349.9L1025.3 335.1L1025.5 311L1025.7 280.2L1025.8 260.2L1025.8 254.9L1026 251.5L1026.2 266.6L1026.3 284.5L1026.5 293.4L1026.7 296.9L1026.8 301.9L1026.8 305.1L1027 320.9L1027.2 337.3L1027.3 349.5L1027.5 357.1L1027.7 361.2L1027.8 362.7L1027.9 362.8L1028 363.8L1028.2 364.4L1028.4 365.3L1028.5 365.4L1028.7 365.6L1028.8 365.9L1028.9 366.1L1029 366.2L1029.2 365.9L1029.4 366.2L1029.5 366.3L1029.7 366.4L1029.8 366.3L1029.9 366.5L1030 366.4L1030.2 366.7L1030.4 366.7L1030.5 366.5L1030.7 366.5L1030.8 366.7L1030.9 366.9L1031.8 367L1032.8 367L1033.8 366.6L1034.8 367.1L1035.8 367.1L1036.8 367.1L1037.8 367L1038.8 367.2L1039.8 367.1L1040.8 367.7L1041.8 367.4L1042.8 367.2L1043.8 367.3L1044.8 367.2L1045.8 367.3L1046.8 367.2L1047.8 367.3L1048.8 367.4L1049.8 367.4L1050.8 367.3L1051.8 367.5L1052.8 367.3L1053.8 367.1L1054.8 367L1055.8 367.2L1056.8 367.3L1057.8 367.4L1058.8 367.5L1059.8 367.2L1060.8 367.2L1061.8 367.4L1062.8 367.5L1063.8 367.2L1064.8 367.4L1065.8 367.5L1066.8 367.4L1067.8 367.3L1068.8 367L1069.8 367.5L1070.8 367.4L1071.8 367.4L1072.8 367.3L1073.8 367.2L1074.8 367.3L1075.8 367.3L1076.8 367.5L1077.8 367.2L1078.8 367.6L1079.8 367.4L1080.8 367.5L1081.8 367.2L1082.8 367.4L1083.8 367.5L1084.8 367.4L1085.8 367.1L1086.8 367.3L1087.8 367.4L1088.8 367.2L1089.8 367.2L1090.8 367.4L1091.8 367.2L1092.8 367.5L1093.8 367.2L1094.8 367.1L1095.8 367.3L1096.8 367.6L1097.8 367.3L1098.8 367.4L1099.8 367.4L1100.8 367.2L1101.8 367.6L1102.8 367.4L1103.8 367.5L1104.8 367.1L1105.8 367.1L1106.8 367L1107.8 367.4L1108.8 367.4L1109.8 367.5L1110.8 367.6L1111.8 367.4L1112.8 367.4L1113.8 367.5L1114.8 367.6L1115.8 367.3L1116.8 367.5L1117.8 367.4L1118.8 367.4L1119.8 367.5L1120.8 367.3L1121.8 367.3L1122.8 367.5L1123.8 367.4L1124.8 367.4L1125.8 367.4L1126.8 367.5L1127.8 367.4L1128.8 367.5L1129.8 367.5L1130.8 367.6L1131.8 367.6L1132.8 367.5L1133.5 367.4L1133.6 367.4L1133.8 367.3L1133.8 367.8L1134 367.4L1134.1 367.5L1134.3 367.6L1134.5 367.2L1134.6 367.3L1134.8 367.3L1134.8 367.2L1135 367.2L1135.1 367.3L1135.3 367.5L1135.5 367.5L1135.6 367.3L1135.8 367.3L1135.8 367.1L1136 367.4L1136.1 367.3L1136.3 367.1L1136.5 367.3L1136.6 367.2L1136.8 367.1L1136.8 367L1137 367L1137.2 366.8L1137.3 366.9L1137.5 366.5L1137.7 365.7L1137.8 364.3L1137.8 364L1138 361.8L1138.2 358L1138.3 355.8L1138.5 355.3L1138.7 356.9L1138.8 358.5L1138.8 358.7L1139 359.5L1139.2 359.8L1139.3 360.9L1139.5 362.3L1139.7 364.4L1139.8 365.6L1139.8 365.1L1140 366.2L1140.2 366.8L1140.3 367L1140.5 367.1L1140.7 367.2L1140.8 367.3L1140.8 367.3L1141 367.5L1141.2 367.3L1141.3 367.4L1141.5 367.1L1141.7 367.3L1141.8 367.2L1141.8 367.6L1142 367.7L1142.2 367.5L1142.3 367.2L1142.5 367.4L1142.7 367.4L1142.8 367.4L1142.8 367.6L1143 367.5L1143.2 367L1143.3 367.6L1143.8 367.3L1144.8 367.4L1145.8 367.7L1146.8 367.4L1147.8 367.3L1148.8 367.3L1149.8 367.5L1150.8 367.6L1151.8 367.7L1152.8 367.4L1153.8 367.4L1154.8 367.7L1155.8 367.4L1156.8 367.7L1157.8 367.5L1158.8 367.5L1159.8 367.5L1160.8 367.5L1161.8 367.4L1162.8 367.4L1163.8 367.5L1164.8 367.4L1165.8 367.5L1166.8 367.5L1167.8 367.5L1168.8 367.5L1169.8 367.5L1170.8 367.8L1171.8 367.5L1172.8 367.4L1173.8 367.5L1174.8 367.6L1175.8 367.5L1176.8 367.5L1177.8 367.5L1178.8 367.5L1179.8 367.6L1180.8 367.6L1181.8 367.3L1182.8 367.4L1183.8 367.1L1184.8 367.7L1185.8 367.7L1186.8 367.7L1187.8 367.6L1188.8 367.7L1189.8 367.5L1190.8 367.5L1191.8 367.3L1192.8 367.4L1193.8 367.5L1194.8 367.7L1195.8 367.8L1196.8 367.5L1197.8 367.6L1198.8 367.6L1199.8 367.4L1200.8 367.3L1201.8 367.4L1202.8 367.3L1203.8 367.5L1204.8 367.5L1205.8 367.5L1206.8 367.5L1207.8 367.6L1208.8 367.4L1209.8 367.7L1210.8 367.3L1211.8 367.6L1212.8 367.6L1213.8 367.5L1214.8 367.3L1215.8 367.7L1216.8 367.5L1217.8 367.7L1218.8 367.7L1219.8 367.6L1220.8 367.6L1221.8 367.7L1222.8 367.6L1223.8 367.5L1224.8 367.6L1225.8 367.7L1226.8 367.6L1227.8 367.6L1228.8 367.6L1229.8 367.6L1230.8 367.5L1231.8 367.4L1232.8 367.8L1233.8 367.5L1234.8 367.6L1235.8 367.4L1236.8 367.6L1237.8 367.5L1238.8 368.1L1239.8 367.5L1240.8 367.5L1241.8 367.7L1242.8 367.8L1243.8 367.3L1244.8 367.6L1245.8 367.7L1246.8 367.4L1247.8 367.7L1248.8 367.5L1249.8 367.4L1250.7 367.4L1250.8 367.4L1250.9 367.3L1251.1 367.8L1251.2 367.4L1251.4 367.3L1251.6 367.6L1251.7 367.4L1251.8 367.6L1251.9 367.4L1252.1 367.4L1252.2 367.4L1252.4 367.3L1252.6 367.3L1252.8 367.2L1252.8 367.5L1252.9 367.1L1253.1 367.1L1253.3 367L1253.4 367.1L1253.6 367L1253.8 366.9L1253.8 366.5L1253.9 366.7L1254.1 366.4L1254.3 366.1L1254.4 365.8L1254.6 364.8L1254.8 363.7L1254.8 363.1L1254.9 360.4L1255.1 354.6L1255.3 344.9L1255.4 332.2L1255.6 322.1L1255.8 320.4L1255.8 321.4L1255.9 326.7L1256.1 333.9L1256.3 337.8L1256.4 339.1L1256.6 342.4L1256.8 349L1256.8 350.3L1256.9 355.4L1257.1 360.6L1257.3 363.4L1257.4 364.9L1257.6 366.1L1257.8 366L1257.8 366.4L1257.9 366.3L1258.1 366.7L1258.3 366.8L1258.4 366.9L1258.6 366.7L1258.8 367.1L1258.8 367.1L1258.9 367.1L1259.1 367.2L1259.3 367.4L1259.4 367.2L1259.6 367.4L1259.8 367.2L1259.8 367.4L1259.9 367.5L1260.1 367.8L1260.3 367.6L1260.4 367.5L1260.6 367.7L1260.8 367.3L1261.8 367.7L1262.8 367.5L1263.8 367.5L1264.8 367.8L1265.8 367.7L1266.8 367.8L1267.8 367.4L1268.8 367.7L1269.8 367.6L1270.8 367.6L1271.8 367.4L1272.8 367.8L1273.8 367.7L1274.8 367.5L1275.8 367.5L1276.8 367.5L1277.8 367.9L1278.8 367.7L1279.8 367.6L1280.8 367.8L1281.8 367.7L1282.8 367.7L1283.8 367.8L1284.8 367.7L1285.8 367.8L1286.8 367.5L1287.8 367.7L1288.8 367.7L1289.8 367.7L1290.8 367.7L1291.8 367.6L1292.8 367.7L1293.8 367.9L1294.8 367.6L1295.8 367.5L1296.8 367.8L1297.8 367.9L1298.8 367.7L1299.8 367.7L1300.8 367.6L1301.8 367.7L1302.8 367.9L1303.8 367.8L1304.8 367.8L1305.8 367.7L1306.8 367.5L1307.8 367.8L1308.8 367.8L1309.8 367.9L1310.8 368L1311.8 367.8L1312.8 367.9L1313.8 367.6L1314.8 367.9L1315.8 367.9L1316.8 368L1317.8 367.9L1318.8 367.8L1319.8 368L1320.8 367.7L1321.8 367.9L1322.8 367.9L1323.8 367.7L1324.8 367.6L1325.8 367.8L1326.8 367.8L1327.8 367.9L1328.8 367.9L1329.8 367.7L1330.8 367.8L1331.8 367.9L1332.8 367.7L1333.8 367.7L1334.8 367.6L1335.8 367.9L1336.8 368.1L1337.8 367.6L1338.8 367.9L1339.8 367.9L1340.8 367.7L1341.8 367.7L1342.8 367.6L1343.8 367.7L1344.8 367.8L1345.8 367.9L1346.8 367.8L1347.8 367.9L1348.8 367.8L1349.8 367.6L1350.8 368L1351.8 368L1352.8 367.7L1353.8 368.1L1354.8 367.9L1355.8 367.8L1356.8 368.1L1357.8 367.5L1358.8 367.6L1359.8 367.9L1360.8 367.8L1361.8 367.7L1362.8 368L1363.8 367.9L1364.8 367.6L1365.8 367.7L1366.8 368L1367.8 368.1L1368.8 367.5L1369.8 367.9L1370.8 367.8L1371.8 367.6L1372.8 367.8L1373.8 367.6L1374.8 367.7L1375.8 368L1376.8 367.8L1376.8 367.9L1377 367.8L1377.1 367.8L1377.3 367.9L1377.5 367.6L1377.6 367.7L1377.8 367.8L1377.8 367.6L1378 367.6L1378.1 367.9L1378.3 367.9L1378.5 367.6L1378.6 367.5L1378.8 367.7L1378.8 367.6L1379 367.5L1379.1 367.6L1379.3 367.6L1379.5 367.4L1379.6 367.8L1379.8 367.5L1379.8 367.4L1380 367.3L1380.1 367.5L1380.3 367L1380.5 366.5L1380.6 366.2L1380.8 365.2L1380.8 365.1L1381 363.2L1381.1 359.2L1381.3 352.6L1381.5 344.2L1381.6 337.6L1381.8 336.2L1381.8 336.6L1382 340.7L1382.1 345.5L1382.3 347.5L1382.5 349.1L1382.6 350.9L1382.8 355.1L1382.8 355.4L1383 359.7L1383.1 363.1L1383.3 364.8L1383.5 366.1L1383.6 366.7L1383.8 367.1L1383.8 366.9L1384 367.2L1384.1 367.3L1384.3 367.2L1384.5 367.3L1384.6 367.8L1384.8 367.4L1384.8 367.7L1385 367.6L1385.1 367.8L1385.3 367.5L1385.5 367.7L1385.6 367.7L1385.8 367.7L1385.8 367.7L1386 367.6L1386.1 367.7L1386.3 367.7L1386.5 367.9L1386.6 367.7L1386.8 367.6L1387.8 367.7L1388.8 367.8L1389.8 367.7L1390.8 368L1391.8 367.9L1392.8 368L1393.8 367.8L1394.8 367.8L1395.8 368L1396.8 367.7L1397.8 367.9L1398.8 367.9L1399.8 367.8L1400.8 367.9L1401.8 367.7L1402.8 367.9L1403.8 367.7L1404.8 367.7L1405.8 368.1L1406.8 367.8L1407.8 367.6L1408.8 368.1L1409.8 367.8L1410.8 367.4L1411.8 367.9L1412.8 368.1L1413.8 368L1414.8 368.2L1415.8 367.9L1416.8 368L1417.8 367.8L1418.8 368L1419.8 368.2L1420.8 368L1421.8 368L1422.8 367.6L1423.8 367.9L1424.8 367.8L1425.8 368.1L1426.8 367.8L1427.8 368L1428.8 367.8L1429.8 368.2L1430.8 367.8L1431.8 368L1432.8 368.3L1433.8 368L1434.8 367.8L1435.8 368.1L1436.8 368.1L1437.8 368.1L1438.8 367.7L1439.8 368L1440.8 367.7L1441.8 368.3L1442.8 368L1443.8 367.9L1444.8 368.1L1445.8 368L1446.8 367.8L1447.8 368.2L1448.8 367.9L1449.8 367.7L1450.8 368.2L1451.8 368.2L1452.8 368.2L1453.8 368.1L1454.8 367.9L1455.8 368.1L1456.8 368.3L1457.8 368.1L1458.8 368.2L1459.8 367.9L1460.8 368.2L1461.8 368.1L1462.8 367.8L1463.3 367.8"/>
<path stroke="#ff0000" d="M983.8 243.9L984.8 244L985.8 244.1L986.8 244L987.8 244L988.8 244L989.8 244L990.8 244.1L991.8 244.1L992.8 244L993.8 244L994.8 243.9L995.8 244.1L996.8 243.9L997.8 244.3L998.8 244L999.8 244.1L1000.8 243.9L1001.8 244L1002.8 244L1003.8 244L1004.8 243.9L1005.8 243.8L1006.8 244L1007.8 244L1008.8 244.1L1009.8 244.2L1010.8 243.9L1011.8 243.7L1012.8 244L1013.8 243.7L1014.8 243.8L1015.8 244.1L1016.8 244L1017.8 243.8L1018.8 243.7L1019.8 243.7L1020.2 243.4L1020.4 243.7L1020.6 243.6L1020.7 243.9L1020.8 243.4L1020.9 243.7L1021.1 243.4L1021.2 243.6L1021.4 243.3L1021.6 243.5L1021.7 243.3L1021.8 243.2L1021.9 243.2L1022.1 243.2L1022.2 243.1L1022.4 243.2L1022.6 243L1022.7 242.3L1022.8 242.6L1022.9 242.2L1023.1 242.2L1023.3 242L1023.4 241.4L1023.6 240.9L1023.8 240.4L1023.8 240.1L1023.9 239.7L1024.1 237.8L1024.3 234.4L1024.4 227.1L1024.6 212L1024.8 187.9L1024.8 180L1024.9 157.5L1025.1 132.5L1025.3 128.7L1025.4 144.2L1025.6 161.5L1025.8 170.4L1025.8 171.2L1025.9 174L1026.1 182.6L1026.3 197.6L1026.4 213.9L1026.6 226.8L1026.8 233.8L1026.8 235.2L1026.9 237.7L1027.1 239.9L1027.3 240.8L1027.4 241.4L1027.6 241.9L1027.8 242.1L1027.8 242.3L1027.9 242.7L1028.1 242.8L1028.3 242.7L1028.4 242.8L1028.6 243L1028.8 243.1L1028.8 243.2L1028.9 243.1L1029.1 243.4L1029.3 243.4L1029.4 243.5L1029.6 243.5L1029.8 243.6L1029.8 243.4L1029.9 243.8L1030.1 243.7L1030.8 243.8L1031.8 243.9L1032.8 244.1L1033.8 244L1034.8 244L1035.8 244L1036.8 243.8L1037.8 244L1038.8 244L1039.8 244L1040.8 244.4L1041.8 243.8L1042.8 244.1L1043.8 244.2L1044.8 244.2L1045.8 244.3L1046.8 243.9L1047.8 243.9L1048.8 244.2L1049.8 244L1050.8 244.3L1051.8 244.1L1052.8 244.1L1053.8 244.2L1054.8 244L1055.8 244.1L1056.8 244L1057.8 244.1L1058.8 244L1059.8 244.1L1060.8 243.9L1061.8 243.9L1062.8 244.2L1063.8 244.1L1064.8 244L1065.8 244.1L1066.8 244L1067.8 244.4L1068.8 243.9L1069.8 244.4L1070.8 244L1071.8 244.2L1072.8 244.1L1073.8 244.1L1074.8 244.3L1075.8 244.2L1076.8 244.1L1077.8 244L1078.8 244.4L1079.8 244.3L1080.8 244.2L1081.8 244.1L1082.8 244.2L1083.8 244.1L1084.8 244.3L1085.8 244L1086.8 244.1L1087.8 244L1088.8 244.3L1089.8 244.4L1090.8 244.1L1091.8 244.2L1092.8 244.4L1093.8 244.1L1094.8 244L1095.8 244.3L1096.8 244.2L1097.8 244.1L1098.8 244.4L1099.8 244.2L1100.8 243.9L1101.8 244.2L1102.8 244.2L1103.8 244.4L1104.8 244.2L1105.8 244.1L1106.8 244.2L1107.8 244.2L1108.8 244L1109.8 244.2L1110.8 244.1L1111.8 244.4L1112.8 244.5L1113.8 244L1114.8 244L1115.8 244L1116.8 244.1L1117.8 244.1L1118.8 244.2L1119.8 244.3L1120.8 244L1121.8 243.9L1122.8 243.9L1123.8 244.3L1124.8 244.4L1125.8 243.9L1126.8 243.9L1127.8 244.2L1128.8 244.3L1129.8 244.3L1130.8 244.2L1131.8 244.3L1132.8 244.2L1133.1 244.1L1133.2 244.4L1133.4 244.1L1133.6 244L1133.7 244L1133.8 243.9L1133.9 244.1L1134.1 244.3L1134.2 243.9L1134.4 244.3L1134.6 244.4L1134.7 244.1L1134.8 243.9L1134.9 243.9L1135.1 244L1135.2 243.8L1135.4 243.8L1135.6 243.9L1135.7 243.9L1135.8 244L1135.9 243.7L1136.1 244.1L1136.2 243.9L1136.4 243.8L1136.6 243.5L1136.7 243.7L1136.8 243.3L1136.9 243.4L1137.1 242.7L1137.2 241.1L1137.4 238.6L1137.6 234.7L1137.7 229.2L1137.8 227.3L1137.9 224.7L1138.1 224.1L1138.2 226.7L1138.4 229.8L1138.6 231.3L1138.7 231.9L1138.8 232.4L1138.9 233.3L1139.1 236.3L1139.2 239L1139.4 241.3L1139.6 242.6L1139.7 243.3L1139.8 243.3L1139.9 243.6L1140.1 243.6L1140.3 243.8L1140.4 243.7L1140.6 243.8L1140.8 244L1140.8 243.9L1140.9 244L1141.1 243.8L1141.3 244.2L1141.4 243.9L1141.6 244.1L1141.8 244.1L1141.8 244.2L1141.9 244L1142.1 243.9L1142.3 243.8L1142.4 244.1L1142.6 243.9L1142.8 244.2L1142.8 244.3L1142.9 243.8L1143.8 244L1144.8 244.2L1145.8 244.4L1146.8 244.2L1147.8 244.2L1148.8 244.3L1149.8 244.3L1150.8 244.5L1151.8 244.3L1152.8 244L1153.8 244.1L1154.8 244.3L1155.8 244.1L1156.8 244.2L1157.8 244.1L1158.8 244.1L1159.8 244.3L1160.8 244.2L1161.8 244.1L1162.8 244.1L1163.8 244.2L1164.8 244.6L1165.8 244.3L1166.8 244.5L1167.8 244.3L1168.8 243.9L1169.8 244.3L1170.8 244.1L1171.8 244L1172.8 244.1L1173.8 244.5L1174.8 244L1175.8 244.2L1176.8 244.4L1177.8 244.4L1178.8 244L1179.8 244.2L1180.8 244.2L1181.8 244.2L1182.8 244.4L1183.8 244.2L1184.8 244.2L1185.8 244.5L1186.8 244L1187.8 244.2L1188.8 244.3L1189.8 244.1L1190.8 244.2L1191.8 244.1L1192.8 244.3L1193.8 244.2L1194.8 244.4L1195.8 244.4L1196.8 244.3L1197.8 244.2L1198.8 244.3L1199.8 244.3L1200.8 244.1L1201.8 244.4L1202.8 244.3L1203.8 244.4L1204.8 244.1L1205.8 244.4L1206.8 244.6L1207.8 244.4L1208.8 244.1L1209.8 244.3L1210.8 244.3L1211.8 244.3L1212.8 244.3L1213.8 244.4L1214.8 244.2L1215.8 244.3L1216.8 244.2L1217.8 244.3L1218.8 244.5L1219.8 244.2L1220.8 244.4L1221.8 244.2L1222.8 244.2L1223.8 244.3L1224.8 244.5L1225.8 244.2L1226.8 244.5L1227.8 244.1L1228.8 244.3L1229.8 244.4L1230.8 244.4L1231.8 244.2L1232.8 244.1L1233.8 244.4L1234.8 244.1L1235.8 244.4L1236.8 244.2L1237.8 244.3L1238.8 244.6L1239.8 244.5L1240.8 244.4L1241.8 244.1L1242.8 244.3L1243.8 244.3L1244.8 244.2L1245.8 244.4L1246.8 244L1247.8 244.2L1248.8 244.1L1249.8 243.9L1249.8 244.3L1250 243.8L1250.1 244L1250.3 244L1250.5 243.6L1250.6 243.7L1250.8 243.7L1250.8 244L1251 243.9L1251.1 243.8L1251.3 243.7L1251.5 243.3L1251.6 243.6L1251.8 243.4L1251.8 243.7L1252 243.6L1252.1 243.6L1252.3 243.2L1252.5 243.1L1252.6 242.6L1252.8 242.5L1252.8 242.3L1253 242.3L1253.1 241.5L1253.3 241.1L1253.5 240.2L1253.6 238.7L1253.8 235.8L1253.8 235.6L1254 229.2L1254.1 215.9L1254.3 194.9L1254.5 167.6L1254.6 145.7L1254.8 142.4L1254.8 141.8L1255 155.9L1255.1 171.4L1255.3 179.4L1255.5 182.3L1255.6 189.9L1255.8 203.1L1255.8 203.7L1256 217.8L1256.1 229L1256.3 235.1L1256.5 238.6L1256.6 240.8L1256.8 241.4L1256.8 241.3L1257 242.3L1257.1 242.5L1257.3 242.8L1257.5 242.8L1257.6 243.2L1257.8 243.3L1257.8 243L1258 243.4L1258.1 243.4L1258.3 243.7L1258.5 243.8L1258.6 243.6L1258.8 243.6L1258.8 243.8L1259 243.9L1259.1 243.8L1259.3 243.9L1259.5 244L1259.6 244L1259.8 244.2L1260.8 244.1L1261.8 244L1262.8 243.9L1263.8 244.4L1264.8 244.2L1265.8 244.2L1266.8 244.3L1267.8 244.1L1268.8 244.3L1269.8 243.9L1270.8 244.3L1271.8 244.2L1272.8 244.6L1273.8 244.4L1274.8 244.3L1275.8 244.4L1276.8 244.5L1277.8 244.2L1278.8 244.3L1279.8 244.3L1280.8 244.7L1281.8 244.4L1282.8 244.1L1283.8 244.5L1284.8 244.8L1285.8 244.2L1286.8 244.9L1287.8 244.4L1288.8 244.5L1289.8 244.3L1290.8 244.3L1291.8 244.2L1292.8 244.2L1293.8 244.1L1294.8 244.6L1295.8 244.2L1296.8 244.5L1297.8 244.4L1298.8 244.3L1299.8 244.4L1300.8 244.4L1301.8 244.3L1302.8 244.4L1303.8 244.4L1304.8 244.2L1305.8 244.2L1306.8 244.3L1307.8 244.4L1308.8 244.6L1309.8 244.6L1310.8 244.5L1311.8 244.6L1312.8 244.4L1313.8 244.6L1314.8 244.4L1315.8 244.5L1316.8 244.4L1317.8 244.4L1318.8 244.7L1319.8 244.2L1320.8 244.4L1321.8 244.3L1322.8 244.6L1323.8 244.7L1324.8 244.4L1325.8 244L1326.8 244.5L1327.8 244.5L1328.8 244.2L1329.8 244.4L1330.8 244.4L1331.8 244.1L1332.8 244.5L1333.8 244.5L1334.8 244.5L1335.8 244.3L1336.8 244.3L1337.8 244.3L1338.8 244.5L1339.8 244.3L1340.8 244.7L1341.8 244.5L1342.8 244.1L1343.8 244.7L1344.8 244.5L1345.8 244.4L1346.8 244.5L1347.8 244.2L1348.8 244.5L1349.8 244.1L1350.8 244.3L1351.8 244.7L1352.8 244.7L1353.8 244.4L1354.8 244.3L1355.8 244.6L1356.8 244.5L1357.8 244.5L1358.8 244.6L1359.8 244.3L1360.8 244.6L1361.8 244.1L1362.8 244.7L1363.8 244.2L1364.8 244.4L1365.8 244.3L1366.8 244.6L1367.8 244.6L1368.8 244.5L1369.8 244.5L1370.8 244.5L1371.8 244.4L1372.8 244.1L1373.8 244L1374.8 243.9L1375.7 244.2L1375.8 244.1L1375.9 244.1L1376 244.2L1376.2 244.1L1376.4 243.9L1376.5 243.8L1376.7 243.7L1376.8 244.2L1376.9 244.1L1377 243.7L1377.2 243.8L1377.4 243.9L1377.5 244L1377.7 243.5L1377.8 243.6L1377.9 243.7L1378 243.1L1378.2 243.2L1378.4 243.1L1378.5 242.8L1378.7 243L1378.8 242.6L1378.9 242.3L1379 241.7L1379.2 241.4L1379.4 240.6L1379.5 238.9L1379.7 235.9L1379.8 232.5L1379.9 229.4L1380 216.6L1380.2 195.4L1380.4 168.6L1380.5 146.6L1380.7 143L1380.8 149.8L1380.9 157.1L1381 172.2L1381.2 179.8L1381.4 183.1L1381.5 190.6L1381.7 204.2L1381.8 212.3L1381.9 218.3L1382 229.2L1382.2 236L1382.4 239.1L1382.5 240.6L1382.7 241.6L1382.8 241.7L1382.9 242.2L1383 242.5L1383.2 242.9L1383.4 243L1383.5 243.4L1383.7 243.7L1383.8 243.4L1383.9 243.4L1384 243.7L1384.2 243.7L1384.4 243.8L1384.5 243.8L1384.7 244L1384.8 243.9L1384.9 243.6L1385.1 244L1385.2 244.1L1385.4 244.3L1385.6 244L1385.8 244L1386.8 244.4L1387.8 244.2L1388.8 244.4L1389.8 244.5L1390.8 244.5L1391.8 244.4L1392.8 244.3L1393.8 244.6L1394.8 244.4L1395.8 244.4L1396.8 244.8L1397.8 244.6L1398.8 244.3L1399.8 244.4L1400.8 244.5L1401.8 244.4L1402.8 244.2L1403.8 244.6L1404.8 244.6L1405.8 244.6L1406.8 244.5L1407.8 244.6L1408.8 244.6L1409.8 244.4L1410.8 244.5L1411.8 244.4L1412.8 244.6L1413.8 244.6L1414.8 244.3L1415.8 244.4L1416.8 244.8L1417.8 244.4L1418.8 244.6L1419.8 244.4L1420.8 244.7L1421.8 244.5L1422.8 244.5L1423.8 244.4L1424.8 244.5L1425.8 244.7L1426.8 244.7L1427.8 244.3L1428.8 244.8L1429.8 244.5L1430.8 244.4L1431.8 244.6L1432.8 244.5L1433.8 244.5L1434.8 244.5L1435.8 244.6L1436.8 244.5L1437.8 244.3L1438.8 244.6L1439.8 244.5L1440.8 244.8L1441.8 244.7L1442.8 244.7L1443.8 244.6L1444.8 244.8L1445.8 244.5L1446.8 244.4L1447.8 244.6L1448.8 244.2L1449.8 244.5L1450.8 244.6L1451.8 244.5L1452.8 244.8L1453.8 244.7L1454.8 244.6L1455.8 244.5L1456.8 244.8L1457.8 244.5L1458.8 244.5L1459.8 244.7L1460.8 244.7L1461.8 244.9L1462.8 244.6L1463.3 244.3"/>
<path stroke="#000" d="M983.8 121.4L984.8 121.5L985.8 121.3L986.8 121.6L987.8 121.6L988.8 121.2L989.8 121.3L990.8 121.1L991.8 121.4L992.8 121.5L993.8 121.5L994.8 121.2L995.8 121.3L996.8 121.2L997.8 121.1L998.8 121.2L999.8 121.2L1000.8 121.4L1001.8 121.5L1002.8 121.5L1003.8 121.4L1004.8 121.3L1005.8 121.4L1006.8 121.5L1007.8 121.4L1008.8 121.5L1009.8 121.4L1010.8 121.4L1011.8 121.5L1012.8 121.3L1013.8 121.6L1014.8 121.2L1015.8 121.5L1016.8 121.2L1017.8 121.6L1018.8 121.5L1019.8 121.1L1020.2 121.1L1020.4 121L1020.6 121.1L1020.7 121.2L1020.8 121.5L1020.9 120.8L1021.1 121.2L1021.2 120.9L1021.4 121L1021.6 121L1021.7 120.9L1021.8 120.8L1021.9 120.7L1022.1 120.6L1022.2 120.6L1022.4 120.6L1022.6 120L1022.7 120L1022.8 119.8L1022.9 119.7L1023.1 119.5L1023.3 119.5L1023.4 119.2L1023.6 118.6L1023.8 117.5L1023.8 117.5L1023.9 116.5L1024.1 114.9L1024.3 111.4L1024.4 103.2L1024.6 87.4L1024.8 61.3L1024.8 52.7L1024.9 28.3L1025.1 1.7L1025.3 -2.3L1025.4 14.6L1025.6 33.1L1025.8 42.6L1025.8 43.7L1025.9 46.6L1026.1 55.4L1026.3 72L1026.4 89.8L1026.6 102.9L1026.8 110.9L1026.8 111.9L1026.9 115L1027.1 116.7L1027.3 117.7L1027.4 118.7L1027.6 119.1L1027.8 119.6L1027.8 119.8L1027.9 119.8L1028.1 120.3L1028.3 120.2L1028.4 120.5L1028.6 120.3L1028.8 120.7L1028.8 120.6L1028.9 120.7L1029.1 120.9L1029.3 120.6L1029.4 121L1029.6 120.9L1029.8 121.1L1029.8 121.1L1029.9 121L1030.1 121.1L1030.8 121.1L1031.8 121.5L1032.8 121.4L1033.8 121.6L1034.8 121.3L1035.8 121.8L1036.8 121.4L1037.8 121.8L1038.8 121.6L1039.8 121.7L1040.8 121.6L1041.8 121.8L1042.8 121.7L1043.8 121.9L1044.8 121.8L1045.8 121.8L1046.8 122L1047.8 121.6L1048.8 122L1049.8 121.8L1050.8 121.5L1051.8 121.9L1052.8 121.8L1053.8 122.1L1054.8 121.7L1055.8 121.8L1056.8 121.9L1057.8 121.5L1058.8 121.9L1059.8 121.7L1060.8 122.1L1061.8 122.1L1062.8 121.9L1063.8 121.6L1064.8 121.9L1065.8 121.9L1066.8 122L1067.8 121.9L1068.8 121.7L1069.8 121.9L1070.8 121.8L1071.8 122.2L1072.8 121.8L1073.8 121.9L1074.8 122L1075.8 121.8L1076.8 121.9L1077.8 122L1078.8 121.9L1079.8 122L1080.8 122.2L1081.8 122.1L1082.8 121.8L1083.8 122L1084.8 122.1L1085.8 121.9L1086.8 122.1L1087.8 122.1L1088.8 122.1L1089.8 122L1090.8 122.1L1091.8 122L1092.8 122.1L1093.8 122L1094.8 122.4L1095.8 122.1L1096.8 122.1L1097.8 122.3L1098.8 122.1L1099.8 122.2L1100.8 122.1L1101.8 122L1102.8 122L1103.8 122.1L1104.8 122.4L1105.8 122.1L1106.8 122.1L1107.8 122.1L1108.8 122.3L1109.8 122.5L1110.8 122.1L1111.8 122.3L1112.8 122.3L1113.8 122.2L1114.8 122.3L1115.8 122.1L1116.8 122.4L1117.8 122.3L1118.8 122.1L1119.8 122.5L1120.8 122.4L1121.8 122.5L1122.8 122.1L1123.8 122.3L1124.8 122.2L1125.8 122.4L1126.8 122.5L1127.8 122L1128.8 122.3L1129.8 122.3L1130.8 122.5L1131.8 122.3L1132.8 122.1L1133.1 122.3L1133.2 122.2L1133.4 122.2L1133.6 122.3L1133.7 122.2L1133.8 122.4L1133.9 122.1L1134.1 122.7L1134.2 122.5L1134.4 122.4L1134.6 122.1L1134.7 122L1134.8 122.2L1134.9 122.3L1135.1 122.6L1135.2 122.5L1135.4 122.2L1135.6 122.4L1135.7 122.4L1135.8 122.2L1135.9 122.4L1136.1 122.3L1136.2 122.1L1136.4 122L1136.6 122.1L1136.7 122.2L1136.8 121.8L1136.9 121.7L1137.1 121.8L1137.2 120.8L1137.4 120.5L1137.6 118.5L1137.7 116.6L1137.8 116.1L1137.9 114.5L1138.1 114.3L1138.2 115.9L1138.4 116.7L1138.6 117.3L1138.7 117.6L1138.8 117.9L1138.9 118.4L1139.1 119.2L1139.2 120.3L1139.4 121.2L1139.6 121.7L1139.7 122.1L1139.8 122L1139.9 122.4L1140.1 122L1140.3 122.3L1140.4 122.5L1140.6 122.4L1140.8 122.3L1140.8 122.1L1140.9 122.2L1141.1 122.3L1141.3 122.3L1141.4 122.3L1141.6 122.1L1141.8 122.2L1141.8 122.4L1141.9 122.4L1142.1 122.1L1142.3 122.3L1142.4 122.1L1142.6 122.3L1142.8 122.9L1142.8 122.4L1142.9 122.3L1143.8 122.3L1144.8 122.2L1145.8 122.1L1146.8 122.4L1147.8 122.3L1148.8 122.6L1149.8 122.1L1150.8 122.5L1151.8 122.6L1152.8 122.1L1153.8 122.5L1154.8 122.2L1155.8 122.5L1156.8 122.6L1157.8 122.4L1158.8 122.5L1159.8 122.3L1160.8 122.5L1161.8 122.6L1162.8 122.4L1163.8 122.4L1164.8 122.5L1165.8 122.6L1166.8 122.2L1167.8 122.5L1168.8 122.4L1169.8 122.5L1170.8 122.6L1171.8 122.5L1172.8 122.7L1173.8 122.3L1174.8 122.4L1175.8 122.3L1176.8 122.5L1177.8 122.5L1178.8 122.5L1179.8 122.3L1180.8 122.5L1181.8 122.4L1182.8 122.6L1183.8 122.5L1184.8 122.7L1185.8 122.6L1186.8 122.2L1187.8 122.5L1188.8 122.3L1189.8 122.7L1190.8 122.8L1191.8 122.5L1192.8 122.6L1193.8 122.3L1194.8 122.2L1195.8 122.5L1196.8 122.5L1197.8 122.3L1198.8 122.6L1199.8 122.6L1200.8 122.7L1201.8 122.8L1202.8 122.7L1203.8 122.5L1204.8 122.6L1205.8 122.7L1206.8 122.4L1207.8 122.8L1208.8 122.7L1209.8 122.6L1210.8 122.5L1211.8 123.2L1212.8 122.7L1213.8 122.8L1214.8 122.9L1215.8 122.8L1216.8 122.7L1217.8 122.7L1218.8 122.5L1219.8 122.8L1220.8 122.4L1221.8 122.7L1222.8 122.7L1223.8 122.4L1224.8 123L1225.8 122.5L1226.8 122.8L1227.8 122.6L1228.8 122.7L1229.8 122.6L1230.8 123.1L1231.8 122.8L1232.8 123L1233.8 122.8L1234.8 122.8L1235.8 122.7L1236.8 122.7L1237.8 122.8L1238.8 122.7L1239.8 122.7L1240.8 122.5L1241.8 122.7L1242.8 122.8L1243.8 122.6L1244.8 122.8L1245.8 122.7L1246.8 122.5L1247.8 122.6L1248.8 122.6L1249.8 122.6L1249.8 122.6L1250 122.8L1250.1 122.5L1250.3 122.3L1250.5 122.7L1250.6 122.5L1250.8 122.6L1250.8 123L1251 122.8L1251.1 122.7L1251.3 122.7L1251.5 122.6L1251.6 122.7L1251.8 122.4L1251.8 122.4L1252 122.4L1252.1 122.7L1252.3 122.6L1252.5 122.2L1252.6 122.5L1252.8 122.2L1252.8 122.4L1253 122.1L1253.1 122.1L1253.3 121.8L1253.5 121.5L1253.6 121.1L1253.8 120.2L1253.8 120.1L1254 118L1254.1 114.5L1254.3 107.7L1254.5 99.4L1254.6 92.6L1254.8 91.5L1254.8 91.9L1255 96.3L1255.1 100.5L1255.3 103.1L1255.5 103.8L1255.6 106.5L1255.8 110.4L1255.8 110.5L1256 115L1256.1 118.4L1256.3 120.3L1256.5 121L1256.6 121.4L1256.8 121.7L1256.8 121.6L1257 122.3L1257.1 122.1L1257.3 122.3L1257.5 122.4L1257.6 122.7L1257.8 122.4L1257.8 122.6L1258 122.5L1258.1 122.5L1258.3 122.2L1258.5 122.7L1258.6 122.5L1258.8 122.5L1258.8 122.6L1259 122.6L1259.1 122.8L1259.3 122.5L1259.5 122.7L1259.6 122.7L1259.8 122.7L1260.8 122.8L1261.8 122.7L1262.8 122.9L1263.8 122.7L1264.8 122.6L1265.8 122.8L1266.8 123L1267.8 122.7L1268.8 122.7L1269.8 122.8L1270.8 122.8L1271.8 122.8L1272.8 122.9L1273.8 122.6L1274.8 123.1L1275.8 122.9L1276.8 122.7L1277.8 123.1L1278.8 122.9L1279.8 123.1L1280.8 122.7L1281.8 123.1L1282.8 122.9L1283.8 122.6L1284.8 123L1285.8 122.8L1286.8 122.7L1287.8 122.9L1288.8 122.6L1289.8 123L1290.8 122.9L1291.8 122.9L1292.8 123.1L1293.8 122.9L1294.8 122.8L1295.8 122.8L1296.8 122.9L1297.8 123.1L1298.8 122.8L1299.8 122.8L1300.8 123.1L1301.8 122.9L1302.8 122.9L1303.8 123.3L1304.8 122.8L1305.8 123L1306.8 122.7L1307.8 122.9L1308.8 123.1L1309.8 123.1L1310.8 122.8L1311.8 123.1L1312.8 123.1L1313.8 123L1314.8 123.4L1315.8 123L1316.8 122.9L1317.8 123.1L1318.8 122.7L1319.8 123.2L1320.8 123.2L1321.8 122.9L1322.8 123.1L1323.8 123.1L1324.8 123.3L1325.8 122.9L1326.8 122.8L1327.8 122.7L1328.8 123L1329.8 122.8L1330.8 123L1331.8 123.1L1332.8 123L1333.8 122.9L1334.8 123.2L1335.8 123L1336.8 123.1L1337.8 123.2L1338.8 122.9L1339.8 122.9L1340.8 123.5L1341.8 123.1L1342.8 122.9L1343.8 123L1344.8 123L1345.8 122.9L1346.8 123L1347.8 123.1L1348.8 123.1L1349.8 123.2L1350.8 122.8L1351.8 122.9L1352.8 123.2L1353.8 123.1L1354.8 123.3L1355.8 123.2L1356.8 122.9L1357.8 123.2L1358.8 123L1359.8 123.2L1360.8 123.3L1361.8 123.5L1362.8 123.1L1363.8 123.3L1364.8 123.2L1365.8 123.3L1366.8 122.8L1367.8 123.1L1368.8 123.2L1369.8 123.2L1370.8 123L1371.8 123.3L1372.8 123.3L1373.8 123.2L1374.8 123.1L1375.7 123.1L1375.8 123.1L1375.9 123.3L1376 123.3L1376.2 123L1376.4 122.9L1376.5 123L1376.7 123.2L1376.8 123.1L1376.9 123.1L1377 123.1L1377.2 123.1L1377.4 123L1377.5 122.8L1377.7 122.9L1377.8 123L1377.9 123L1378 122.9L1378.2 122.8L1378.4 123L1378.5 122.7L1378.7 122.7L1378.8 122.6L1378.9 122.5L1379 122.3L1379.2 122.3L1379.4 122L1379.5 121.9L1379.7 120.8L1379.8 120L1379.9 119.3L1380 115.7L1380.2 110.2L1380.4 103.1L1380.5 96.9L1380.7 96.1L1380.8 97.9L1380.9 100.1L1381 103.9L1381.2 106.1L1381.4 107.1L1381.5 108.8L1381.7 112.5L1381.8 114.7L1381.9 116.2L1382 119.3L1382.2 121L1382.4 121.9L1382.5 122.2L1382.7 122.4L1382.8 122.5L1382.9 122.5L1383 122.4L1383.2 122.8L1383.4 123L1383.5 122.9L1383.7 122.9L1383.8 123L1383.9 123L1384 123L1384.2 123.3L1384.4 122.9L1384.5 123.1L1384.7 123.2L1384.8 123.1L1384.9 123L1385.1 122.9L1385.2 123L1385.4 123.2L1385.6 123.3L1385.8 123L1386.8 123.2L1387.8 123.3L1388.8 123.4L1389.8 123.3L1390.8 123.3L1391.8 123.4L1392.8 123.1L1393.8 123.3L1394.8 123L1395.8 123L1396.8 123.1L1397.8 123L1398.8 123.3L1399.8 123.4L1400.8 123.2L1401.8 123.3L1402.8 123.3L1403.8 123.3L1404.8 123.3L1405.8 123.4L1406.8 123.2L1407.8 123.2L1408.8 123.2L1409.8 123.4L1410.8 123.3L1411.8 123.5L1412.8 123.3L1413.8 123.5L1414.8 123.2L1415.8 123.2L1416.8 123.4L1417.8 123.4L1418.8 123.3L1419.8 123.7L1420.8 123.4L1421.8 123.4L1422.8 123.3L1423.8 123.6L1424.8 123.5L1425.8 123.4L1426.8 123.1L1427.8 123.4L1428.8 123.3L1429.8 123.4L1430.8 123.5L1431.8 123.3L1432.8 123.4L1433.8 123.5L1434.8 123.4L1435.8 123.4L1436.8 123.3L1437.8 123.3L1438.8 123.2L1439.8 123.6L1440.8 123.4L1441.8 123.2L1442.8 123.4L1443.8 123.2L1444.8 122.9L1445.8 123.6L1446.8 123.6L1447.8 123.2L1448.8 123.3L1449.8 123.5L1450.8 123.4L1451.8 123.3L1452.8 123.4L1453.8 123.4L1454.8 123.4L1455.8 123.5L1456.8 123.4L1457.8 123.4L1458.8 123.5L1459.8 123.2L1460.8 123.7L1461.8 123.2L1462.8 123.5L1463.3 123.6"/>
</g>
<rect x="52.6" y="1.6" width="880.2" height="487.9" fill="none" stroke="#000" stroke-width="3.4"/>
<line x1="178.3" y1="489.5" x2="178.3" y2="482.5" stroke="#000" stroke-width="3.4"/>
<line x1="429.8" y1="489.5" x2="429.8" y2="482.5" stroke="#000" stroke-width="3.4"/>
<line x1="681.3" y1="489.5" x2="681.3" y2="482.5" stroke="#000" stroke-width="3.4"/>
<line x1="304.1" y1="489.5" x2="304.1" y2="485.5" stroke="#000" stroke-width="3.4"/>
<line x1="555.6" y1="489.5" x2="555.6" y2="485.5" stroke="#000" stroke-width="3.4"/>
<line x1="807.1" y1="489.5" x2="807.1" y2="485.5" stroke="#000" stroke-width="3.4"/>
<rect x="983.8" y="3.0" width="479.5" height="489.3" fill="none" stroke="#000" stroke-width="2.9"/>
<line x1="1052.3" y1="492.3" x2="1052.3" y2="486.3" stroke="#000" stroke-width="2.9"/>
<line x1="1189.3" y1="492.3" x2="1189.3" y2="486.3" stroke="#000" stroke-width="2.9"/>
<line x1="1326.3" y1="492.3" x2="1326.3" y2="486.3" stroke="#000" stroke-width="2.9"/>
<line x1="1120.8" y1="492.3" x2="1120.8" y2="489.3" stroke="#000" stroke-width="2.9"/>
<line x1="1257.8" y1="492.3" x2="1257.8" y2="489.3" stroke="#000" stroke-width="2.9"/>
<line x1="1394.8" y1="492.3" x2="1394.8" y2="489.3" stroke="#000" stroke-width="2.9"/>
<text transform="translate(159.61 522.96) scale(0.3826 0.3388)" fill="#000" stroke="#fff" stroke-width="0.91" font-size="100">20</text>
<text transform="translate(411.88 522.96) scale(0.3745 0.3388)" fill="#000" stroke="#fff" stroke-width="0.93" font-size="100">40</text>
<text transform="translate(662.58 522.96) scale(0.3826 0.3388)" fill="#000" stroke="#fff" stroke-width="0.91" font-size="100">60</text>
<text transform="translate(914.07 522.96) scale(0.3826 0.3388)" fill="#000" stroke="#fff" stroke-width="0.91" font-size="100">80</text>
<text transform="translate(1032.15 527.36) scale(0.3870 0.3433)" fill="#000" stroke="#fff" stroke-width="0.90" font-size="100">20</text>
<text transform="translate(1169.94 527.36) scale(0.3787 0.3433)" fill="#000" stroke="#fff" stroke-width="0.92" font-size="100">40</text>
<text transform="translate(1306.15 527.36) scale(0.3870 0.3433)" fill="#000" stroke="#fff" stroke-width="0.90" font-size="100">60</text>
<text transform="translate(1443.15 527.36) scale(0.3870 0.3433)" fill="#000" stroke="#fff" stroke-width="0.90" font-size="100">80</text>
<text transform="translate(512.22 569.00) scale(0.3707 0.3231)" fill="#000" stroke="#fff" stroke-width="0.94" font-size="100">2</text>
<text transform="translate(527.92 568.79) scale(0.3952 0.3141)" font-style="italic" fill="#000" stroke="#fff" stroke-width="0.89" font-size="100">θ</text>
<text transform="translate(548.10 576.31) scale(0.5429 0.4925)" fill="#000" stroke="#fff" stroke-width="0.64" font-size="100">/</text>
<text transform="translate(565.25 569.10) scale(0.3885 0.3667)" fill="#000" stroke="#fff" stroke-width="0.90" font-size="100">(</text>
<text transform="translate(579.15 564.12) scale(0.2700 0.2533)" fill="#000" stroke="#fff" stroke-width="1.30" font-size="100">°</text>
<text transform="translate(590.60 569.10) scale(0.3654 0.3667)" fill="#000" stroke="#fff" stroke-width="0.95" font-size="100">)</text>
<text transform="translate(1205.87 572.90) scale(0.3829 0.3369)" fill="#000" stroke="#fff" stroke-width="0.91" font-size="100">2</text>
<text transform="translate(1222.98 572.57) scale(0.3833 0.3254)" font-style="italic" fill="#000" stroke="#fff" stroke-width="0.91" font-size="100">θ</text>
<text transform="translate(1242.60 579.91) scale(0.5214 0.4851)" fill="#000" stroke="#fff" stroke-width="0.67" font-size="100">/</text>
<text transform="translate(1259.81 572.82) scale(0.3731 0.3611)" fill="#000" stroke="#fff" stroke-width="0.94" font-size="100">(</text>
<text transform="translate(1273.85 567.94) scale(0.2500 0.2567)" fill="#000" stroke="#fff" stroke-width="1.36" font-size="100">°</text>
<text transform="translate(1284.58 572.82) scale(0.3731 0.3611)" fill="#000" stroke="#fff" stroke-width="0.94" font-size="100">)</text>
<text transform="translate(27.63 319.16) rotate(-90) scale(0.4153 0.3348)" fill="#000" stroke="#fff" stroke-width="0.84" font-size="100">Intensity</text>
<text transform="translate(117.09 76.01) rotate(-90) scale(0.3279 0.3119)" fill="#000" stroke="#fff" stroke-width="1.07" font-size="100">001</text>
<text transform="translate(271.69 80.97) rotate(-90) scale(0.3296 0.3119)" fill="#000" stroke="#fff" stroke-width="1.06" font-size="100">101</text>
<text transform="translate(340.60 175.11) rotate(-90) scale(0.3270 0.3030)" fill="#000" stroke="#fff" stroke-width="1.07" font-size="100">002</text>
<text transform="translate(371.51 200.69) rotate(-90) scale(0.3429 0.2866)" fill="#000" stroke="#fff" stroke-width="1.02" font-size="100">110</text>
<text transform="translate(408.80 174.76) rotate(-90) scale(0.3398 0.2969)" fill="#000" stroke="#fff" stroke-width="1.03" font-size="100">111</text>
<text transform="translate(448.50 202.08) rotate(-90) scale(0.3316 0.2955)" fill="#000" stroke="#fff" stroke-width="1.06" font-size="100">102</text>
<text transform="translate(514.00 170.88) rotate(-90) scale(0.3417 0.3092)" fill="#000" stroke="#fff" stroke-width="1.02" font-size="100">112</text>
<text transform="translate(541.39 66.09) rotate(-90) scale(0.3232 0.3060)" fill="#000" stroke="#fff" stroke-width="1.08" font-size="100">200</text>
<text transform="translate(570.10 127.32) rotate(-90) scale(0.3289 0.3015)" fill="#000" stroke="#fff" stroke-width="1.06" font-size="100">003</text>
<text transform="translate(588.60 198.93) rotate(-90) scale(0.3336 0.3015)" fill="#000" stroke="#fff" stroke-width="1.05" font-size="100">201</text>
<text transform="translate(629.20 155.46) rotate(-90) scale(0.3292 0.3045)" fill="#000" stroke="#fff" stroke-width="1.06" font-size="100">103</text>
<text transform="translate(664.20 182.94) rotate(-90) scale(0.3353 0.3062)" fill="#000" stroke="#fff" stroke-width="1.04" font-size="100">211</text>
<text transform="translate(707.30 203.79) rotate(-90) scale(0.3429 0.3045)" fill="#000" stroke="#fff" stroke-width="1.02" font-size="100">113</text>
<text transform="translate(783.30 157.24) rotate(-90) scale(0.3338 0.3045)" fill="#000" stroke="#fff" stroke-width="1.05" font-size="100">004</text>
<text transform="translate(818.09 197.42) rotate(-90) scale(0.3310 0.3149)" fill="#000" stroke="#fff" stroke-width="1.06" font-size="100">220</text>
<text transform="translate(822.89 96.52) rotate(-90) scale(0.3310 0.3060)" fill="#000" stroke="#fff" stroke-width="1.06" font-size="100">203</text>
<text transform="translate(857.69 199.78) rotate(-90) scale(0.3307 0.3060)" fill="#000" stroke="#fff" stroke-width="1.06" font-size="100">104</text>
<text transform="translate(894.50 198.10) rotate(-90) scale(0.3261 0.2955)" fill="#000" stroke="#fff" stroke-width="1.07" font-size="100">213</text>
<text transform="translate(927.19 201.84) rotate(-90) scale(0.3281 0.3060)" fill="#000" stroke="#fff" stroke-width="1.07" font-size="100">301</text>
<line x1="532.0" y1="72.0" x2="532.0" y2="179.0" stroke="#000" stroke-width="1.5"/>
<polygon points="532.0,179.0 529.0,171.0 535.0,171.0" fill="#000"/>
<line x1="816.0" y1="101.4" x2="828.4" y2="198.6" stroke="#000" stroke-width="1.5"/>
<polygon points="828.4,198.6 824.4,191.0 830.4,190.3" fill="#000"/>
<text transform="translate(869.05 46.81) scale(0.3615 0.3756)" fill="#000" stroke="#fff" stroke-width="0.93" font-size="100">(</text>
<text transform="translate(882.04 46.27) scale(0.4200 0.3250)" fill="#000" stroke="#fff" stroke-width="0.83" font-size="100">a</text>
<text transform="translate(901.97 46.81) scale(0.3423 0.3756)" fill="#000" stroke="#fff" stroke-width="0.93" font-size="100">)</text>
<text transform="translate(1041.80 46.94) scale(0.3500 0.3789)" fill="#000" stroke="#fff" stroke-width="0.92" font-size="100">(</text>
<text transform="translate(1056.00 46.46) scale(0.3957 0.3429)" fill="#000" stroke="#fff" stroke-width="0.88" font-size="100">b</text>
<text transform="translate(1076.88 46.94) scale(0.3385 0.3789)" fill="#000" stroke="#fff" stroke-width="0.92" font-size="100">)</text>
<g>
<g transform="translate(142.40 167.30) scale(0.1590 0.1380)" fill="none" stroke="#000" stroke-linecap="round">
<path stroke-width="7" d="M4,31 C12,12 25,4 37,4 C47,4 54,9 55,17 M41,85 C36,95 28,97 19,97 C10,97 6,93 6,88 M58,16 C64,7 72,4 80,4 C88,4 92,8 92,12 M46,84 C50,94 56,97 64,97 C79,97 91,84 95,64"/>
<path stroke-width="12" stroke-linecap="butt" d="M55,15 L42,86"/>
<circle cx="10" cy="83" r="9" fill="#000" stroke="none"/><circle cx="88" cy="17" r="9" fill="#000" stroke="none"/>
</g>
<rect x="169.40" y="167.80" width="24.30" height="1.90" fill="#000"/>
<rect x="169.40" y="175.10" width="24.30" height="1.90" fill="#000"/>
<text transform="translate(202.49 181.55) scale(0.3786 0.3507)" fill="#000" stroke="#fff" stroke-width="0.92" font-size="100">0</text>
<g transform="translate(140.80 253.70) scale(0.1780 0.1510)" fill="none" stroke="#ff0000" stroke-linecap="round">
<path stroke-width="7" d="M4,31 C12,12 25,4 37,4 C47,4 54,9 55,17 M41,85 C36,95 28,97 19,97 C10,97 6,93 6,88 M58,16 C64,7 72,4 80,4 C88,4 92,8 92,12 M46,84 C50,94 56,97 64,97 C79,97 91,84 95,64"/>
<path stroke-width="12" stroke-linecap="butt" d="M55,15 L42,86"/>
<circle cx="10" cy="83" r="9" fill="#ff0000" stroke="none"/><circle cx="88" cy="17" r="9" fill="#ff0000" stroke="none"/>
</g>
<rect x="169.80" y="255.30" width="24.80" height="1.90" fill="#ff0000"/>
<rect x="169.80" y="262.80" width="24.80" height="1.90" fill="#ff0000"/>
<text transform="translate(202.95 269.05) scale(0.3873 0.3463)" fill="#ff0000" stroke="#fff" stroke-width="0.90" font-size="100">0.02</text>
</g>
<g transform="translate(145.70 361.20) scale(0.1730 0.1430)" fill="none" stroke="#0000ff" stroke-linecap="round">
<path stroke-width="7" d="M4,31 C12,12 25,4 37,4 C47,4 54,9 55,17 M41,85 C36,95 28,97 19,97 C10,97 6,93 6,88 M58,16 C64,7 72,4 80,4 C88,4 92,8 92,12 M46,84 C50,94 56,97 64,97 C79,97 91,84 95,64"/>
<path stroke-width="12" stroke-linecap="butt" d="M55,15 L42,86"/>
<circle cx="10" cy="83" r="9" fill="#0000ff" stroke="none"/><circle cx="88" cy="17" r="9" fill="#0000ff" stroke="none"/>
</g>
<rect x="174.30" y="362.20" width="24.30" height="1.90" fill="#0000ff"/>
<rect x="174.30" y="369.70" width="24.30" height="1.90" fill="#0000ff"/>
<text transform="translate(207.35 375.35) scale(0.3874 0.3478)" fill="#0000ff" stroke="#fff" stroke-width="0.90" font-size="100">0.05</text>
<g transform="translate(146.00 433.80) scale(0.1700 0.1420)" fill="none" stroke="#008000" stroke-linecap="round">
<path stroke-width="7" d="M4,31 C12,12 25,4 37,4 C47,4 54,9 55,17 M41,85 C36,95 28,97 19,97 C10,97 6,93 6,88 M58,16 C64,7 72,4 80,4 C88,4 92,8 92,12 M46,84 C50,94 56,97 64,97 C79,97 91,84 95,64"/>
<path stroke-width="12" stroke-linecap="butt" d="M55,15 L42,86"/>
<circle cx="10" cy="83" r="9" fill="#008000" stroke="none"/><circle cx="88" cy="17" r="9" fill="#008000" stroke="none"/>
</g>
<rect x="175.20" y="435.00" width="23.90" height="1.90" fill="#008000"/>
<rect x="175.20" y="442.40" width="23.90" height="1.90" fill="#008000"/>
<text transform="translate(208.48 447.66) scale(0.3800 0.3388)" fill="#008000" stroke="#fff" stroke-width="0.92" font-size="100">0.1</text>
<g transform="translate(1040.40 96.20) scale(0.1800 0.1560)" fill="none" stroke="#000" stroke-linecap="round">
<path stroke-width="7" d="M4,31 C12,12 25,4 37,4 C47,4 54,9 55,17 M41,85 C36,95 28,97 19,97 C10,97 6,93 6,88 M58,16 C64,7 72,4 80,4 C88,4 92,8 92,12 M46,84 C50,94 56,97 64,97 C79,97 91,84 95,64"/>
<path stroke-width="12" stroke-linecap="butt" d="M55,15 L42,86"/>
<circle cx="10" cy="83" r="9" fill="#000" stroke="none"/><circle cx="88" cy="17" r="9" fill="#000" stroke="none"/>
</g>
<rect x="1069.40" y="98.50" width="24.30" height="1.90" fill="#000"/>
<rect x="1069.40" y="105.90" width="24.30" height="1.90" fill="#000"/>
<text transform="translate(1102.48 111.46) scale(0.3810 0.3358)" fill="#000" stroke="#fff" stroke-width="0.92" font-size="100">0</text>
<g transform="translate(1040.50 188.10) scale(0.1800 0.1610)" fill="none" stroke="#ff0000" stroke-linecap="round">
<path stroke-width="7" d="M4,31 C12,12 25,4 37,4 C47,4 54,9 55,17 M41,85 C36,95 28,97 19,97 C10,97 6,93 6,88 M58,16 C64,7 72,4 80,4 C88,4 92,8 92,12 M46,84 C50,94 56,97 64,97 C79,97 91,84 95,64"/>
<path stroke-width="12" stroke-linecap="butt" d="M55,15 L42,86"/>
<circle cx="10" cy="83" r="9" fill="#ff0000" stroke="none"/><circle cx="88" cy="17" r="9" fill="#ff0000" stroke="none"/>
</g>
<rect x="1069.40" y="191.20" width="24.40" height="1.90" fill="#ff0000"/>
<rect x="1069.40" y="198.90" width="24.40" height="1.90" fill="#ff0000"/>
<text transform="translate(1102.45 204.06) scale(0.3873 0.3448)" fill="#ff0000" stroke="#fff" stroke-width="0.90" font-size="100">0.02</text>
<g transform="translate(1040.50 309.80) scale(0.1800 0.1610)" fill="none" stroke="#0000ff" stroke-linecap="round">
<path stroke-width="7" d="M4,31 C12,12 25,4 37,4 C47,4 54,9 55,17 M41,85 C36,95 28,97 19,97 C10,97 6,93 6,88 M58,16 C64,7 72,4 80,4 C88,4 92,8 92,12 M46,84 C50,94 56,97 64,97 C79,97 91,84 95,64"/>
<path stroke-width="12" stroke-linecap="butt" d="M55,15 L42,86"/>
<circle cx="10" cy="83" r="9" fill="#0000ff" stroke="none"/><circle cx="88" cy="17" r="9" fill="#0000ff" stroke="none"/>
</g>
<rect x="1069.40" y="312.90" width="24.40" height="1.90" fill="#0000ff"/>
<rect x="1069.40" y="320.60" width="24.40" height="1.90" fill="#0000ff"/>
<text transform="translate(1102.46 326.25) scale(0.3844 0.3522)" fill="#0000ff" stroke="#fff" stroke-width="0.91" font-size="100">0.05</text>
<g transform="translate(1040.50 413.90) scale(0.1800 0.1610)" fill="none" stroke="#008000" stroke-linecap="round">
<path stroke-width="7" d="M4,31 C12,12 25,4 37,4 C47,4 54,9 55,17 M41,85 C36,95 28,97 19,97 C10,97 6,93 6,88 M58,16 C64,7 72,4 80,4 C88,4 92,8 92,12 M46,84 C50,94 56,97 64,97 C79,97 91,84 95,64"/>
<path stroke-width="12" stroke-linecap="butt" d="M55,15 L42,86"/>
<circle cx="10" cy="83" r="9" fill="#008000" stroke="none"/><circle cx="88" cy="17" r="9" fill="#008000" stroke="none"/>
</g>
<rect x="1069.40" y="417.00" width="24.40" height="1.90" fill="#008000"/>
<rect x="1069.40" y="424.70" width="24.40" height="1.90" fill="#008000"/>
<text transform="translate(1102.46 430.25) scale(0.3852 0.3507)" fill="#008000" stroke="#fff" stroke-width="0.91" font-size="100">0.1</text>
<text transform="translate(1016.24 65.11) rotate(-90) scale(0.3786 0.3642)" fill="#000" stroke="#fff" stroke-width="0.92" font-size="100">001</text>
<text transform="translate(1150.84 106.71) rotate(-90) scale(0.3787 0.3612)" fill="#000" stroke="#fff" stroke-width="0.92" font-size="100">002</text>
<text transform="translate(1268.15 85.41) rotate(-90) scale(0.3768 0.3507)" fill="#000" stroke="#fff" stroke-width="0.93" font-size="100">003</text>
<text transform="translate(1397.44 92.29) rotate(-90) scale(0.3717 0.3567)" fill="#000" stroke="#fff" stroke-width="0.94" font-size="100">004</text>
<line x1="169.1" y1="626.2" x2="640.2" y2="626.2" stroke="#000" stroke-width="3.2"/>
<line x1="169.1" y1="1126.5" x2="640.2" y2="1126.5" stroke="#000" stroke-width="3.2"/>
<line x1="170.7" y1="626.2" x2="170.7" y2="1126.5" stroke="#000" stroke-width="3.2"/>
<line x1="640.2" y1="624.6" x2="640.2" y2="1128.1" stroke="#ff0000" stroke-width="3.2"/>
<line x1="170.7" y1="647.4" x2="176.7" y2="647.4" stroke="#000" stroke-width="3.2"/>
<text transform="translate(76.54 662.65) scale(0.3916 0.3463)" fill="#000" stroke="#fff" stroke-width="0.89" font-size="100">3.801</text>
<line x1="170.7" y1="747.4" x2="176.7" y2="747.4" stroke="#000" stroke-width="3.2"/>
<text transform="translate(76.59 762.60) scale(0.3826 0.3463)" fill="#000" stroke="#fff" stroke-width="0.91" font-size="100">3.794</text>
<line x1="170.7" y1="847.3" x2="176.7" y2="847.3" stroke="#000" stroke-width="3.2"/>
<text transform="translate(76.57 862.55) scale(0.3862 0.3463)" fill="#000" stroke="#fff" stroke-width="0.91" font-size="100">3.787</text>
<line x1="170.7" y1="947.3" x2="176.7" y2="947.3" stroke="#000" stroke-width="3.2"/>
<text transform="translate(76.56 962.50) scale(0.3880 0.3463)" fill="#000" stroke="#fff" stroke-width="0.90" font-size="100">3.780</text>
<line x1="170.7" y1="1047.2" x2="176.7" y2="1047.2" stroke="#000" stroke-width="3.2"/>
<text transform="translate(76.56 1062.45) scale(0.3880 0.3463)" fill="#000" stroke="#fff" stroke-width="0.90" font-size="100">3.773</text>
<line x1="170.7" y1="697.4" x2="173.7" y2="697.4" stroke="#000" stroke-width="3.2"/>
<line x1="170.7" y1="797.3" x2="173.7" y2="797.3" stroke="#000" stroke-width="3.2"/>
<line x1="170.7" y1="897.3" x2="173.7" y2="897.3" stroke="#000" stroke-width="3.2"/>
<line x1="170.7" y1="997.2" x2="173.7" y2="997.2" stroke="#000" stroke-width="3.2"/>
<line x1="170.7" y1="1097.2" x2="173.7" y2="1097.2" stroke="#000" stroke-width="3.2"/>
<line x1="640.2" y1="689.1" x2="634.2" y2="689.1" stroke="#ff0000" stroke-width="3.2"/>
<text transform="translate(646.84 706.05) scale(0.3933 0.3530)" fill="#ff0000" stroke="#fff" stroke-width="0.89" font-size="100">5.52</text>
<line x1="640.2" y1="816.2" x2="634.2" y2="816.2" stroke="#ff0000" stroke-width="3.2"/>
<text transform="translate(646.83 833.11) scale(0.3957 0.3530)" fill="#ff0000" stroke="#fff" stroke-width="0.88" font-size="100">5.51</text>
<line x1="640.2" y1="943.2" x2="634.2" y2="943.2" stroke="#ff0000" stroke-width="3.2"/>
<text transform="translate(646.85 960.19) scale(0.3909 0.3478)" fill="#ff0000" stroke="#fff" stroke-width="0.90" font-size="100">5.50</text>
<line x1="640.2" y1="1070.3" x2="634.2" y2="1070.3" stroke="#ff0000" stroke-width="3.2"/>
<text transform="translate(646.85 1087.25) scale(0.3909 0.3478)" fill="#ff0000" stroke="#fff" stroke-width="0.90" font-size="100">5.49</text>
<line x1="640.2" y1="752.6" x2="637.2" y2="752.6" stroke="#ff0000" stroke-width="3.2"/>
<line x1="640.2" y1="879.7" x2="637.2" y2="879.7" stroke="#ff0000" stroke-width="3.2"/>
<line x1="640.2" y1="1006.8" x2="637.2" y2="1006.8" stroke="#ff0000" stroke-width="3.2"/>
<line x1="209.2" y1="1126.5" x2="209.2" y2="1120.5" stroke="#000" stroke-width="3.2"/>
<line x1="405.0" y1="1126.5" x2="405.0" y2="1120.5" stroke="#000" stroke-width="3.2"/>
<line x1="600.7" y1="1126.5" x2="600.7" y2="1120.5" stroke="#000" stroke-width="3.2"/>
<line x1="307.1" y1="1126.5" x2="307.1" y2="1123.5" stroke="#000" stroke-width="3.2"/>
<line x1="502.8" y1="1126.5" x2="502.8" y2="1123.5" stroke="#000" stroke-width="3.2"/>
<text transform="translate(199.01 1163.27) scale(0.3976 0.3254)" fill="#000" stroke="#fff" stroke-width="0.88" font-size="100">0</text>
<text transform="translate(373.27 1162.87) scale(0.3820 0.3313)" fill="#000" stroke="#fff" stroke-width="0.92" font-size="100">0.05</text>
<text transform="translate(569.33 1163.27) scale(0.3916 0.3254)" fill="#000" stroke="#fff" stroke-width="0.89" font-size="100">0.10</text>
<g transform="translate(396.40 1184.90) scale(0.1770 0.1690)" fill="none" stroke="#000" stroke-linecap="round">
<path stroke-width="7" d="M4,31 C12,12 25,4 37,4 C47,4 54,9 55,17 M41,85 C36,95 28,97 19,97 C10,97 6,93 6,88 M58,16 C64,7 72,4 80,4 C88,4 92,8 92,12 M46,84 C50,94 56,97 64,97 C79,97 91,84 95,64"/>
<path stroke-width="12" stroke-linecap="butt" d="M55,15 L42,86"/>
<circle cx="10" cy="83" r="9" fill="#000" stroke="none"/><circle cx="88" cy="17" r="9" fill="#000" stroke="none"/>
</g>
<text transform="translate(235.83 682.86) scale(0.3423 0.3733)" fill="#000" stroke="#fff" stroke-width="0.94" font-size="100">(</text>
<text transform="translate(248.36 682.48) scale(0.3838 0.3208)" fill="#000" stroke="#fff" stroke-width="0.91" font-size="100">c</text>
<text transform="translate(266.97 682.86) scale(0.3423 0.3733)" fill="#000" stroke="#fff" stroke-width="0.94" font-size="100">)</text>
<line x1="190.3" y1="664.7" x2="620.8" y2="1096.8" stroke="#ff0000" stroke-width="3.2"/>
<line x1="189.5" y1="1102.2" x2="619.8" y2="652.1" stroke="#000" stroke-width="3.2"/>
<line x1="209.2" y1="1085.0" x2="209.2" y2="1102.3" stroke="#000" stroke-width="1.6"/>
<line x1="205.9" y1="1085.0" x2="212.5" y2="1085.0" stroke="#000" stroke-width="1.6"/>
<line x1="205.9" y1="1102.3" x2="212.5" y2="1102.3" stroke="#000" stroke-width="1.6"/>
<rect x="205.7" y="1090.0" width="7" height="7" fill="#000"/>
<line x1="287.3" y1="1004.0" x2="287.3" y2="1023.2" stroke="#000" stroke-width="1.6"/>
<line x1="284.0" y1="1004.0" x2="290.6" y2="1004.0" stroke="#000" stroke-width="1.6"/>
<line x1="284.0" y1="1023.2" x2="290.6" y2="1023.2" stroke="#000" stroke-width="1.6"/>
<rect x="283.8" y="1010.1" width="7" height="7" fill="#000"/>
<line x1="404.8" y1="802.0" x2="404.8" y2="864.2" stroke="#000" stroke-width="1.6"/>
<line x1="401.5" y1="802.0" x2="408.1" y2="802.0" stroke="#000" stroke-width="1.6"/>
<line x1="401.5" y1="864.2" x2="408.1" y2="864.2" stroke="#000" stroke-width="1.6"/>
<rect x="401.3" y="829.3" width="7" height="7" fill="#000"/>
<line x1="600.7" y1="677.8" x2="600.7" y2="706.1" stroke="#000" stroke-width="1.6"/>
<line x1="597.4" y1="677.8" x2="604.0" y2="677.8" stroke="#000" stroke-width="1.6"/>
<line x1="597.4" y1="706.1" x2="604.0" y2="706.1" stroke="#000" stroke-width="1.6"/>
<rect x="597.2" y="688.3" width="7" height="7" fill="#000"/>
<line x1="210.0" y1="664.5" x2="210.0" y2="681.1" stroke="#ff0000" stroke-width="1.6"/>
<line x1="206.7" y1="664.5" x2="213.3" y2="664.5" stroke="#ff0000" stroke-width="1.6"/>
<line x1="206.7" y1="681.1" x2="213.3" y2="681.1" stroke="#ff0000" stroke-width="1.6"/>
<circle cx="210.0" cy="672.8" r="4" fill="#ff0000"/>
<line x1="288.5" y1="732.9" x2="288.5" y2="758.0" stroke="#ff0000" stroke-width="1.6"/>
<line x1="285.2" y1="732.9" x2="291.8" y2="732.9" stroke="#ff0000" stroke-width="1.6"/>
<line x1="285.2" y1="758.0" x2="291.8" y2="758.0" stroke="#ff0000" stroke-width="1.6"/>
<circle cx="288.5" cy="745.3" r="4" fill="#ff0000"/>
<line x1="405.9" y1="895.8" x2="405.9" y2="968.1" stroke="#ff0000" stroke-width="1.6"/>
<line x1="402.6" y1="895.8" x2="409.2" y2="895.8" stroke="#ff0000" stroke-width="1.6"/>
<line x1="402.6" y1="968.1" x2="409.2" y2="968.1" stroke="#ff0000" stroke-width="1.6"/>
<circle cx="405.9" cy="931.8" r="4" fill="#ff0000"/>
<line x1="601.7" y1="1039.5" x2="601.7" y2="1070.9" stroke="#ff0000" stroke-width="1.6"/>
<line x1="598.4" y1="1039.5" x2="605.0" y2="1039.5" stroke="#ff0000" stroke-width="1.6"/>
<line x1="598.4" y1="1070.9" x2="605.0" y2="1070.9" stroke="#ff0000" stroke-width="1.6"/>
<circle cx="601.7" cy="1055.3" r="4" fill="#ff0000"/>
<text transform="translate(47.27 890.41) rotate(-90) scale(0.4023 0.3313)" font-style="italic" fill="#000" stroke="#fff" stroke-width="0.87" font-size="100">a</text>
<text transform="translate(54.51 867.90) rotate(-90) scale(0.4964 0.4925)" fill="#000" stroke="#fff" stroke-width="0.71" font-size="100">/</text>
<text transform="translate(46.60 850.33) rotate(-90) scale(0.3338 0.3455)" fill="#000" stroke="#fff" stroke-width="1.01" font-size="100">A</text>
<circle cx="19.6" cy="837.9" r="2.3" fill="none" stroke="#000" stroke-width="1.1"/>
<text transform="translate(763.67 916.77) rotate(-90) scale(0.3900 0.3271)" font-style="italic" fill="#ff0000" stroke="#fff" stroke-width="0.90" font-size="100">c</text>
<text transform="translate(770.91 897.50) rotate(-90) scale(0.4821 0.4910)" fill="#ff0000" stroke="#fff" stroke-width="0.71" font-size="100">/</text>
<text transform="translate(763.20 880.85) rotate(-90) scale(0.3451 0.3515)" fill="#ff0000" stroke="#fff" stroke-width="1.00" font-size="100">A</text>
<circle cx="736.0" cy="868.0" r="2.4" fill="none" stroke="#ff0000" stroke-width="1.1"/>
<rect x="992.8" y="624.6" width="467.7" height="501.2" fill="none" stroke="#000" stroke-width="3.2"/>
<line x1="992.8" y1="679.7" x2="998.8" y2="679.7" stroke="#000" stroke-width="3.2"/>
<text transform="translate(916.23 689.76) scale(0.3957 0.3403)" fill="#000" stroke="#fff" stroke-width="0.88" font-size="100">79.2</text>
<line x1="992.8" y1="791.3" x2="998.8" y2="791.3" stroke="#000" stroke-width="3.2"/>
<text transform="translate(916.24 801.33) scale(0.3933 0.3403)" fill="#000" stroke="#fff" stroke-width="0.89" font-size="100">79.0</text>
<line x1="992.8" y1="902.9" x2="998.8" y2="902.9" stroke="#000" stroke-width="3.2"/>
<text transform="translate(916.24 912.91) scale(0.3933 0.3403)" fill="#000" stroke="#fff" stroke-width="0.89" font-size="100">78.8</text>
<line x1="992.8" y1="1014.4" x2="998.8" y2="1014.4" stroke="#000" stroke-width="3.2"/>
<text transform="translate(916.25 1024.48) scale(0.3910 0.3403)" fill="#000" stroke="#fff" stroke-width="0.90" font-size="100">78.6</text>
<line x1="992.8" y1="1126.0" x2="998.8" y2="1126.0" stroke="#000" stroke-width="3.2"/>
<text transform="translate(916.28 1136.06) scale(0.3863 0.3403)" fill="#000" stroke="#fff" stroke-width="0.91" font-size="100">78.4</text>
<line x1="992.8" y1="735.5" x2="995.8" y2="735.5" stroke="#000" stroke-width="3.2"/>
<line x1="992.8" y1="847.1" x2="995.8" y2="847.1" stroke="#000" stroke-width="3.2"/>
<line x1="992.8" y1="958.6" x2="995.8" y2="958.6" stroke="#000" stroke-width="3.2"/>
<line x1="992.8" y1="1070.2" x2="995.8" y2="1070.2" stroke="#000" stroke-width="3.2"/>
<line x1="1031.3" y1="1125.8" x2="1031.3" y2="1119.8" stroke="#000" stroke-width="3.2"/>
<line x1="1226.3" y1="1125.8" x2="1226.3" y2="1119.8" stroke="#000" stroke-width="3.2"/>
<line x1="1421.3" y1="1125.8" x2="1421.3" y2="1119.8" stroke="#000" stroke-width="3.2"/>
<line x1="1128.8" y1="1125.8" x2="1128.8" y2="1122.8" stroke="#000" stroke-width="3.2"/>
<line x1="1323.8" y1="1125.8" x2="1323.8" y2="1122.8" stroke="#000" stroke-width="3.2"/>
<text transform="translate(1025.21 1161.87) scale(0.3714 0.3254)" fill="#000" stroke="#fff" stroke-width="0.94" font-size="100">0</text>
<text transform="translate(1194.24 1161.26) scale(0.3904 0.3403)" fill="#000" stroke="#fff" stroke-width="0.90" font-size="100">0.05</text>
<text transform="translate(1390.15 1161.26) scale(0.3880 0.3403)" fill="#000" stroke="#fff" stroke-width="0.90" font-size="100">0.10</text>
<g transform="translate(1221.40 1182.30) scale(0.1840 0.1620)" fill="none" stroke="#000" stroke-linecap="round">
<path stroke-width="7" d="M4,31 C12,12 25,4 37,4 C47,4 54,9 55,17 M41,85 C36,95 28,97 19,97 C10,97 6,93 6,88 M58,16 C64,7 72,4 80,4 C88,4 92,8 92,12 M46,84 C50,94 56,97 64,97 C79,97 91,84 95,64"/>
<path stroke-width="12" stroke-linecap="butt" d="M55,15 L42,86"/>
<circle cx="10" cy="83" r="9" fill="#000" stroke="none"/><circle cx="88" cy="17" r="9" fill="#000" stroke="none"/>
</g>
<text transform="translate(1061.10 677.11) scale(0.3500 0.3756)" fill="#000" stroke="#fff" stroke-width="0.93" font-size="100">(</text>
<text transform="translate(1073.71 676.46) scale(0.3978 0.3400)" fill="#000" stroke="#fff" stroke-width="0.88" font-size="100">d</text>
<text transform="translate(1096.04 677.11) scale(0.3538 0.3756)" fill="#000" stroke="#fff" stroke-width="0.93" font-size="100">)</text>
<line x1="1011.7" y1="1108.3" x2="1441.0" y2="651.3" stroke="#000" stroke-width="3.2"/>
<line x1="1031.3" y1="1081.3" x2="1031.3" y2="1097.3" stroke="#000" stroke-width="1.6"/>
<line x1="1028.0" y1="1081.3" x2="1034.6" y2="1081.3" stroke="#000" stroke-width="1.6"/>
<line x1="1028.0" y1="1097.3" x2="1034.6" y2="1097.3" stroke="#000" stroke-width="1.6"/>
<polygon points="1031.3,1084.7 1035.8,1089.2 1031.3,1093.7 1026.8,1089.2" fill="#000"/>
<line x1="1109.6" y1="997.3" x2="1109.6" y2="1012.3" stroke="#000" stroke-width="1.6"/>
<line x1="1106.3" y1="997.3" x2="1112.9" y2="997.3" stroke="#000" stroke-width="1.6"/>
<line x1="1106.3" y1="1012.3" x2="1112.9" y2="1012.3" stroke="#000" stroke-width="1.6"/>
<polygon points="1109.6,1000.1 1114.1,1004.6 1109.6,1009.1 1105.1,1004.6" fill="#000"/>
<line x1="1226.3" y1="801.2" x2="1226.3" y2="857.1" stroke="#000" stroke-width="1.6"/>
<line x1="1223.0" y1="801.2" x2="1229.6" y2="801.2" stroke="#000" stroke-width="1.6"/>
<line x1="1223.0" y1="857.1" x2="1229.6" y2="857.1" stroke="#000" stroke-width="1.6"/>
<polygon points="1226.3,825.1 1230.8,829.6 1226.3,834.1 1221.8,829.6" fill="#000"/>
<line x1="1421.9" y1="664.8" x2="1421.9" y2="689.7" stroke="#000" stroke-width="1.6"/>
<line x1="1418.6" y1="664.8" x2="1425.2" y2="664.8" stroke="#000" stroke-width="1.6"/>
<line x1="1418.6" y1="689.7" x2="1425.2" y2="689.7" stroke="#000" stroke-width="1.6"/>
<polygon points="1421.9,672.5 1426.4,677.0 1421.9,681.5 1417.4,677.0" fill="#000"/>
<text transform="translate(872.64 927.50) rotate(-90) scale(0.3803 0.3606)" font-style="italic" fill="#000" stroke="#fff" stroke-width="0.92" font-size="100">V</text>
<text transform="translate(879.51 903.00) rotate(-90) scale(0.4643 0.4925)" fill="#000" stroke="#fff" stroke-width="0.71" font-size="100">/</text>
<text transform="translate(872.30 886.34) rotate(-90) scale(0.3380 0.3409)" fill="#000" stroke="#fff" stroke-width="1.03" font-size="100">A</text>
<circle cx="844.6" cy="874.0" r="2.3" fill="none" stroke="#000" stroke-width="1.1"/>
<text transform="translate(862.16 860.87) rotate(-90) scale(0.2732 0.2373)" fill="#000" stroke="#fff" stroke-width="1.28" font-size="100">3</text>
</svg></body></html>
